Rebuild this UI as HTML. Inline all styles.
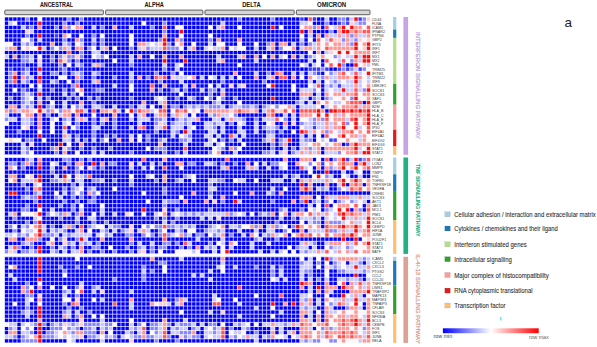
<!DOCTYPE html>
<html><head><meta charset="utf-8"><style>
html,body{margin:0;padding:0;background:#fff;}
body{width:597px;height:347px;overflow:hidden;position:relative;}
svg{position:absolute;left:0;top:0;display:block;}
text{font-family:"Liberation Sans",sans-serif;}
</style></head><body>
<svg width="597" height="347" viewBox="0 0 597 347">
<rect width="597" height="347" fill="#fff"/>
<g font-weight="bold" font-size="6.4" fill="#1a1a1a" stroke="#1a1a1a" stroke-width="0.06" text-anchor="middle">
<text x="56.5" y="6.8" textLength="33.2" lengthAdjust="spacingAndGlyphs">ANCESTRAL</text>
<text x="154.2" y="6.8" textLength="19.5" lengthAdjust="spacingAndGlyphs">ALPHA</text>
<text x="251.4" y="6.8" textLength="18.4" lengthAdjust="spacingAndGlyphs">DELTA</text>
<text x="331.6" y="6.8" textLength="29.2" lengthAdjust="spacingAndGlyphs">OMICRON</text>
</g>
<g fill="#d6d6d6" stroke="#505050" stroke-width="0.9">
<rect x="4.8" y="10.1" width="98.6" height="4.6" rx="0.8"/>
<rect x="105.6" y="10.1" width="97.3" height="4.6" rx="0.8"/>
<rect x="205" y="10.1" width="89.2" height="4.6" rx="0.8"/>
<rect x="296.4" y="10.1" width="73.6" height="4.6" rx="0.8"/>
</g>
<path fill="#0000fa" d="M4.50 17.00h20.80v4.18h-20.80zM29.46 17.00h8.32v4.18h-8.32zM41.94 17.00h24.96v4.18h-24.96zM71.06 17.00h8.32v4.18h-8.32zM83.54 17.00h153.92v4.18h-153.92zM241.62 17.00h29.12v4.18h-29.12zM274.90 17.00h24.96v4.18h-24.96zM304.02 17.00h4.16v4.18h-4.16zM316.50 17.00h8.32v4.18h-8.32zM328.98 17.00h8.32v4.18h-8.32zM4.50 21.18h4.16v4.18h-4.16zM16.98 21.18h20.80v4.18h-20.80zM41.94 21.18h20.80v4.18h-20.80zM66.90 21.18h8.32v4.18h-8.32zM79.38 21.18h62.40v4.18h-62.40zM145.94 21.18h16.64v4.18h-16.64zM166.74 21.18h54.08v4.18h-54.08zM224.98 21.18h74.88v4.18h-74.88zM312.34 21.18h12.48v4.18h-12.48zM328.98 21.18h8.32v4.18h-8.32zM4.50 25.35h16.64v4.18h-16.64zM33.62 25.35h4.16v4.18h-4.16zM41.94 25.35h12.48v4.18h-12.48zM58.58 25.35h4.16v4.18h-4.16zM83.54 25.35h8.32v4.18h-8.32zM96.02 25.35h4.16v4.18h-4.16zM104.34 25.35h8.32v4.18h-8.32zM116.82 25.35h12.48v4.18h-12.48zM133.46 25.35h16.64v4.18h-16.64zM154.26 25.35h8.32v4.18h-8.32zM166.74 25.35h8.32v4.18h-8.32zM183.38 25.35h24.96v4.18h-24.96zM212.50 25.35h4.16v4.18h-4.16zM224.98 25.35h12.48v4.18h-12.48zM241.62 25.35h29.12v4.18h-29.12zM274.90 25.35h4.16v4.18h-4.16zM283.22 25.35h16.64v4.18h-16.64zM320.66 25.35h4.16v4.18h-4.16zM4.50 29.53h20.80v4.18h-20.80zM33.62 29.53h128.96v4.18h-128.96zM166.74 29.53h12.48v4.18h-12.48zM183.38 29.53h116.48v4.18h-116.48zM304.02 29.53h4.16v4.18h-4.16zM312.34 29.53h16.64v4.18h-16.64zM333.14 29.53h4.16v4.18h-4.16zM4.50 33.70h20.80v4.18h-20.80zM29.46 33.70h8.32v4.18h-8.32zM41.94 33.70h12.48v4.18h-12.48zM58.58 33.70h4.16v4.18h-4.16zM71.06 33.70h8.32v4.18h-8.32zM83.54 33.70h8.32v4.18h-8.32zM96.02 33.70h4.16v4.18h-4.16zM104.34 33.70h24.96v4.18h-24.96zM133.46 33.70h29.12v4.18h-29.12zM166.74 33.70h12.48v4.18h-12.48zM183.38 33.70h24.96v4.18h-24.96zM212.50 33.70h87.36v4.18h-87.36zM304.02 33.70h4.16v4.18h-4.16zM312.34 33.70h4.16v4.18h-4.16zM320.66 33.70h4.16v4.18h-4.16zM4.50 37.88h16.64v4.18h-16.64zM33.62 37.88h4.16v4.18h-4.16zM41.94 37.88h20.80v4.18h-20.80zM66.90 37.88h8.32v4.18h-8.32zM83.54 37.88h8.32v4.18h-8.32zM96.02 37.88h4.16v4.18h-4.16zM104.34 37.88h24.96v4.18h-24.96zM133.46 37.88h24.96v4.18h-24.96zM166.74 37.88h8.32v4.18h-8.32zM183.38 37.88h24.96v4.18h-24.96zM212.50 37.88h4.16v4.18h-4.16zM220.82 37.88h16.64v4.18h-16.64zM241.62 37.88h58.24v4.18h-58.24zM304.02 37.88h4.16v4.18h-4.16zM312.34 37.88h4.16v4.18h-4.16zM12.82 42.06h8.32v4.18h-8.32zM33.62 42.06h16.64v4.18h-16.64zM54.42 42.06h8.32v4.18h-8.32zM71.06 42.06h4.16v4.18h-4.16zM83.54 42.06h8.32v4.18h-8.32zM96.02 42.06h4.16v4.18h-4.16zM104.34 42.06h24.96v4.18h-24.96zM133.46 42.06h4.16v4.18h-4.16zM170.90 42.06h4.16v4.18h-4.16zM183.38 42.06h8.32v4.18h-8.32zM195.86 42.06h12.48v4.18h-12.48zM212.50 42.06h4.16v4.18h-4.16zM224.98 42.06h12.48v4.18h-12.48zM241.62 42.06h12.48v4.18h-12.48zM258.26 42.06h8.32v4.18h-8.32zM274.90 42.06h4.16v4.18h-4.16zM287.38 42.06h4.16v4.18h-4.16zM295.70 42.06h4.16v4.18h-4.16zM304.02 42.06h4.16v4.18h-4.16zM16.98 46.23h4.16v4.18h-4.16zM46.10 46.23h4.16v4.18h-4.16zM71.06 46.23h4.16v4.18h-4.16zM83.54 46.23h4.16v4.18h-4.16zM96.02 46.23h4.16v4.18h-4.16zM108.50 46.23h4.16v4.18h-4.16zM116.82 46.23h12.48v4.18h-12.48zM133.46 46.23h4.16v4.18h-4.16zM183.38 46.23h4.16v4.18h-4.16zM195.86 46.23h8.32v4.18h-8.32zM224.98 46.23h4.16v4.18h-4.16zM245.78 46.23h8.32v4.18h-8.32zM258.26 46.23h8.32v4.18h-8.32zM274.90 46.23h4.16v4.18h-4.16zM295.70 46.23h4.16v4.18h-4.16zM4.50 50.41h62.40v4.18h-62.40zM71.06 50.41h8.32v4.18h-8.32zM83.54 50.41h8.32v4.18h-8.32zM100.18 50.41h208.00v4.18h-208.00zM312.34 50.41h4.16v4.18h-4.16zM320.66 50.41h4.16v4.18h-4.16zM8.66 54.58h4.16v4.18h-4.16zM16.98 54.58h4.16v4.18h-4.16zM33.62 54.58h4.16v4.18h-4.16zM41.94 54.58h8.32v4.18h-8.32zM54.42 54.58h4.16v4.18h-4.16zM83.54 54.58h8.32v4.18h-8.32zM108.50 54.58h20.80v4.18h-20.80zM133.46 54.58h4.16v4.18h-4.16zM141.78 54.58h8.32v4.18h-8.32zM154.26 54.58h8.32v4.18h-8.32zM166.74 54.58h12.48v4.18h-12.48zM183.38 54.58h33.28v4.18h-33.28zM220.82 54.58h16.64v4.18h-16.64zM245.78 54.58h8.32v4.18h-8.32zM258.26 54.58h4.16v4.18h-4.16zM266.58 54.58h4.16v4.18h-4.16zM274.90 54.58h4.16v4.18h-4.16zM287.38 54.58h4.16v4.18h-4.16zM295.70 54.58h4.16v4.18h-4.16zM304.02 54.58h4.16v4.18h-4.16zM4.50 58.76h16.64v4.18h-16.64zM33.62 58.76h4.16v4.18h-4.16zM41.94 58.76h8.32v4.18h-8.32zM54.42 58.76h4.16v4.18h-4.16zM71.06 58.76h4.16v4.18h-4.16zM79.38 58.76h33.28v4.18h-33.28zM116.82 58.76h12.48v4.18h-12.48zM133.46 58.76h29.12v4.18h-29.12zM166.74 58.76h16.64v4.18h-16.64zM187.54 58.76h29.12v4.18h-29.12zM224.98 58.76h29.12v4.18h-29.12zM258.26 58.76h49.92v4.18h-49.92zM312.34 58.76h4.16v4.18h-4.16zM320.66 58.76h4.16v4.18h-4.16zM4.50 62.94h16.64v4.18h-16.64zM25.30 62.94h12.48v4.18h-12.48zM41.94 62.94h16.64v4.18h-16.64zM62.74 62.94h4.16v4.18h-4.16zM71.06 62.94h4.16v4.18h-4.16zM83.54 62.94h8.32v4.18h-8.32zM104.34 62.94h24.96v4.18h-24.96zM133.46 62.94h29.12v4.18h-29.12zM166.74 62.94h8.32v4.18h-8.32zM183.38 62.94h54.08v4.18h-54.08zM241.62 62.94h58.24v4.18h-58.24zM308.18 62.94h4.16v4.18h-4.16zM320.66 62.94h4.16v4.18h-4.16zM345.62 62.94h8.32v4.18h-8.32zM4.50 67.11h4.16v4.18h-4.16zM12.82 67.11h8.32v4.18h-8.32zM29.46 67.11h8.32v4.18h-8.32zM41.94 67.11h16.64v4.18h-16.64zM66.90 67.11h12.48v4.18h-12.48zM83.54 67.11h79.04v4.18h-79.04zM166.74 67.11h8.32v4.18h-8.32zM179.22 67.11h128.96v4.18h-128.96zM328.98 67.11h8.32v4.18h-8.32zM4.50 71.29h4.16v4.18h-4.16zM16.98 71.29h4.16v4.18h-4.16zM29.46 71.29h8.32v4.18h-8.32zM41.94 71.29h8.32v4.18h-8.32zM58.58 71.29h4.16v4.18h-4.16zM66.90 71.29h4.16v4.18h-4.16zM83.54 71.29h8.32v4.18h-8.32zM100.18 71.29h29.12v4.18h-29.12zM133.46 71.29h20.80v4.18h-20.80zM158.42 71.29h12.48v4.18h-12.48zM175.06 71.29h4.16v4.18h-4.16zM183.38 71.29h49.92v4.18h-49.92zM237.46 71.29h16.64v4.18h-16.64zM258.26 71.29h8.32v4.18h-8.32zM270.74 71.29h4.16v4.18h-4.16zM283.22 71.29h8.32v4.18h-8.32zM295.70 71.29h4.16v4.18h-4.16zM304.02 71.29h4.16v4.18h-4.16zM320.66 71.29h4.16v4.18h-4.16zM4.50 75.46h4.16v4.18h-4.16zM16.98 75.46h4.16v4.18h-4.16zM33.62 75.46h4.16v4.18h-4.16zM41.94 75.46h16.64v4.18h-16.64zM66.90 75.46h8.32v4.18h-8.32zM83.54 75.46h8.32v4.18h-8.32zM96.02 75.46h16.64v4.18h-16.64zM116.82 75.46h12.48v4.18h-12.48zM133.46 75.46h4.16v4.18h-4.16zM141.78 75.46h4.16v4.18h-4.16zM150.10 75.46h4.16v4.18h-4.16zM166.74 75.46h4.16v4.18h-4.16zM195.86 75.46h4.16v4.18h-4.16zM204.18 75.46h4.16v4.18h-4.16zM216.66 75.46h4.16v4.18h-4.16zM224.98 75.46h4.16v4.18h-4.16zM233.30 75.46h4.16v4.18h-4.16zM241.62 75.46h12.48v4.18h-12.48zM258.26 75.46h8.32v4.18h-8.32zM274.90 75.46h4.16v4.18h-4.16zM287.38 75.46h4.16v4.18h-4.16zM295.70 75.46h4.16v4.18h-4.16zM304.02 75.46h4.16v4.18h-4.16zM4.50 79.64h4.16v4.18h-4.16zM16.98 79.64h4.16v4.18h-4.16zM29.46 79.64h8.32v4.18h-8.32zM41.94 79.64h8.32v4.18h-8.32zM58.58 79.64h8.32v4.18h-8.32zM71.06 79.64h4.16v4.18h-4.16zM79.38 79.64h12.48v4.18h-12.48zM100.18 79.64h29.12v4.18h-29.12zM133.46 79.64h24.96v4.18h-24.96zM162.58 79.64h16.64v4.18h-16.64zM183.38 79.64h37.44v4.18h-37.44zM224.98 79.64h37.44v4.18h-37.44zM266.58 79.64h41.60v4.18h-41.60zM312.34 79.64h4.16v4.18h-4.16zM320.66 79.64h4.16v4.18h-4.16zM4.50 83.82h24.96v4.18h-24.96zM33.62 83.82h4.16v4.18h-4.16zM41.94 83.82h29.12v4.18h-29.12zM79.38 83.82h33.28v4.18h-33.28zM116.82 83.82h12.48v4.18h-12.48zM133.46 83.82h16.64v4.18h-16.64zM154.26 83.82h8.32v4.18h-8.32zM166.74 83.82h16.64v4.18h-16.64zM187.54 83.82h4.16v4.18h-4.16zM195.86 83.82h12.48v4.18h-12.48zM212.50 83.82h4.16v4.18h-4.16zM220.82 83.82h8.32v4.18h-8.32zM233.30 83.82h4.16v4.18h-4.16zM245.78 83.82h20.80v4.18h-20.80zM274.90 83.82h16.64v4.18h-16.64zM295.70 83.82h12.48v4.18h-12.48zM320.66 83.82h4.16v4.18h-4.16zM4.50 87.99h8.32v4.18h-8.32zM16.98 87.99h4.16v4.18h-4.16zM29.46 87.99h8.32v4.18h-8.32zM41.94 87.99h8.32v4.18h-8.32zM54.42 87.99h8.32v4.18h-8.32zM66.90 87.99h4.16v4.18h-4.16zM83.54 87.99h8.32v4.18h-8.32zM104.34 87.99h24.96v4.18h-24.96zM133.46 87.99h16.64v4.18h-16.64zM154.26 87.99h4.16v4.18h-4.16zM162.58 87.99h8.32v4.18h-8.32zM179.22 87.99h4.16v4.18h-4.16zM187.54 87.99h12.48v4.18h-12.48zM204.18 87.99h4.16v4.18h-4.16zM216.66 87.99h4.16v4.18h-4.16zM224.98 87.99h66.56v4.18h-66.56zM295.70 87.99h4.16v4.18h-4.16zM320.66 87.99h4.16v4.18h-4.16zM4.50 92.17h16.64v4.18h-16.64zM33.62 92.17h4.16v4.18h-4.16zM41.94 92.17h20.80v4.18h-20.80zM66.90 92.17h4.16v4.18h-4.16zM75.22 92.17h4.16v4.18h-4.16zM83.54 92.17h95.68v4.18h-95.68zM183.38 92.17h24.96v4.18h-24.96zM212.50 92.17h8.32v4.18h-8.32zM224.98 92.17h74.88v4.18h-74.88zM312.34 92.17h4.16v4.18h-4.16zM320.66 92.17h4.16v4.18h-4.16zM4.50 96.34h4.16v4.18h-4.16zM12.82 96.34h8.32v4.18h-8.32zM33.62 96.34h4.16v4.18h-4.16zM41.94 96.34h4.16v4.18h-4.16zM50.26 96.34h16.64v4.18h-16.64zM71.06 96.34h4.16v4.18h-4.16zM79.38 96.34h8.32v4.18h-8.32zM91.86 96.34h4.16v4.18h-4.16zM100.18 96.34h29.12v4.18h-29.12zM133.46 96.34h20.80v4.18h-20.80zM166.74 96.34h8.32v4.18h-8.32zM179.22 96.34h8.32v4.18h-8.32zM195.86 96.34h8.32v4.18h-8.32zM212.50 96.34h4.16v4.18h-4.16zM224.98 96.34h8.32v4.18h-8.32zM237.46 96.34h33.28v4.18h-33.28zM274.90 96.34h24.96v4.18h-24.96zM308.18 96.34h4.16v4.18h-4.16zM320.66 96.34h4.16v4.18h-4.16zM4.50 100.52h16.64v4.18h-16.64zM33.62 100.52h4.16v4.18h-4.16zM41.94 100.52h8.32v4.18h-8.32zM54.42 100.52h8.32v4.18h-8.32zM66.90 100.52h12.48v4.18h-12.48zM83.54 100.52h8.32v4.18h-8.32zM96.02 100.52h45.76v4.18h-45.76zM145.94 100.52h12.48v4.18h-12.48zM166.74 100.52h45.76v4.18h-45.76zM220.82 100.52h16.64v4.18h-16.64zM241.62 100.52h54.08v4.18h-54.08zM304.02 100.52h4.16v4.18h-4.16zM312.34 100.52h4.16v4.18h-4.16zM362.26 100.52h4.16v4.18h-4.16zM4.50 104.70h4.16v4.18h-4.16zM16.98 104.70h4.16v4.18h-4.16zM33.62 104.70h4.16v4.18h-4.16zM41.94 104.70h4.16v4.18h-4.16zM54.42 104.70h8.32v4.18h-8.32zM66.90 104.70h4.16v4.18h-4.16zM83.54 104.70h8.32v4.18h-8.32zM104.34 104.70h8.32v4.18h-8.32zM116.82 104.70h12.48v4.18h-12.48zM133.46 104.70h4.16v4.18h-4.16zM145.94 104.70h4.16v4.18h-4.16zM154.26 104.70h8.32v4.18h-8.32zM166.74 104.70h4.16v4.18h-4.16zM179.22 104.70h4.16v4.18h-4.16zM224.98 104.70h4.16v4.18h-4.16zM258.26 104.70h4.16v4.18h-4.16zM295.70 104.70h4.16v4.18h-4.16zM320.66 104.70h4.16v4.18h-4.16zM87.70 108.87h4.16v4.18h-4.16zM96.02 108.87h4.16v4.18h-4.16zM120.98 108.87h4.16v4.18h-4.16zM166.74 108.87h4.16v4.18h-4.16zM200.02 108.87h4.16v4.18h-4.16zM258.26 108.87h4.16v4.18h-4.16zM295.70 108.87h4.16v4.18h-4.16zM324.82 108.87h4.16v4.18h-4.16zM8.66 113.05h12.48v4.18h-12.48zM33.62 113.05h4.16v4.18h-4.16zM41.94 113.05h4.16v4.18h-4.16zM50.26 113.05h8.32v4.18h-8.32zM71.06 113.05h4.16v4.18h-4.16zM79.38 113.05h12.48v4.18h-12.48zM96.02 113.05h16.64v4.18h-16.64zM116.82 113.05h12.48v4.18h-12.48zM133.46 113.05h4.16v4.18h-4.16zM145.94 113.05h8.32v4.18h-8.32zM166.74 113.05h4.16v4.18h-4.16zM187.54 113.05h4.16v4.18h-4.16zM195.86 113.05h12.48v4.18h-12.48zM237.46 113.05h29.12v4.18h-29.12zM274.90 113.05h8.32v4.18h-8.32zM287.38 113.05h4.16v4.18h-4.16zM295.70 113.05h4.16v4.18h-4.16zM16.98 117.22h4.16v4.18h-4.16zM33.62 117.22h4.16v4.18h-4.16zM41.94 117.22h8.32v4.18h-8.32zM58.58 117.22h4.16v4.18h-4.16zM71.06 117.22h4.16v4.18h-4.16zM87.70 117.22h4.16v4.18h-4.16zM96.02 117.22h4.16v4.18h-4.16zM108.50 117.22h4.16v4.18h-4.16zM116.82 117.22h12.48v4.18h-12.48zM133.46 117.22h4.16v4.18h-4.16zM150.10 117.22h4.16v4.18h-4.16zM166.74 117.22h8.32v4.18h-8.32zM200.02 117.22h12.48v4.18h-12.48zM220.82 117.22h4.16v4.18h-4.16zM245.78 117.22h8.32v4.18h-8.32zM258.26 117.22h4.16v4.18h-4.16zM287.38 117.22h4.16v4.18h-4.16zM295.70 117.22h4.16v4.18h-4.16zM8.66 121.40h12.48v4.18h-12.48zM33.62 121.40h4.16v4.18h-4.16zM41.94 121.40h8.32v4.18h-8.32zM54.42 121.40h8.32v4.18h-8.32zM71.06 121.40h4.16v4.18h-4.16zM79.38 121.40h12.48v4.18h-12.48zM96.02 121.40h4.16v4.18h-4.16zM104.34 121.40h8.32v4.18h-8.32zM116.82 121.40h20.80v4.18h-20.80zM141.78 121.40h12.48v4.18h-12.48zM166.74 121.40h4.16v4.18h-4.16zM191.70 121.40h12.48v4.18h-12.48zM224.98 121.40h4.16v4.18h-4.16zM233.30 121.40h4.16v4.18h-4.16zM245.78 121.40h8.32v4.18h-8.32zM258.26 121.40h8.32v4.18h-8.32zM274.90 121.40h8.32v4.18h-8.32zM287.38 121.40h4.16v4.18h-4.16zM295.70 121.40h4.16v4.18h-4.16zM4.50 125.58h16.64v4.18h-16.64zM29.46 125.58h8.32v4.18h-8.32zM41.94 125.58h8.32v4.18h-8.32zM54.42 125.58h8.32v4.18h-8.32zM66.90 125.58h4.16v4.18h-4.16zM79.38 125.58h12.48v4.18h-12.48zM100.18 125.58h12.48v4.18h-12.48zM116.82 125.58h12.48v4.18h-12.48zM133.46 125.58h4.16v4.18h-4.16zM145.94 125.58h8.32v4.18h-8.32zM166.74 125.58h4.16v4.18h-4.16zM183.38 125.58h4.16v4.18h-4.16zM195.86 125.58h8.32v4.18h-8.32zM216.66 125.58h4.16v4.18h-4.16zM224.98 125.58h12.48v4.18h-12.48zM241.62 125.58h12.48v4.18h-12.48zM258.26 125.58h4.16v4.18h-4.16zM279.06 125.58h4.16v4.18h-4.16zM287.38 125.58h12.48v4.18h-12.48zM4.50 129.75h12.48v4.18h-12.48zM21.14 129.75h16.64v4.18h-16.64zM41.94 129.75h8.32v4.18h-8.32zM54.42 129.75h8.32v4.18h-8.32zM66.90 129.75h24.96v4.18h-24.96zM96.02 129.75h58.24v4.18h-58.24zM158.42 129.75h12.48v4.18h-12.48zM179.22 129.75h4.16v4.18h-4.16zM191.70 129.75h16.64v4.18h-16.64zM216.66 129.75h4.16v4.18h-4.16zM224.98 129.75h12.48v4.18h-12.48zM245.78 129.75h8.32v4.18h-8.32zM258.26 129.75h8.32v4.18h-8.32zM274.90 129.75h4.16v4.18h-4.16zM283.22 129.75h8.32v4.18h-8.32zM295.70 129.75h4.16v4.18h-4.16zM4.50 133.93h33.28v4.18h-33.28zM41.94 133.93h20.80v4.18h-20.80zM71.06 133.93h4.16v4.18h-4.16zM79.38 133.93h12.48v4.18h-12.48zM96.02 133.93h8.32v4.18h-8.32zM108.50 133.93h4.16v4.18h-4.16zM116.82 133.93h12.48v4.18h-12.48zM133.46 133.93h4.16v4.18h-4.16zM141.78 133.93h4.16v4.18h-4.16zM150.10 133.93h20.80v4.18h-20.80zM175.06 133.93h4.16v4.18h-4.16zM191.70 133.93h12.48v4.18h-12.48zM212.50 133.93h4.16v4.18h-4.16zM220.82 133.93h8.32v4.18h-8.32zM237.46 133.93h4.16v4.18h-4.16zM245.78 133.93h20.80v4.18h-20.80zM274.90 133.93h24.96v4.18h-24.96zM304.02 133.93h4.16v4.18h-4.16zM312.34 133.93h4.16v4.18h-4.16zM320.66 133.93h4.16v4.18h-4.16zM21.14 138.10h4.16v4.18h-4.16zM33.62 138.10h8.32v4.18h-8.32zM46.10 138.10h16.64v4.18h-16.64zM71.06 138.10h4.16v4.18h-4.16zM79.38 138.10h4.16v4.18h-4.16zM87.70 138.10h4.16v4.18h-4.16zM96.02 138.10h4.16v4.18h-4.16zM108.50 138.10h8.32v4.18h-8.32zM120.98 138.10h8.32v4.18h-8.32zM133.46 138.10h4.16v4.18h-4.16zM141.78 138.10h4.16v4.18h-4.16zM150.10 138.10h8.32v4.18h-8.32zM166.74 138.10h12.48v4.18h-12.48zM191.70 138.10h16.64v4.18h-16.64zM216.66 138.10h4.16v4.18h-4.16zM224.98 138.10h4.16v4.18h-4.16zM233.30 138.10h4.16v4.18h-4.16zM241.62 138.10h20.80v4.18h-20.80zM274.90 138.10h4.16v4.18h-4.16zM291.54 138.10h8.32v4.18h-8.32zM312.34 138.10h4.16v4.18h-4.16zM4.50 142.28h16.64v4.18h-16.64zM25.30 142.28h4.16v4.18h-4.16zM33.62 142.28h24.96v4.18h-24.96zM62.74 142.28h4.16v4.18h-4.16zM71.06 142.28h8.32v4.18h-8.32zM83.54 142.28h74.88v4.18h-74.88zM162.58 142.28h20.80v4.18h-20.80zM187.54 142.28h16.64v4.18h-16.64zM212.50 142.28h4.16v4.18h-4.16zM224.98 142.28h16.64v4.18h-16.64zM245.78 142.28h24.96v4.18h-24.96zM274.90 142.28h4.16v4.18h-4.16zM287.38 142.28h12.48v4.18h-12.48zM341.46 142.28h4.16v4.18h-4.16zM4.50 146.46h16.64v4.18h-16.64zM29.46 146.46h20.80v4.18h-20.80zM58.58 146.46h4.16v4.18h-4.16zM71.06 146.46h8.32v4.18h-8.32zM83.54 146.46h8.32v4.18h-8.32zM96.02 146.46h12.48v4.18h-12.48zM112.66 146.46h33.28v4.18h-33.28zM150.10 146.46h4.16v4.18h-4.16zM166.74 146.46h16.64v4.18h-16.64zM187.54 146.46h24.96v4.18h-24.96zM224.98 146.46h4.16v4.18h-4.16zM241.62 146.46h29.12v4.18h-29.12zM274.90 146.46h8.32v4.18h-8.32zM287.38 146.46h4.16v4.18h-4.16zM295.70 146.46h4.16v4.18h-4.16zM320.66 146.46h4.16v4.18h-4.16zM4.50 150.63h16.64v4.18h-16.64zM33.62 150.63h20.80v4.18h-20.80zM58.58 150.63h4.16v4.18h-4.16zM66.90 150.63h8.32v4.18h-8.32zM79.38 150.63h12.48v4.18h-12.48zM96.02 150.63h4.16v4.18h-4.16zM104.34 150.63h24.96v4.18h-24.96zM133.46 150.63h29.12v4.18h-29.12zM166.74 150.63h8.32v4.18h-8.32zM179.22 150.63h4.16v4.18h-4.16zM187.54 150.63h20.80v4.18h-20.80zM220.82 150.63h12.48v4.18h-12.48zM237.46 150.63h24.96v4.18h-24.96zM274.90 150.63h4.16v4.18h-4.16zM287.38 150.63h4.16v4.18h-4.16zM320.66 150.63h4.16v4.18h-4.16zM4.50 157.50h20.80v4.19h-20.80zM33.62 157.50h4.16v4.19h-4.16zM41.94 157.50h20.80v4.19h-20.80zM71.06 157.50h8.32v4.19h-8.32zM83.54 157.50h4.16v4.19h-4.16zM91.86 157.50h49.92v4.19h-49.92zM145.94 157.50h16.64v4.19h-16.64zM166.74 157.50h58.24v4.19h-58.24zM229.14 157.50h54.08v4.19h-54.08zM287.38 157.50h12.48v4.19h-12.48zM312.34 157.50h4.16v4.19h-4.16zM320.66 157.50h4.16v4.19h-4.16zM328.98 157.50h4.16v4.19h-4.16zM4.50 161.69h4.16v4.19h-4.16zM16.98 161.69h4.16v4.19h-4.16zM33.62 161.69h4.16v4.19h-4.16zM41.94 161.69h8.32v4.19h-8.32zM58.58 161.69h8.32v4.19h-8.32zM71.06 161.69h4.16v4.19h-4.16zM83.54 161.69h8.32v4.19h-8.32zM96.02 161.69h4.16v4.19h-4.16zM104.34 161.69h4.16v4.19h-4.16zM116.82 161.69h12.48v4.19h-12.48zM133.46 161.69h4.16v4.19h-4.16zM141.78 161.69h8.32v4.19h-8.32zM154.26 161.69h4.16v4.19h-4.16zM162.58 161.69h12.48v4.19h-12.48zM183.38 161.69h4.16v4.19h-4.16zM195.86 161.69h8.32v4.19h-8.32zM216.66 161.69h4.16v4.19h-4.16zM224.98 161.69h8.32v4.19h-8.32zM237.46 161.69h8.32v4.19h-8.32zM249.94 161.69h4.16v4.19h-4.16zM258.26 161.69h4.16v4.19h-4.16zM266.58 161.69h4.16v4.19h-4.16zM287.38 161.69h8.32v4.19h-8.32zM353.94 161.69h4.16v4.19h-4.16zM4.50 165.88h4.16v4.19h-4.16zM16.98 165.88h4.16v4.19h-4.16zM25.30 165.88h12.48v4.19h-12.48zM41.94 165.88h8.32v4.19h-8.32zM54.42 165.88h8.32v4.19h-8.32zM66.90 165.88h8.32v4.19h-8.32zM83.54 165.88h4.16v4.19h-4.16zM96.02 165.88h4.16v4.19h-4.16zM104.34 165.88h24.96v4.19h-24.96zM133.46 165.88h8.32v4.19h-8.32zM145.94 165.88h4.16v4.19h-4.16zM154.26 165.88h8.32v4.19h-8.32zM166.74 165.88h12.48v4.19h-12.48zM183.38 165.88h37.44v4.19h-37.44zM229.14 165.88h16.64v4.19h-16.64zM258.26 165.88h8.32v4.19h-8.32zM270.74 165.88h8.32v4.19h-8.32zM287.38 165.88h12.48v4.19h-12.48zM312.34 165.88h4.16v4.19h-4.16zM320.66 165.88h4.16v4.19h-4.16zM4.50 170.07h45.76v4.19h-45.76zM54.42 170.07h20.80v4.19h-20.80zM79.38 170.07h228.80v4.19h-228.80zM312.34 170.07h12.48v4.19h-12.48zM328.98 170.07h12.48v4.19h-12.48zM345.62 170.07h8.32v4.19h-8.32zM362.26 170.07h8.32v4.19h-8.32zM4.50 174.26h4.16v4.19h-4.16zM16.98 174.26h8.32v4.19h-8.32zM33.62 174.26h4.16v4.19h-4.16zM41.94 174.26h12.48v4.19h-12.48zM58.58 174.26h4.16v4.19h-4.16zM71.06 174.26h4.16v4.19h-4.16zM91.86 174.26h37.44v4.19h-37.44zM133.46 174.26h12.48v4.19h-12.48zM154.26 174.26h8.32v4.19h-8.32zM166.74 174.26h16.64v4.19h-16.64zM195.86 174.26h87.36v4.19h-87.36zM287.38 174.26h4.16v4.19h-4.16zM299.86 174.26h12.48v4.19h-12.48zM333.14 174.26h8.32v4.19h-8.32zM349.78 174.26h8.32v4.19h-8.32zM362.26 174.26h8.32v4.19h-8.32zM4.50 178.45h4.16v4.19h-4.16zM16.98 178.45h4.16v4.19h-4.16zM41.94 178.45h8.32v4.19h-8.32zM71.06 178.45h4.16v4.19h-4.16zM83.54 178.45h8.32v4.19h-8.32zM104.34 178.45h8.32v4.19h-8.32zM116.82 178.45h12.48v4.19h-12.48zM133.46 178.45h20.80v4.19h-20.80zM158.42 178.45h4.16v4.19h-4.16zM166.74 178.45h8.32v4.19h-8.32zM183.38 178.45h8.32v4.19h-8.32zM195.86 178.45h12.48v4.19h-12.48zM224.98 178.45h8.32v4.19h-8.32zM245.78 178.45h8.32v4.19h-8.32zM258.26 178.45h12.48v4.19h-12.48zM283.22 178.45h8.32v4.19h-8.32zM295.70 178.45h4.16v4.19h-4.16zM4.50 182.64h16.64v4.19h-16.64zM25.30 182.64h8.32v4.19h-8.32zM41.94 182.64h29.12v4.19h-29.12zM75.22 182.64h4.16v4.19h-4.16zM83.54 182.64h45.76v4.19h-45.76zM133.46 182.64h74.88v4.19h-74.88zM212.50 182.64h87.36v4.19h-87.36zM304.02 182.64h4.16v4.19h-4.16zM312.34 182.64h12.48v4.19h-12.48zM328.98 182.64h8.32v4.19h-8.32zM345.62 182.64h4.16v4.19h-4.16zM362.26 182.64h4.16v4.19h-4.16zM4.50 186.83h20.80v4.19h-20.80zM29.46 186.83h4.16v4.19h-4.16zM41.94 186.83h20.80v4.19h-20.80zM66.90 186.83h4.16v4.19h-4.16zM83.54 186.83h4.16v4.19h-4.16zM96.02 186.83h16.64v4.19h-16.64zM116.82 186.83h45.76v4.19h-45.76zM166.74 186.83h41.60v4.19h-41.60zM216.66 186.83h54.08v4.19h-54.08zM274.90 186.83h8.32v4.19h-8.32zM287.38 186.83h12.48v4.19h-12.48zM312.34 186.83h4.16v4.19h-4.16zM328.98 186.83h8.32v4.19h-8.32zM4.50 191.02h4.16v4.19h-4.16zM16.98 191.02h8.32v4.19h-8.32zM29.46 191.02h4.16v4.19h-4.16zM41.94 191.02h12.48v4.19h-12.48zM58.58 191.02h4.16v4.19h-4.16zM66.90 191.02h4.16v4.19h-4.16zM83.54 191.02h4.16v4.19h-4.16zM100.18 191.02h41.60v4.19h-41.60zM145.94 191.02h16.64v4.19h-16.64zM166.74 191.02h24.96v4.19h-24.96zM195.86 191.02h12.48v4.19h-12.48zM212.50 191.02h20.80v4.19h-20.80zM237.46 191.02h12.48v4.19h-12.48zM254.10 191.02h12.48v4.19h-12.48zM274.90 191.02h4.16v4.19h-4.16zM283.22 191.02h87.36v4.19h-87.36zM4.50 195.21h16.64v4.19h-16.64zM41.94 195.21h12.48v4.19h-12.48zM62.74 195.21h8.32v4.19h-8.32zM75.22 195.21h4.16v4.19h-4.16zM83.54 195.21h8.32v4.19h-8.32zM96.02 195.21h83.20v4.19h-83.20zM183.38 195.21h24.96v4.19h-24.96zM212.50 195.21h8.32v4.19h-8.32zM224.98 195.21h74.88v4.19h-74.88zM312.34 195.21h4.16v4.19h-4.16zM320.66 195.21h4.16v4.19h-4.16zM4.50 199.40h29.12v4.19h-29.12zM37.78 199.40h24.96v4.19h-24.96zM66.90 199.40h8.32v4.19h-8.32zM79.38 199.40h8.32v4.19h-8.32zM96.02 199.40h49.92v4.19h-49.92zM150.10 199.40h12.48v4.19h-12.48zM179.22 199.40h4.16v4.19h-4.16zM187.54 199.40h16.64v4.19h-16.64zM208.34 199.40h4.16v4.19h-4.16zM216.66 199.40h4.16v4.19h-4.16zM224.98 199.40h8.32v4.19h-8.32zM241.62 199.40h29.12v4.19h-29.12zM274.90 199.40h16.64v4.19h-16.64zM295.70 199.40h4.16v4.19h-4.16zM308.18 199.40h4.16v4.19h-4.16zM320.66 199.40h4.16v4.19h-4.16zM333.14 199.40h4.16v4.19h-4.16zM366.42 199.40h4.16v4.19h-4.16zM4.50 203.59h20.80v4.19h-20.80zM29.46 203.59h8.32v4.19h-8.32zM41.94 203.59h16.64v4.19h-16.64zM62.74 203.59h8.32v4.19h-8.32zM75.22 203.59h4.16v4.19h-4.16zM83.54 203.59h16.64v4.19h-16.64zM104.34 203.59h58.24v4.19h-58.24zM166.74 203.59h141.44v4.19h-141.44zM312.34 203.59h4.16v4.19h-4.16zM320.66 203.59h4.16v4.19h-4.16zM328.98 203.59h4.16v4.19h-4.16zM362.26 203.59h4.16v4.19h-4.16zM4.50 207.78h16.64v4.19h-16.64zM29.46 207.78h8.32v4.19h-8.32zM41.94 207.78h8.32v4.19h-8.32zM54.42 207.78h16.64v4.19h-16.64zM75.22 207.78h4.16v4.19h-4.16zM83.54 207.78h16.64v4.19h-16.64zM104.34 207.78h37.44v4.19h-37.44zM145.94 207.78h16.64v4.19h-16.64zM166.74 207.78h8.32v4.19h-8.32zM179.22 207.78h29.12v4.19h-29.12zM212.50 207.78h66.56v4.19h-66.56zM287.38 207.78h12.48v4.19h-12.48zM304.02 207.78h4.16v4.19h-4.16zM320.66 207.78h4.16v4.19h-4.16zM349.78 207.78h4.16v4.19h-4.16zM362.26 207.78h4.16v4.19h-4.16zM4.50 211.97h4.16v4.19h-4.16zM16.98 211.97h4.16v4.19h-4.16zM41.94 211.97h4.16v4.19h-4.16zM71.06 211.97h4.16v4.19h-4.16zM83.54 211.97h8.32v4.19h-8.32zM96.02 211.97h4.16v4.19h-4.16zM104.34 211.97h8.32v4.19h-8.32zM116.82 211.97h8.32v4.19h-8.32zM133.46 211.97h8.32v4.19h-8.32zM145.94 211.97h8.32v4.19h-8.32zM166.74 211.97h4.16v4.19h-4.16zM245.78 211.97h4.16v4.19h-4.16zM254.10 211.97h4.16v4.19h-4.16zM274.90 211.97h4.16v4.19h-4.16zM287.38 211.97h4.16v4.19h-4.16zM4.50 216.16h8.32v4.19h-8.32zM16.98 216.16h16.64v4.19h-16.64zM41.94 216.16h16.64v4.19h-16.64zM62.74 216.16h12.48v4.19h-12.48zM79.38 216.16h8.32v4.19h-8.32zM96.02 216.16h58.24v4.19h-58.24zM158.42 216.16h4.16v4.19h-4.16zM166.74 216.16h8.32v4.19h-8.32zM179.22 216.16h20.80v4.19h-20.80zM204.18 216.16h4.16v4.19h-4.16zM212.50 216.16h4.16v4.19h-4.16zM220.82 216.16h58.24v4.19h-58.24zM283.22 216.16h8.32v4.19h-8.32zM295.70 216.16h4.16v4.19h-4.16zM320.66 216.16h4.16v4.19h-4.16zM4.50 220.35h20.80v4.19h-20.80zM29.46 220.35h4.16v4.19h-4.16zM41.94 220.35h33.28v4.19h-33.28zM79.38 220.35h12.48v4.19h-12.48zM96.02 220.35h8.32v4.19h-8.32zM108.50 220.35h54.08v4.19h-54.08zM166.74 220.35h4.16v4.19h-4.16zM175.06 220.35h99.84v4.19h-99.84zM279.06 220.35h20.80v4.19h-20.80zM304.02 220.35h4.16v4.19h-4.16zM320.66 220.35h4.16v4.19h-4.16zM4.50 224.54h4.16v4.19h-4.16zM16.98 224.54h4.16v4.19h-4.16zM46.10 224.54h4.16v4.19h-4.16zM54.42 224.54h8.32v4.19h-8.32zM75.22 224.54h4.16v4.19h-4.16zM83.54 224.54h4.16v4.19h-4.16zM104.34 224.54h4.16v4.19h-4.16zM120.98 224.54h8.32v4.19h-8.32zM133.46 224.54h8.32v4.19h-8.32zM195.86 224.54h12.48v4.19h-12.48zM224.98 224.54h4.16v4.19h-4.16zM262.42 224.54h4.16v4.19h-4.16zM287.38 224.54h4.16v4.19h-4.16zM320.66 224.54h4.16v4.19h-4.16zM4.50 228.73h8.32v4.19h-8.32zM16.98 228.73h4.16v4.19h-4.16zM46.10 228.73h4.16v4.19h-4.16zM66.90 228.73h8.32v4.19h-8.32zM83.54 228.73h4.16v4.19h-4.16zM91.86 228.73h8.32v4.19h-8.32zM108.50 228.73h4.16v4.19h-4.16zM116.82 228.73h4.16v4.19h-4.16zM133.46 228.73h4.16v4.19h-4.16zM150.10 228.73h8.32v4.19h-8.32zM166.74 228.73h8.32v4.19h-8.32zM183.38 228.73h4.16v4.19h-4.16zM195.86 228.73h8.32v4.19h-8.32zM224.98 228.73h12.48v4.19h-12.48zM241.62 228.73h12.48v4.19h-12.48zM258.26 228.73h8.32v4.19h-8.32zM274.90 228.73h8.32v4.19h-8.32zM291.54 228.73h8.32v4.19h-8.32zM304.02 228.73h4.16v4.19h-4.16zM58.58 232.92h4.16v4.19h-4.16zM91.86 232.92h4.16v4.19h-4.16zM112.66 232.92h12.48v4.19h-12.48zM133.46 232.92h8.32v4.19h-8.32zM154.26 232.92h4.16v4.19h-4.16zM191.70 232.92h4.16v4.19h-4.16zM204.18 232.92h4.16v4.19h-4.16zM224.98 232.92h4.16v4.19h-4.16zM233.30 232.92h8.32v4.19h-8.32zM245.78 232.92h4.16v4.19h-4.16zM258.26 232.92h4.16v4.19h-4.16zM287.38 232.92h4.16v4.19h-4.16zM4.50 237.11h4.16v4.19h-4.16zM16.98 237.11h8.32v4.19h-8.32zM41.94 237.11h8.32v4.19h-8.32zM54.42 237.11h4.16v4.19h-4.16zM66.90 237.11h8.32v4.19h-8.32zM87.70 237.11h12.48v4.19h-12.48zM104.34 237.11h24.96v4.19h-24.96zM133.46 237.11h29.12v4.19h-29.12zM166.74 237.11h29.12v4.19h-29.12zM200.02 237.11h20.80v4.19h-20.80zM224.98 237.11h29.12v4.19h-29.12zM262.42 237.11h12.48v4.19h-12.48zM279.06 237.11h62.40v4.19h-62.40zM345.62 237.11h8.32v4.19h-8.32zM358.10 237.11h4.16v4.19h-4.16zM4.50 241.30h16.64v4.19h-16.64zM33.62 241.30h12.48v4.19h-12.48zM54.42 241.30h8.32v4.19h-8.32zM75.22 241.30h4.16v4.19h-4.16zM91.86 241.30h4.16v4.19h-4.16zM100.18 241.30h29.12v4.19h-29.12zM133.46 241.30h4.16v4.19h-4.16zM141.78 241.30h8.32v4.19h-8.32zM154.26 241.30h8.32v4.19h-8.32zM170.90 241.30h4.16v4.19h-4.16zM179.22 241.30h4.16v4.19h-4.16zM191.70 241.30h16.64v4.19h-16.64zM212.50 241.30h4.16v4.19h-4.16zM224.98 241.30h4.16v4.19h-4.16zM237.46 241.30h12.48v4.19h-12.48zM254.10 241.30h12.48v4.19h-12.48zM270.74 241.30h29.12v4.19h-29.12zM316.50 241.30h8.32v4.19h-8.32zM4.50 245.49h4.16v4.19h-4.16zM21.14 245.49h8.32v4.19h-8.32zM33.62 245.49h4.16v4.19h-4.16zM41.94 245.49h8.32v4.19h-8.32zM54.42 245.49h4.16v4.19h-4.16zM66.90 245.49h4.16v4.19h-4.16zM75.22 245.49h4.16v4.19h-4.16zM83.54 245.49h8.32v4.19h-8.32zM100.18 245.49h8.32v4.19h-8.32zM112.66 245.49h12.48v4.19h-12.48zM129.30 245.49h8.32v4.19h-8.32zM145.94 245.49h4.16v4.19h-4.16zM154.26 245.49h4.16v4.19h-4.16zM166.74 245.49h12.48v4.19h-12.48zM183.38 245.49h4.16v4.19h-4.16zM191.70 245.49h4.16v4.19h-4.16zM200.02 245.49h4.16v4.19h-4.16zM216.66 245.49h4.16v4.19h-4.16zM224.98 245.49h4.16v4.19h-4.16zM233.30 245.49h16.64v4.19h-16.64zM254.10 245.49h33.28v4.19h-33.28zM291.54 245.49h4.16v4.19h-4.16zM308.18 245.49h4.16v4.19h-4.16zM316.50 245.49h8.32v4.19h-8.32zM16.98 249.68h4.16v4.19h-4.16zM41.94 249.68h8.32v4.19h-8.32zM58.58 249.68h4.16v4.19h-4.16zM66.90 249.68h4.16v4.19h-4.16zM83.54 249.68h4.16v4.19h-4.16zM91.86 249.68h8.32v4.19h-8.32zM104.34 249.68h8.32v4.19h-8.32zM116.82 249.68h12.48v4.19h-12.48zM133.46 249.68h4.16v4.19h-4.16zM145.94 249.68h4.16v4.19h-4.16zM154.26 249.68h4.16v4.19h-4.16zM162.58 249.68h12.48v4.19h-12.48zM200.02 249.68h12.48v4.19h-12.48zM216.66 249.68h4.16v4.19h-4.16zM229.14 249.68h29.12v4.19h-29.12zM262.42 249.68h8.32v4.19h-8.32zM274.90 249.68h4.16v4.19h-4.16zM287.38 249.68h4.16v4.19h-4.16zM295.70 249.68h4.16v4.19h-4.16zM4.50 256.80h33.28v4.10h-33.28zM41.94 256.80h33.28v4.10h-33.28zM79.38 256.80h70.72v4.10h-70.72zM154.26 256.80h24.96v4.10h-24.96zM183.38 256.80h37.44v4.10h-37.44zM224.98 256.80h74.88v4.10h-74.88zM304.02 256.80h4.16v4.10h-4.16zM312.34 256.80h4.16v4.10h-4.16zM320.66 256.80h4.16v4.10h-4.16zM4.50 260.90h33.28v4.10h-33.28zM41.94 260.90h116.48v4.10h-116.48zM166.74 260.90h54.08v4.10h-54.08zM224.98 260.90h74.88v4.10h-74.88zM312.34 260.90h4.16v4.10h-4.16zM320.66 260.90h4.16v4.10h-4.16zM328.98 260.90h4.16v4.10h-4.16zM345.62 260.90h4.16v4.10h-4.16zM362.26 260.90h4.16v4.10h-4.16zM4.50 265.00h4.16v4.10h-4.16zM16.98 265.00h20.80v4.10h-20.80zM41.94 265.00h16.64v4.10h-16.64zM62.74 265.00h12.48v4.10h-12.48zM79.38 265.00h8.32v4.10h-8.32zM91.86 265.00h49.92v4.10h-49.92zM145.94 265.00h16.64v4.10h-16.64zM166.74 265.00h49.92v4.10h-49.92zM224.98 265.00h8.32v4.10h-8.32zM237.46 265.00h16.64v4.10h-16.64zM258.26 265.00h12.48v4.10h-12.48zM274.90 265.00h4.16v4.10h-4.16zM283.22 265.00h16.64v4.10h-16.64zM312.34 265.00h4.16v4.10h-4.16zM320.66 265.00h4.16v4.10h-4.16zM4.50 269.10h33.28v4.10h-33.28zM41.94 269.10h20.80v4.10h-20.80zM66.90 269.10h74.88v4.10h-74.88zM145.94 269.10h4.16v4.10h-4.16zM154.26 269.10h8.32v4.10h-8.32zM166.74 269.10h41.60v4.10h-41.60zM212.50 269.10h8.32v4.10h-8.32zM224.98 269.10h45.76v4.10h-45.76zM274.90 269.10h4.16v4.10h-4.16zM283.22 269.10h16.64v4.10h-16.64zM312.34 269.10h12.48v4.10h-12.48zM328.98 269.10h8.32v4.10h-8.32zM4.50 273.20h4.16v4.10h-4.16zM12.82 273.20h49.92v4.10h-49.92zM66.90 273.20h74.88v4.10h-74.88zM145.94 273.20h45.76v4.10h-45.76zM195.86 273.20h4.16v4.10h-4.16zM204.18 273.20h66.56v4.10h-66.56zM274.90 273.20h4.16v4.10h-4.16zM283.22 273.20h16.64v4.10h-16.64zM304.02 273.20h4.16v4.10h-4.16zM312.34 273.20h12.48v4.10h-12.48zM328.98 273.20h24.96v4.10h-24.96zM358.10 273.20h8.32v4.10h-8.32zM4.50 277.30h8.32v4.10h-8.32zM16.98 277.30h20.80v4.10h-20.80zM41.94 277.30h70.72v4.10h-70.72zM116.82 277.30h24.96v4.10h-24.96zM145.94 277.30h62.40v4.10h-62.40zM212.50 277.30h58.24v4.10h-58.24zM279.06 277.30h4.16v4.10h-4.16zM287.38 277.30h12.48v4.10h-12.48zM304.02 277.30h4.16v4.10h-4.16zM312.34 277.30h4.16v4.10h-4.16zM320.66 277.30h4.16v4.10h-4.16zM328.98 277.30h8.32v4.10h-8.32zM362.26 277.30h4.16v4.10h-4.16zM4.50 281.40h20.80v4.10h-20.80zM29.46 281.40h8.32v4.10h-8.32zM41.94 281.40h37.44v4.10h-37.44zM83.54 281.40h216.32v4.10h-216.32zM312.34 281.40h12.48v4.10h-12.48zM328.98 281.40h8.32v4.10h-8.32zM345.62 281.40h4.16v4.10h-4.16zM4.50 285.50h16.64v4.10h-16.64zM33.62 285.50h4.16v4.10h-4.16zM41.94 285.50h8.32v4.10h-8.32zM54.42 285.50h8.32v4.10h-8.32zM66.90 285.50h8.32v4.10h-8.32zM83.54 285.50h8.32v4.10h-8.32zM100.18 285.50h137.28v4.10h-137.28zM241.62 285.50h58.24v4.10h-58.24zM304.02 285.50h4.16v4.10h-4.16zM312.34 285.50h4.16v4.10h-4.16zM320.66 285.50h4.16v4.10h-4.16zM337.30 285.50h4.16v4.10h-4.16zM4.50 289.60h16.64v4.10h-16.64zM33.62 289.60h29.12v4.10h-29.12zM71.06 289.60h4.16v4.10h-4.16zM83.54 289.60h8.32v4.10h-8.32zM96.02 289.60h4.16v4.10h-4.16zM104.34 289.60h24.96v4.10h-24.96zM133.46 289.60h174.72v4.10h-174.72zM312.34 289.60h4.16v4.10h-4.16zM320.66 289.60h4.16v4.10h-4.16zM333.14 289.60h16.64v4.10h-16.64zM4.50 293.70h20.80v4.10h-20.80zM33.62 293.70h4.16v4.10h-4.16zM41.94 293.70h20.80v4.10h-20.80zM66.90 293.70h8.32v4.10h-8.32zM79.38 293.70h133.12v4.10h-133.12zM216.66 293.70h37.44v4.10h-37.44zM258.26 293.70h20.80v4.10h-20.80zM283.22 293.70h16.64v4.10h-16.64zM312.34 293.70h12.48v4.10h-12.48zM328.98 293.70h12.48v4.10h-12.48zM362.26 293.70h4.16v4.10h-4.16zM4.50 297.80h20.80v4.10h-20.80zM33.62 297.80h4.16v4.10h-4.16zM41.94 297.80h20.80v4.10h-20.80zM71.06 297.80h4.16v4.10h-4.16zM79.38 297.80h12.48v4.10h-12.48zM96.02 297.80h4.16v4.10h-4.16zM104.34 297.80h24.96v4.10h-24.96zM133.46 297.80h29.12v4.10h-29.12zM166.74 297.80h8.32v4.10h-8.32zM187.54 297.80h24.96v4.10h-24.96zM220.82 297.80h12.48v4.10h-12.48zM237.46 297.80h62.40v4.10h-62.40zM312.34 297.80h4.16v4.10h-4.16zM320.66 297.80h4.16v4.10h-4.16zM4.50 301.90h8.32v4.10h-8.32zM16.98 301.90h8.32v4.10h-8.32zM29.46 301.90h8.32v4.10h-8.32zM41.94 301.90h20.80v4.10h-20.80zM66.90 301.90h4.16v4.10h-4.16zM79.38 301.90h33.28v4.10h-33.28zM116.82 301.90h12.48v4.10h-12.48zM133.46 301.90h16.64v4.10h-16.64zM170.90 301.90h4.16v4.10h-4.16zM183.38 301.90h29.12v4.10h-29.12zM220.82 301.90h16.64v4.10h-16.64zM241.62 301.90h29.12v4.10h-29.12zM274.90 301.90h8.32v4.10h-8.32zM287.38 301.90h4.16v4.10h-4.16zM295.70 301.90h4.16v4.10h-4.16zM312.34 301.90h4.16v4.10h-4.16zM320.66 301.90h4.16v4.10h-4.16zM362.26 301.90h4.16v4.10h-4.16zM4.50 306.00h20.80v4.10h-20.80zM29.46 306.00h8.32v4.10h-8.32zM41.94 306.00h24.96v4.10h-24.96zM71.06 306.00h8.32v4.10h-8.32zM83.54 306.00h45.76v4.10h-45.76zM133.46 306.00h120.64v4.10h-120.64zM258.26 306.00h12.48v4.10h-12.48zM274.90 306.00h24.96v4.10h-24.96zM316.50 306.00h8.32v4.10h-8.32zM333.14 306.00h12.48v4.10h-12.48zM362.26 306.00h4.16v4.10h-4.16zM4.50 310.10h16.64v4.10h-16.64zM33.62 310.10h4.16v4.10h-4.16zM41.94 310.10h20.80v4.10h-20.80zM71.06 310.10h4.16v4.10h-4.16zM79.38 310.10h8.32v4.10h-8.32zM91.86 310.10h87.36v4.10h-87.36zM183.38 310.10h24.96v4.10h-24.96zM212.50 310.10h8.32v4.10h-8.32zM224.98 310.10h54.08v4.10h-54.08zM283.22 310.10h16.64v4.10h-16.64zM312.34 310.10h4.16v4.10h-4.16zM320.66 310.10h4.16v4.10h-4.16zM4.50 314.20h20.80v4.10h-20.80zM29.46 314.20h8.32v4.10h-8.32zM41.94 314.20h20.80v4.10h-20.80zM71.06 314.20h4.16v4.10h-4.16zM83.54 314.20h8.32v4.10h-8.32zM96.02 314.20h4.16v4.10h-4.16zM104.34 314.20h133.12v4.10h-133.12zM241.62 314.20h29.12v4.10h-29.12zM274.90 314.20h24.96v4.10h-24.96zM304.02 314.20h4.16v4.10h-4.16zM312.34 314.20h4.16v4.10h-4.16zM320.66 314.20h4.16v4.10h-4.16zM4.50 318.30h33.28v4.10h-33.28zM41.94 318.30h37.44v4.10h-37.44zM83.54 318.30h16.64v4.10h-16.64zM104.34 318.30h24.96v4.10h-24.96zM133.46 318.30h29.12v4.10h-29.12zM166.74 318.30h16.64v4.10h-16.64zM187.54 318.30h112.32v4.10h-112.32zM312.34 318.30h4.16v4.10h-4.16zM320.66 318.30h4.16v4.10h-4.16zM16.98 322.40h4.16v4.10h-4.16zM46.10 322.40h4.16v4.10h-4.16zM116.82 322.40h12.48v4.10h-12.48zM133.46 322.40h4.16v4.10h-4.16zM145.94 322.40h4.16v4.10h-4.16zM170.90 322.40h4.16v4.10h-4.16zM195.86 322.40h4.16v4.10h-4.16zM204.18 322.40h4.16v4.10h-4.16zM216.66 322.40h4.16v4.10h-4.16zM224.98 322.40h8.32v4.10h-8.32zM249.94 322.40h4.16v4.10h-4.16zM258.26 322.40h4.16v4.10h-4.16zM4.50 326.50h4.16v4.10h-4.16zM16.98 326.50h4.16v4.10h-4.16zM33.62 326.50h4.16v4.10h-4.16zM41.94 326.50h8.32v4.10h-8.32zM79.38 326.50h4.16v4.10h-4.16zM96.02 326.50h4.16v4.10h-4.16zM112.66 326.50h16.64v4.10h-16.64zM145.94 326.50h4.16v4.10h-4.16zM166.74 326.50h4.16v4.10h-4.16zM187.54 326.50h4.16v4.10h-4.16zM200.02 326.50h4.16v4.10h-4.16zM224.98 326.50h4.16v4.10h-4.16zM233.30 326.50h8.32v4.10h-8.32zM249.94 326.50h20.80v4.10h-20.80zM274.90 326.50h4.16v4.10h-4.16zM283.22 326.50h16.64v4.10h-16.64zM312.34 326.50h4.16v4.10h-4.16zM4.50 330.60h4.16v4.10h-4.16zM16.98 330.60h4.16v4.10h-4.16zM33.62 330.60h4.16v4.10h-4.16zM41.94 330.60h4.16v4.10h-4.16zM96.02 330.60h4.16v4.10h-4.16zM104.34 330.60h4.16v4.10h-4.16zM112.66 330.60h12.48v4.10h-12.48zM133.46 330.60h4.16v4.10h-4.16zM145.94 330.60h4.16v4.10h-4.16zM166.74 330.60h4.16v4.10h-4.16zM195.86 330.60h8.32v4.10h-8.32zM224.98 330.60h4.16v4.10h-4.16zM245.78 330.60h8.32v4.10h-8.32zM258.26 330.60h12.48v4.10h-12.48zM274.90 330.60h4.16v4.10h-4.16zM283.22 330.60h4.16v4.10h-4.16zM295.70 330.60h4.16v4.10h-4.16zM16.98 334.70h4.16v4.10h-4.16zM83.54 334.70h4.16v4.10h-4.16zM116.82 334.70h4.16v4.10h-4.16zM170.90 334.70h8.32v4.10h-8.32zM200.02 334.70h4.16v4.10h-4.16zM224.98 334.70h4.16v4.10h-4.16zM258.26 334.70h4.16v4.10h-4.16zM287.38 334.70h4.16v4.10h-4.16zM4.50 338.80h16.64v4.10h-16.64zM41.94 338.80h24.96v4.10h-24.96zM75.22 338.80h24.96v4.10h-24.96zM104.34 338.80h24.96v4.10h-24.96zM133.46 338.80h20.80v4.10h-20.80zM158.42 338.80h16.64v4.10h-16.64zM179.22 338.80h74.88v4.10h-74.88zM258.26 338.80h41.60v4.10h-41.60z"/>
<path fill="#3c3cff" d="M299.86 17.00h4.16v4.18h-4.16zM312.34 17.00h4.16v4.18h-4.16zM345.62 17.00h4.16v4.18h-4.16zM358.10 17.00h4.16v4.18h-4.16zM337.30 21.18h4.16v4.18h-4.16zM345.62 21.18h4.16v4.18h-4.16zM25.30 25.35h4.16v4.18h-4.16zM54.42 33.70h4.16v4.18h-4.16zM21.14 62.94h4.16v4.18h-4.16zM8.66 67.11h4.16v4.18h-4.16zM21.14 67.11h4.16v4.18h-4.16zM58.58 67.11h4.16v4.18h-4.16zM79.38 67.11h4.16v4.18h-4.16zM308.18 67.11h12.48v4.18h-12.48zM324.82 67.11h4.16v4.18h-4.16zM337.30 67.11h4.16v4.18h-4.16zM345.62 67.11h4.16v4.18h-4.16zM358.10 67.11h4.16v4.18h-4.16zM316.50 71.29h4.16v4.18h-4.16zM337.30 83.82h4.16v4.18h-4.16zM25.30 87.99h4.16v4.18h-4.16zM71.06 87.99h4.16v4.18h-4.16zM91.86 87.99h4.16v4.18h-4.16zM312.34 125.58h4.16v4.18h-4.16zM328.98 138.10h8.32v4.18h-8.32zM345.62 142.28h4.16v4.18h-4.16zM345.62 157.50h4.16v4.19h-4.16zM358.10 157.50h4.16v4.19h-4.16zM320.66 161.69h4.16v4.19h-4.16zM25.30 191.02h4.16v4.19h-4.16z"/>
<path fill="#8787ff" d="M25.30 17.00h4.16v4.18h-4.16zM66.90 17.00h4.16v4.18h-4.16zM79.38 17.00h4.16v4.18h-4.16zM237.46 17.00h4.16v4.18h-4.16zM270.74 17.00h4.16v4.18h-4.16zM337.30 17.00h8.32v4.18h-8.32zM362.26 17.00h4.16v4.18h-4.16zM62.74 21.18h4.16v4.18h-4.16zM75.22 21.18h4.16v4.18h-4.16zM162.58 21.18h4.16v4.18h-4.16zM324.82 21.18h4.16v4.18h-4.16zM341.46 21.18h4.16v4.18h-4.16zM358.10 21.18h8.32v4.18h-8.32zM29.46 25.35h4.16v4.18h-4.16zM54.42 25.35h4.16v4.18h-4.16zM66.90 25.35h4.16v4.18h-4.16zM100.18 25.35h4.16v4.18h-4.16zM150.10 25.35h4.16v4.18h-4.16zM312.34 25.35h4.16v4.18h-4.16zM162.58 29.53h4.16v4.18h-4.16zM328.98 29.53h4.16v4.18h-4.16zM25.30 33.70h4.16v4.18h-4.16zM91.86 33.70h4.16v4.18h-4.16zM349.78 33.70h4.16v4.18h-4.16zM29.46 37.88h4.16v4.18h-4.16zM62.74 37.88h4.16v4.18h-4.16zM79.38 37.88h4.16v4.18h-4.16zM100.18 37.88h4.16v4.18h-4.16zM158.42 37.88h4.16v4.18h-4.16zM179.22 37.88h4.16v4.18h-4.16zM208.34 37.88h4.16v4.18h-4.16zM341.46 37.88h4.16v4.18h-4.16zM353.94 37.88h4.16v4.18h-4.16zM25.30 42.06h4.16v4.18h-4.16zM66.90 42.06h4.16v4.18h-4.16zM91.86 42.06h4.16v4.18h-4.16zM100.18 42.06h4.16v4.18h-4.16zM166.74 42.06h4.16v4.18h-4.16zM266.58 42.06h4.16v4.18h-4.16zM299.86 42.06h4.16v4.18h-4.16zM308.18 42.06h4.16v4.18h-4.16zM349.78 42.06h4.16v4.18h-4.16zM50.26 46.23h4.16v4.18h-4.16zM58.58 46.23h4.16v4.18h-4.16zM87.70 46.23h4.16v4.18h-4.16zM129.30 46.23h4.16v4.18h-4.16zM145.94 46.23h4.16v4.18h-4.16zM166.74 46.23h12.48v4.18h-12.48zM279.06 46.23h4.16v4.18h-4.16zM79.38 50.41h4.16v4.18h-4.16zM21.14 54.58h8.32v4.18h-8.32zM50.26 54.58h4.16v4.18h-4.16zM58.58 54.58h4.16v4.18h-4.16zM66.90 54.58h8.32v4.18h-8.32zM79.38 54.58h4.16v4.18h-4.16zM100.18 54.58h4.16v4.18h-4.16zM308.18 54.58h4.16v4.18h-4.16zM333.14 54.58h4.16v4.18h-4.16zM21.14 58.76h8.32v4.18h-8.32zM50.26 58.76h4.16v4.18h-4.16zM66.90 58.76h4.16v4.18h-4.16zM75.22 58.76h4.16v4.18h-4.16zM349.78 58.76h4.16v4.18h-4.16zM58.58 62.94h4.16v4.18h-4.16zM79.38 62.94h4.16v4.18h-4.16zM100.18 62.94h4.16v4.18h-4.16zM129.30 62.94h4.16v4.18h-4.16zM341.46 62.94h4.16v4.18h-4.16zM25.30 67.11h4.16v4.18h-4.16zM62.74 67.11h4.16v4.18h-4.16zM162.58 67.11h4.16v4.18h-4.16zM320.66 67.11h4.16v4.18h-4.16zM341.46 67.11h4.16v4.18h-4.16zM349.78 67.11h4.16v4.18h-4.16zM362.26 67.11h4.16v4.18h-4.16zM8.66 71.29h4.16v4.18h-4.16zM21.14 71.29h4.16v4.18h-4.16zM50.26 71.29h8.32v4.18h-8.32zM62.74 71.29h4.16v4.18h-4.16zM71.06 71.29h4.16v4.18h-4.16zM79.38 71.29h4.16v4.18h-4.16zM96.02 71.29h4.16v4.18h-4.16zM154.26 71.29h4.16v4.18h-4.16zM170.90 71.29h4.16v4.18h-4.16zM266.58 71.29h4.16v4.18h-4.16zM312.34 71.29h4.16v4.18h-4.16zM328.98 71.29h4.16v4.18h-4.16zM8.66 75.46h4.16v4.18h-4.16zM25.30 75.46h4.16v4.18h-4.16zM79.38 75.46h4.16v4.18h-4.16zM91.86 75.46h4.16v4.18h-4.16zM112.66 75.46h4.16v4.18h-4.16zM145.94 75.46h4.16v4.18h-4.16zM320.66 75.46h4.16v4.18h-4.16zM8.66 79.64h4.16v4.18h-4.16zM25.30 79.64h4.16v4.18h-4.16zM54.42 79.64h4.16v4.18h-4.16zM75.22 79.64h4.16v4.18h-4.16zM129.30 79.64h4.16v4.18h-4.16zM158.42 79.64h4.16v4.18h-4.16zM220.82 79.64h4.16v4.18h-4.16zM262.42 79.64h4.16v4.18h-4.16zM333.14 79.64h4.16v4.18h-4.16zM71.06 83.82h4.16v4.18h-4.16zM328.98 83.82h4.16v4.18h-4.16zM21.14 87.99h4.16v4.18h-4.16zM50.26 87.99h4.16v4.18h-4.16zM62.74 87.99h4.16v4.18h-4.16zM96.02 87.99h8.32v4.18h-8.32zM158.42 87.99h4.16v4.18h-4.16zM170.90 87.99h4.16v4.18h-4.16zM183.38 87.99h4.16v4.18h-4.16zM208.34 87.99h8.32v4.18h-8.32zM312.34 87.99h4.16v4.18h-4.16zM362.26 87.99h4.16v4.18h-4.16zM21.14 92.17h4.16v4.18h-4.16zM29.46 92.17h4.16v4.18h-4.16zM71.06 92.17h4.16v4.18h-4.16zM208.34 92.17h4.16v4.18h-4.16zM8.66 96.34h4.16v4.18h-4.16zM21.14 96.34h4.16v4.18h-4.16zM46.10 96.34h4.16v4.18h-4.16zM66.90 96.34h4.16v4.18h-4.16zM75.22 96.34h4.16v4.18h-4.16zM87.70 96.34h4.16v4.18h-4.16zM96.02 96.34h4.16v4.18h-4.16zM129.30 96.34h4.16v4.18h-4.16zM175.06 96.34h4.16v4.18h-4.16zM191.70 96.34h4.16v4.18h-4.16zM208.34 96.34h4.16v4.18h-4.16zM220.82 96.34h4.16v4.18h-4.16zM233.30 96.34h4.16v4.18h-4.16zM312.34 96.34h4.16v4.18h-4.16zM324.82 96.34h4.16v4.18h-4.16zM349.78 96.34h4.16v4.18h-4.16zM21.14 100.52h4.16v4.18h-4.16zM29.46 100.52h4.16v4.18h-4.16zM91.86 100.52h4.16v4.18h-4.16zM212.50 100.52h4.16v4.18h-4.16zM295.70 100.52h4.16v4.18h-4.16zM25.30 104.70h4.16v4.18h-4.16zM46.10 104.70h4.16v4.18h-4.16zM75.22 104.70h4.16v4.18h-4.16zM100.18 104.70h4.16v4.18h-4.16zM129.30 104.70h4.16v4.18h-4.16zM170.90 104.70h8.32v4.18h-8.32zM183.38 104.70h4.16v4.18h-4.16zM191.70 104.70h4.16v4.18h-4.16zM200.02 104.70h4.16v4.18h-4.16zM208.34 104.70h12.48v4.18h-12.48zM229.14 104.70h4.16v4.18h-4.16zM241.62 104.70h8.32v4.18h-8.32zM254.10 104.70h4.16v4.18h-4.16zM262.42 104.70h4.16v4.18h-4.16zM274.90 104.70h4.16v4.18h-4.16zM8.66 108.87h4.16v4.18h-4.16zM46.10 108.87h4.16v4.18h-4.16zM58.58 108.87h4.16v4.18h-4.16zM133.46 108.87h4.16v4.18h-4.16zM46.10 113.05h4.16v4.18h-4.16zM212.50 113.05h4.16v4.18h-4.16zM233.30 113.05h4.16v4.18h-4.16zM4.50 117.22h4.16v4.18h-4.16zM29.46 117.22h4.16v4.18h-4.16zM62.74 117.22h4.16v4.18h-4.16zM91.86 117.22h4.16v4.18h-4.16zM112.66 117.22h4.16v4.18h-4.16zM154.26 117.22h8.32v4.18h-8.32zM175.06 117.22h4.16v4.18h-4.16zM183.38 117.22h4.16v4.18h-4.16zM241.62 117.22h4.16v4.18h-4.16zM254.10 117.22h4.16v4.18h-4.16zM283.22 117.22h4.16v4.18h-4.16zM312.34 117.22h4.16v4.18h-4.16zM320.66 117.22h4.16v4.18h-4.16zM29.46 121.40h4.16v4.18h-4.16zM75.22 121.40h4.16v4.18h-4.16zM91.86 121.40h4.16v4.18h-4.16zM100.18 121.40h4.16v4.18h-4.16zM112.66 121.40h4.16v4.18h-4.16zM154.26 121.40h4.16v4.18h-4.16zM170.90 121.40h4.16v4.18h-4.16zM183.38 121.40h4.16v4.18h-4.16zM212.50 121.40h4.16v4.18h-4.16zM229.14 121.40h4.16v4.18h-4.16zM299.86 121.40h4.16v4.18h-4.16zM312.34 121.40h4.16v4.18h-4.16zM345.62 121.40h4.16v4.18h-4.16zM75.22 125.58h4.16v4.18h-4.16zM112.66 125.58h4.16v4.18h-4.16zM212.50 125.58h4.16v4.18h-4.16zM262.42 125.58h4.16v4.18h-4.16zM274.90 125.58h4.16v4.18h-4.16zM16.98 129.75h4.16v4.18h-4.16zM91.86 129.75h4.16v4.18h-4.16zM154.26 129.75h4.16v4.18h-4.16zM175.06 129.75h4.16v4.18h-4.16zM266.58 129.75h8.32v4.18h-8.32zM279.06 129.75h4.16v4.18h-4.16zM324.82 129.75h4.16v4.18h-4.16zM75.22 133.93h4.16v4.18h-4.16zM91.86 133.93h4.16v4.18h-4.16zM104.34 133.93h4.16v4.18h-4.16zM112.66 133.93h4.16v4.18h-4.16zM145.94 133.93h4.16v4.18h-4.16zM187.54 133.93h4.16v4.18h-4.16zM25.30 138.10h8.32v4.18h-8.32zM83.54 138.10h4.16v4.18h-4.16zM100.18 138.10h4.16v4.18h-4.16zM145.94 138.10h4.16v4.18h-4.16zM158.42 138.10h4.16v4.18h-4.16zM179.22 138.10h8.32v4.18h-8.32zM220.82 138.10h4.16v4.18h-4.16zM229.14 138.10h4.16v4.18h-4.16zM262.42 138.10h4.16v4.18h-4.16zM279.06 138.10h4.16v4.18h-4.16zM304.02 138.10h8.32v4.18h-8.32zM270.74 142.28h4.16v4.18h-4.16zM279.06 142.28h4.16v4.18h-4.16zM25.30 146.46h4.16v4.18h-4.16zM50.26 146.46h4.16v4.18h-4.16zM66.90 146.46h4.16v4.18h-4.16zM79.38 146.46h4.16v4.18h-4.16zM91.86 146.46h4.16v4.18h-4.16zM108.50 146.46h4.16v4.18h-4.16zM154.26 146.46h12.48v4.18h-12.48zM220.82 146.46h4.16v4.18h-4.16zM233.30 146.46h4.16v4.18h-4.16zM270.74 146.46h4.16v4.18h-4.16zM291.54 146.46h4.16v4.18h-4.16zM308.18 146.46h4.16v4.18h-4.16zM25.30 150.63h4.16v4.18h-4.16zM54.42 150.63h4.16v4.18h-4.16zM129.30 150.63h4.16v4.18h-4.16zM162.58 150.63h4.16v4.18h-4.16zM175.06 150.63h4.16v4.18h-4.16zM208.34 150.63h4.16v4.18h-4.16zM262.42 150.63h8.32v4.18h-8.32zM291.54 150.63h4.16v4.18h-4.16zM337.30 150.63h4.16v4.18h-4.16zM25.30 157.50h4.16v4.19h-4.16zM62.74 157.50h8.32v4.19h-8.32zM79.38 157.50h4.16v4.19h-4.16zM87.70 157.50h4.16v4.19h-4.16zM333.14 157.50h4.16v4.19h-4.16zM362.26 157.50h4.16v4.19h-4.16zM8.66 161.69h8.32v4.19h-8.32zM21.14 161.69h4.16v4.19h-4.16zM29.46 161.69h4.16v4.19h-4.16zM66.90 161.69h4.16v4.19h-4.16zM108.50 161.69h8.32v4.19h-8.32zM158.42 161.69h4.16v4.19h-4.16zM187.54 161.69h8.32v4.19h-8.32zM212.50 161.69h4.16v4.19h-4.16zM220.82 161.69h4.16v4.19h-4.16zM233.30 161.69h4.16v4.19h-4.16zM270.74 161.69h8.32v4.19h-8.32zM308.18 161.69h4.16v4.19h-4.16zM21.14 165.88h4.16v4.19h-4.16zM75.22 165.88h4.16v4.19h-4.16zM91.86 165.88h4.16v4.19h-4.16zM100.18 165.88h4.16v4.19h-4.16zM328.98 165.88h4.16v4.19h-4.16zM50.26 170.07h4.16v4.19h-4.16zM75.22 170.07h4.16v4.19h-4.16zM83.54 174.26h4.16v4.19h-4.16zM183.38 174.26h4.16v4.19h-4.16zM291.54 174.26h4.16v4.19h-4.16zM324.82 174.26h4.16v4.19h-4.16zM50.26 178.45h8.32v4.19h-8.32zM91.86 178.45h8.32v4.19h-8.32zM112.66 178.45h4.16v4.19h-4.16zM154.26 178.45h4.16v4.19h-4.16zM175.06 178.45h4.16v4.19h-4.16zM216.66 178.45h8.32v4.19h-8.32zM21.14 182.64h4.16v4.19h-4.16zM71.06 182.64h4.16v4.19h-4.16zM129.30 182.64h4.16v4.19h-4.16zM208.34 182.64h4.16v4.19h-4.16zM25.30 186.83h4.16v4.19h-4.16zM62.74 186.83h4.16v4.19h-4.16zM71.06 186.83h4.16v4.19h-4.16zM87.70 186.83h4.16v4.19h-4.16zM162.58 186.83h4.16v4.19h-4.16zM320.66 186.83h4.16v4.19h-4.16zM337.30 186.83h4.16v4.19h-4.16zM33.62 191.02h4.16v4.19h-4.16zM71.06 191.02h4.16v4.19h-4.16zM79.38 191.02h4.16v4.19h-4.16zM91.86 191.02h4.16v4.19h-4.16zM162.58 191.02h4.16v4.19h-4.16zM208.34 191.02h4.16v4.19h-4.16zM270.74 191.02h4.16v4.19h-4.16zM21.14 195.21h4.16v4.19h-4.16zM29.46 195.21h8.32v4.19h-8.32zM54.42 195.21h4.16v4.19h-4.16zM71.06 195.21h4.16v4.19h-4.16zM79.38 195.21h4.16v4.19h-4.16zM91.86 195.21h4.16v4.19h-4.16zM33.62 199.40h4.16v4.19h-4.16zM62.74 199.40h4.16v4.19h-4.16zM75.22 199.40h4.16v4.19h-4.16zM87.70 199.40h8.32v4.19h-8.32zM166.74 199.40h12.48v4.19h-12.48zM220.82 199.40h4.16v4.19h-4.16zM270.74 199.40h4.16v4.19h-4.16zM299.86 199.40h4.16v4.19h-4.16zM312.34 199.40h4.16v4.19h-4.16zM324.82 199.40h4.16v4.19h-4.16zM337.30 199.40h4.16v4.19h-4.16zM349.78 199.40h4.16v4.19h-4.16zM25.30 203.59h4.16v4.19h-4.16zM58.58 203.59h4.16v4.19h-4.16zM71.06 203.59h4.16v4.19h-4.16zM162.58 203.59h4.16v4.19h-4.16zM21.14 207.78h8.32v4.19h-8.32zM71.06 207.78h4.16v4.19h-4.16zM175.06 207.78h4.16v4.19h-4.16zM208.34 207.78h4.16v4.19h-4.16zM279.06 207.78h4.16v4.19h-4.16zM299.86 207.78h4.16v4.19h-4.16zM324.82 207.78h4.16v4.19h-4.16zM358.10 207.78h4.16v4.19h-4.16zM46.10 211.97h4.16v4.19h-4.16zM58.58 211.97h4.16v4.19h-4.16zM75.22 211.97h4.16v4.19h-4.16zM183.38 211.97h4.16v4.19h-4.16zM191.70 211.97h4.16v4.19h-4.16zM200.02 211.97h4.16v4.19h-4.16zM229.14 211.97h4.16v4.19h-4.16zM258.26 211.97h4.16v4.19h-4.16zM266.58 211.97h4.16v4.19h-4.16zM12.82 216.16h4.16v4.19h-4.16zM58.58 216.16h4.16v4.19h-4.16zM154.26 216.16h4.16v4.19h-4.16zM162.58 216.16h4.16v4.19h-4.16zM175.06 216.16h4.16v4.19h-4.16zM291.54 216.16h4.16v4.19h-4.16zM312.34 216.16h4.16v4.19h-4.16zM25.30 220.35h4.16v4.19h-4.16zM33.62 220.35h4.16v4.19h-4.16zM75.22 220.35h4.16v4.19h-4.16zM91.86 220.35h4.16v4.19h-4.16zM104.34 220.35h4.16v4.19h-4.16zM170.90 220.35h4.16v4.19h-4.16zM274.90 220.35h4.16v4.19h-4.16zM312.34 220.35h8.32v4.19h-8.32zM328.98 220.35h12.48v4.19h-12.48zM8.66 224.54h4.16v4.19h-4.16zM25.30 224.54h4.16v4.19h-4.16zM50.26 224.54h4.16v4.19h-4.16zM71.06 224.54h4.16v4.19h-4.16zM87.70 224.54h4.16v4.19h-4.16zM112.66 224.54h8.32v4.19h-8.32zM145.94 224.54h4.16v4.19h-4.16zM154.26 224.54h8.32v4.19h-8.32zM166.74 224.54h8.32v4.19h-8.32zM179.22 224.54h4.16v4.19h-4.16zM187.54 224.54h4.16v4.19h-4.16zM208.34 224.54h4.16v4.19h-4.16zM237.46 224.54h4.16v4.19h-4.16zM254.10 224.54h4.16v4.19h-4.16zM274.90 224.54h4.16v4.19h-4.16zM291.54 224.54h4.16v4.19h-4.16zM12.82 228.73h4.16v4.19h-4.16zM54.42 228.73h4.16v4.19h-4.16zM62.74 228.73h4.16v4.19h-4.16zM104.34 228.73h4.16v4.19h-4.16zM120.98 228.73h4.16v4.19h-4.16zM158.42 228.73h4.16v4.19h-4.16zM179.22 228.73h4.16v4.19h-4.16zM204.18 228.73h4.16v4.19h-4.16zM216.66 228.73h4.16v4.19h-4.16zM283.22 228.73h4.16v4.19h-4.16zM328.98 228.73h8.32v4.19h-8.32zM16.98 232.92h4.16v4.19h-4.16zM25.30 232.92h4.16v4.19h-4.16zM41.94 232.92h12.48v4.19h-12.48zM66.90 232.92h4.16v4.19h-4.16zM104.34 232.92h4.16v4.19h-4.16zM125.14 232.92h8.32v4.19h-8.32zM141.78 232.92h4.16v4.19h-4.16zM150.10 232.92h4.16v4.19h-4.16zM158.42 232.92h4.16v4.19h-4.16zM166.74 232.92h4.16v4.19h-4.16zM183.38 232.92h4.16v4.19h-4.16zM195.86 232.92h8.32v4.19h-8.32zM212.50 232.92h4.16v4.19h-4.16zM229.14 232.92h4.16v4.19h-4.16zM266.58 232.92h4.16v4.19h-4.16zM37.78 237.11h4.16v4.19h-4.16zM58.58 237.11h4.16v4.19h-4.16zM75.22 237.11h4.16v4.19h-4.16zM254.10 237.11h4.16v4.19h-4.16zM274.90 237.11h4.16v4.19h-4.16zM21.14 241.30h4.16v4.19h-4.16zM29.46 241.30h4.16v4.19h-4.16zM66.90 241.30h4.16v4.19h-4.16zM83.54 241.30h4.16v4.19h-4.16zM96.02 241.30h4.16v4.19h-4.16zM129.30 241.30h4.16v4.19h-4.16zM162.58 241.30h8.32v4.19h-8.32zM175.06 241.30h4.16v4.19h-4.16zM208.34 241.30h4.16v4.19h-4.16zM312.34 241.30h4.16v4.19h-4.16zM16.98 245.49h4.16v4.19h-4.16zM29.46 245.49h4.16v4.19h-4.16zM50.26 245.49h4.16v4.19h-4.16zM62.74 245.49h4.16v4.19h-4.16zM71.06 245.49h4.16v4.19h-4.16zM91.86 245.49h8.32v4.19h-8.32zM125.14 245.49h4.16v4.19h-4.16zM137.62 245.49h4.16v4.19h-4.16zM150.10 245.49h4.16v4.19h-4.16zM158.42 245.49h8.32v4.19h-8.32zM179.22 245.49h4.16v4.19h-4.16zM187.54 245.49h4.16v4.19h-4.16zM208.34 245.49h4.16v4.19h-4.16zM295.70 245.49h4.16v4.19h-4.16zM328.98 245.49h4.16v4.19h-4.16zM345.62 245.49h4.16v4.19h-4.16zM4.50 249.68h4.16v4.19h-4.16zM21.14 249.68h8.32v4.19h-8.32zM33.62 249.68h4.16v4.19h-4.16zM54.42 249.68h4.16v4.19h-4.16zM87.70 249.68h4.16v4.19h-4.16zM100.18 249.68h4.16v4.19h-4.16zM112.66 249.68h4.16v4.19h-4.16zM129.30 249.68h4.16v4.19h-4.16zM150.10 249.68h4.16v4.19h-4.16zM304.02 249.68h4.16v4.19h-4.16zM328.98 256.80h4.16v4.10h-4.16zM362.26 256.80h4.16v4.10h-4.16zM158.42 260.90h8.32v4.10h-8.32zM299.86 260.90h4.16v4.10h-4.16zM316.50 260.90h4.16v4.10h-4.16zM333.14 260.90h4.16v4.10h-4.16zM358.10 260.90h4.16v4.10h-4.16zM58.58 265.00h4.16v4.10h-4.16zM75.22 265.00h4.16v4.10h-4.16zM141.78 265.00h4.16v4.10h-4.16zM254.10 265.00h4.16v4.10h-4.16zM279.06 265.00h4.16v4.10h-4.16zM333.14 265.00h4.16v4.10h-4.16zM62.74 269.10h4.16v4.10h-4.16zM150.10 269.10h4.16v4.10h-4.16zM270.74 269.10h4.16v4.10h-4.16zM304.02 269.10h8.32v4.10h-8.32zM337.30 269.10h8.32v4.10h-8.32zM362.26 269.10h4.16v4.10h-4.16zM141.78 273.20h4.16v4.10h-4.16zM270.74 273.20h4.16v4.10h-4.16zM308.18 273.20h4.16v4.10h-4.16zM112.66 277.30h4.16v4.10h-4.16zM141.78 277.30h4.16v4.10h-4.16zM316.50 277.30h4.16v4.10h-4.16zM345.62 277.30h4.16v4.10h-4.16zM358.10 277.30h4.16v4.10h-4.16zM25.30 281.40h4.16v4.10h-4.16zM25.30 285.50h4.16v4.10h-4.16zM75.22 285.50h4.16v4.10h-4.16zM91.86 285.50h4.16v4.10h-4.16zM25.30 289.60h4.16v4.10h-4.16zM62.74 289.60h4.16v4.10h-4.16zM25.30 293.70h8.32v4.10h-8.32zM75.22 293.70h4.16v4.10h-4.16zM175.06 297.80h4.16v4.10h-4.16zM304.02 297.80h4.16v4.10h-4.16zM62.74 301.90h4.16v4.10h-4.16zM328.98 301.90h4.16v4.10h-4.16zM25.30 306.00h4.16v4.10h-4.16zM66.90 306.00h4.16v4.10h-4.16zM79.38 306.00h4.16v4.10h-4.16zM304.02 306.00h4.16v4.10h-4.16zM312.34 306.00h4.16v4.10h-4.16zM345.62 306.00h4.16v4.10h-4.16zM21.14 310.10h4.16v4.10h-4.16zM29.46 310.10h4.16v4.10h-4.16zM62.74 310.10h4.16v4.10h-4.16zM87.70 310.10h4.16v4.10h-4.16zM75.22 314.20h4.16v4.10h-4.16zM33.62 322.40h4.16v4.10h-4.16zM41.94 322.40h4.16v4.10h-4.16zM50.26 322.40h4.16v4.10h-4.16zM58.58 322.40h4.16v4.10h-4.16zM71.06 322.40h4.16v4.10h-4.16zM83.54 322.40h16.64v4.10h-16.64zM104.34 322.40h8.32v4.10h-8.32zM137.62 322.40h4.16v4.10h-4.16zM150.10 322.40h8.32v4.10h-8.32zM166.74 322.40h4.16v4.10h-4.16zM179.22 322.40h12.48v4.10h-12.48zM208.34 322.40h8.32v4.10h-8.32zM237.46 322.40h4.16v4.10h-4.16zM283.22 322.40h4.16v4.10h-4.16zM8.66 326.50h4.16v4.10h-4.16zM25.30 326.50h4.16v4.10h-4.16zM50.26 326.50h12.48v4.10h-12.48zM66.90 326.50h4.16v4.10h-4.16zM75.22 326.50h4.16v4.10h-4.16zM83.54 326.50h8.32v4.10h-8.32zM104.34 326.50h4.16v4.10h-4.16zM133.46 326.50h4.16v4.10h-4.16zM150.10 326.50h8.32v4.10h-8.32zM175.06 326.50h4.16v4.10h-4.16zM191.70 326.50h4.16v4.10h-4.16zM212.50 326.50h4.16v4.10h-4.16zM229.14 326.50h4.16v4.10h-4.16zM245.78 326.50h4.16v4.10h-4.16zM320.66 326.50h4.16v4.10h-4.16zM328.98 326.50h4.16v4.10h-4.16zM362.26 326.50h4.16v4.10h-4.16zM29.46 330.60h4.16v4.10h-4.16zM46.10 330.60h8.32v4.10h-8.32zM71.06 330.60h4.16v4.10h-4.16zM83.54 330.60h12.48v4.10h-12.48zM129.30 330.60h4.16v4.10h-4.16zM154.26 330.60h4.16v4.10h-4.16zM179.22 330.60h12.48v4.10h-12.48zM212.50 330.60h4.16v4.10h-4.16zM254.10 330.60h4.16v4.10h-4.16zM12.82 334.70h4.16v4.10h-4.16zM21.14 334.70h4.16v4.10h-4.16zM41.94 334.70h12.48v4.10h-12.48zM87.70 334.70h8.32v4.10h-8.32zM104.34 334.70h4.16v4.10h-4.16zM112.66 334.70h4.16v4.10h-4.16zM133.46 334.70h8.32v4.10h-8.32zM145.94 334.70h8.32v4.10h-8.32zM166.74 334.70h4.16v4.10h-4.16zM183.38 334.70h4.16v4.10h-4.16zM191.70 334.70h8.32v4.10h-8.32zM233.30 334.70h4.16v4.10h-4.16zM266.58 334.70h4.16v4.10h-4.16zM21.14 338.80h16.64v4.10h-16.64zM154.26 338.80h4.16v4.10h-4.16zM175.06 338.80h4.16v4.10h-4.16zM304.02 338.80h4.16v4.10h-4.16zM312.34 338.80h8.32v4.10h-8.32zM328.98 338.80h8.32v4.10h-8.32z"/>
<path fill="#c8c8ff" d="M324.82 17.00h4.16v4.18h-4.16zM349.78 17.00h4.16v4.18h-4.16zM8.66 21.18h4.16v4.18h-4.16zM220.82 21.18h4.16v4.18h-4.16zM299.86 21.18h8.32v4.18h-8.32zM353.94 21.18h4.16v4.18h-4.16zM21.14 25.35h4.16v4.18h-4.16zM91.86 25.35h4.16v4.18h-4.16zM129.30 25.35h4.16v4.18h-4.16zM216.66 25.35h4.16v4.18h-4.16zM333.14 25.35h4.16v4.18h-4.16zM29.46 29.53h4.16v4.18h-4.16zM308.18 33.70h4.16v4.18h-4.16zM328.98 33.70h8.32v4.18h-8.32zM341.46 33.70h4.16v4.18h-4.16zM358.10 33.70h8.32v4.18h-8.32zM37.78 37.88h4.16v4.18h-4.16zM91.86 37.88h4.16v4.18h-4.16zM299.86 37.88h4.16v4.18h-4.16zM324.82 37.88h4.16v4.18h-4.16zM349.78 37.88h4.16v4.18h-4.16zM21.14 42.06h4.16v4.18h-4.16zM29.46 42.06h4.16v4.18h-4.16zM62.74 42.06h4.16v4.18h-4.16zM79.38 42.06h4.16v4.18h-4.16zM145.94 42.06h4.16v4.18h-4.16zM154.26 42.06h4.16v4.18h-4.16zM208.34 42.06h4.16v4.18h-4.16zM291.54 42.06h4.16v4.18h-4.16zM312.34 42.06h4.16v4.18h-4.16zM341.46 42.06h4.16v4.18h-4.16zM4.50 46.23h4.16v4.18h-4.16zM41.94 46.23h4.16v4.18h-4.16zM66.90 46.23h4.16v4.18h-4.16zM100.18 46.23h4.16v4.18h-4.16zM137.62 46.23h4.16v4.18h-4.16zM150.10 46.23h12.48v4.18h-12.48zM187.54 46.23h4.16v4.18h-4.16zM204.18 46.23h4.16v4.18h-4.16zM212.50 46.23h8.32v4.18h-8.32zM233.30 46.23h4.16v4.18h-4.16zM254.10 46.23h4.16v4.18h-4.16zM266.58 46.23h4.16v4.18h-4.16zM299.86 46.23h4.16v4.18h-4.16zM312.34 46.23h4.16v4.18h-4.16zM91.86 50.41h8.32v4.18h-8.32zM324.82 50.41h4.16v4.18h-4.16zM4.50 54.58h4.16v4.18h-4.16zM29.46 54.58h4.16v4.18h-4.16zM96.02 54.58h4.16v4.18h-4.16zM129.30 54.58h4.16v4.18h-4.16zM216.66 54.58h4.16v4.18h-4.16zM237.46 54.58h4.16v4.18h-4.16zM279.06 54.58h4.16v4.18h-4.16zM299.86 54.58h4.16v4.18h-4.16zM312.34 54.58h4.16v4.18h-4.16zM337.30 54.58h4.16v4.18h-4.16zM345.62 54.58h8.32v4.18h-8.32zM358.10 54.58h4.16v4.18h-4.16zM29.46 58.76h4.16v4.18h-4.16zM129.30 58.76h4.16v4.18h-4.16zM216.66 58.76h4.16v4.18h-4.16zM254.10 58.76h4.16v4.18h-4.16zM308.18 58.76h4.16v4.18h-4.16zM337.30 58.76h4.16v4.18h-4.16zM358.10 58.76h4.16v4.18h-4.16zM37.78 62.94h4.16v4.18h-4.16zM75.22 62.94h4.16v4.18h-4.16zM91.86 62.94h4.16v4.18h-4.16zM162.58 62.94h4.16v4.18h-4.16zM175.06 62.94h4.16v4.18h-4.16zM304.02 62.94h4.16v4.18h-4.16zM312.34 62.94h4.16v4.18h-4.16zM366.42 62.94h4.16v4.18h-4.16zM175.06 67.11h4.16v4.18h-4.16zM353.94 67.11h4.16v4.18h-4.16zM25.30 71.29h4.16v4.18h-4.16zM37.78 71.29h4.16v4.18h-4.16zM75.22 71.29h4.16v4.18h-4.16zM91.86 71.29h4.16v4.18h-4.16zM129.30 71.29h4.16v4.18h-4.16zM254.10 71.29h4.16v4.18h-4.16zM291.54 71.29h4.16v4.18h-4.16zM299.86 71.29h4.16v4.18h-4.16zM308.18 71.29h4.16v4.18h-4.16zM333.14 71.29h4.16v4.18h-4.16zM349.78 71.29h4.16v4.18h-4.16zM358.10 71.29h4.16v4.18h-4.16zM29.46 75.46h4.16v4.18h-4.16zM129.30 75.46h4.16v4.18h-4.16zM175.06 75.46h12.48v4.18h-12.48zM200.02 75.46h4.16v4.18h-4.16zM212.50 75.46h4.16v4.18h-4.16zM220.82 75.46h4.16v4.18h-4.16zM229.14 75.46h4.16v4.18h-4.16zM266.58 75.46h4.16v4.18h-4.16zM316.50 75.46h4.16v4.18h-4.16zM328.98 75.46h8.32v4.18h-8.32zM366.42 75.46h4.16v4.18h-4.16zM21.14 79.64h4.16v4.18h-4.16zM50.26 79.64h4.16v4.18h-4.16zM91.86 79.64h4.16v4.18h-4.16zM179.22 79.64h4.16v4.18h-4.16zM308.18 79.64h4.16v4.18h-4.16zM316.50 79.64h4.16v4.18h-4.16zM328.98 79.64h4.16v4.18h-4.16zM337.30 79.64h4.16v4.18h-4.16zM345.62 79.64h8.32v4.18h-8.32zM358.10 79.64h4.16v4.18h-4.16zM366.42 79.64h4.16v4.18h-4.16zM112.66 83.82h4.16v4.18h-4.16zM183.38 83.82h4.16v4.18h-4.16zM216.66 83.82h4.16v4.18h-4.16zM237.46 83.82h4.16v4.18h-4.16zM312.34 83.82h4.16v4.18h-4.16zM324.82 83.82h4.16v4.18h-4.16zM333.14 83.82h4.16v4.18h-4.16zM341.46 83.82h12.48v4.18h-12.48zM358.10 83.82h4.16v4.18h-4.16zM37.78 87.99h4.16v4.18h-4.16zM175.06 87.99h4.16v4.18h-4.16zM200.02 87.99h4.16v4.18h-4.16zM220.82 87.99h4.16v4.18h-4.16zM299.86 87.99h12.48v4.18h-12.48zM324.82 87.99h4.16v4.18h-4.16zM333.14 87.99h8.32v4.18h-8.32zM345.62 87.99h8.32v4.18h-8.32zM358.10 87.99h4.16v4.18h-4.16zM25.30 92.17h4.16v4.18h-4.16zM62.74 92.17h4.16v4.18h-4.16zM316.50 92.17h4.16v4.18h-4.16zM341.46 92.17h4.16v4.18h-4.16zM25.30 96.34h4.16v4.18h-4.16zM37.78 96.34h4.16v4.18h-4.16zM154.26 96.34h4.16v4.18h-4.16zM162.58 96.34h4.16v4.18h-4.16zM187.54 96.34h4.16v4.18h-4.16zM299.86 96.34h8.32v4.18h-8.32zM316.50 96.34h4.16v4.18h-4.16zM328.98 96.34h4.16v4.18h-4.16zM25.30 100.52h4.16v4.18h-4.16zM62.74 100.52h4.16v4.18h-4.16zM158.42 100.52h4.16v4.18h-4.16zM216.66 100.52h4.16v4.18h-4.16zM299.86 100.52h4.16v4.18h-4.16zM308.18 100.52h4.16v4.18h-4.16zM333.14 100.52h8.32v4.18h-8.32zM21.14 104.70h4.16v4.18h-4.16zM29.46 104.70h4.16v4.18h-4.16zM50.26 104.70h4.16v4.18h-4.16zM62.74 104.70h4.16v4.18h-4.16zM79.38 104.70h4.16v4.18h-4.16zM91.86 104.70h8.32v4.18h-8.32zM112.66 104.70h4.16v4.18h-4.16zM137.62 104.70h8.32v4.18h-8.32zM187.54 104.70h4.16v4.18h-4.16zM195.86 104.70h4.16v4.18h-4.16zM204.18 104.70h4.16v4.18h-4.16zM220.82 104.70h4.16v4.18h-4.16zM233.30 104.70h8.32v4.18h-8.32zM249.94 104.70h4.16v4.18h-4.16zM266.58 104.70h4.16v4.18h-4.16zM291.54 104.70h4.16v4.18h-4.16zM299.86 104.70h16.64v4.18h-16.64zM324.82 104.70h4.16v4.18h-4.16zM358.10 104.70h4.16v4.18h-4.16zM16.98 108.87h4.16v4.18h-4.16zM83.54 108.87h4.16v4.18h-4.16zM116.82 108.87h4.16v4.18h-4.16zM150.10 108.87h4.16v4.18h-4.16zM262.42 108.87h4.16v4.18h-4.16zM4.50 113.05h4.16v4.18h-4.16zM58.58 113.05h4.16v4.18h-4.16zM137.62 113.05h4.16v4.18h-4.16zM154.26 113.05h4.16v4.18h-4.16zM170.90 113.05h4.16v4.18h-4.16zM183.38 113.05h4.16v4.18h-4.16zM208.34 113.05h4.16v4.18h-4.16zM220.82 113.05h8.32v4.18h-8.32zM283.22 113.05h4.16v4.18h-4.16zM291.54 113.05h4.16v4.18h-4.16zM337.30 113.05h4.16v4.18h-4.16zM8.66 117.22h8.32v4.18h-8.32zM21.14 117.22h8.32v4.18h-8.32zM50.26 117.22h4.16v4.18h-4.16zM66.90 117.22h4.16v4.18h-4.16zM75.22 117.22h4.16v4.18h-4.16zM83.54 117.22h4.16v4.18h-4.16zM100.18 117.22h4.16v4.18h-4.16zM129.30 117.22h4.16v4.18h-4.16zM137.62 117.22h12.48v4.18h-12.48zM162.58 117.22h4.16v4.18h-4.16zM179.22 117.22h4.16v4.18h-4.16zM187.54 117.22h8.32v4.18h-8.32zM212.50 117.22h8.32v4.18h-8.32zM224.98 117.22h4.16v4.18h-4.16zM233.30 117.22h8.32v4.18h-8.32zM262.42 117.22h12.48v4.18h-12.48zM291.54 117.22h4.16v4.18h-4.16zM308.18 117.22h4.16v4.18h-4.16zM345.62 117.22h4.16v4.18h-4.16zM21.14 121.40h8.32v4.18h-8.32zM62.74 121.40h4.16v4.18h-4.16zM137.62 121.40h4.16v4.18h-4.16zM162.58 121.40h4.16v4.18h-4.16zM175.06 121.40h8.32v4.18h-8.32zM187.54 121.40h4.16v4.18h-4.16zM204.18 121.40h8.32v4.18h-8.32zM216.66 121.40h8.32v4.18h-8.32zM241.62 121.40h4.16v4.18h-4.16zM254.10 121.40h4.16v4.18h-4.16zM304.02 121.40h8.32v4.18h-8.32zM316.50 121.40h8.32v4.18h-8.32zM328.98 121.40h4.16v4.18h-4.16zM91.86 125.58h8.32v4.18h-8.32zM129.30 125.58h4.16v4.18h-4.16zM154.26 125.58h8.32v4.18h-8.32zM170.90 125.58h12.48v4.18h-12.48zM187.54 125.58h4.16v4.18h-4.16zM204.18 125.58h8.32v4.18h-8.32zM220.82 125.58h4.16v4.18h-4.16zM237.46 125.58h4.16v4.18h-4.16zM254.10 125.58h4.16v4.18h-4.16zM266.58 125.58h8.32v4.18h-8.32zM283.22 125.58h4.16v4.18h-4.16zM304.02 125.58h8.32v4.18h-8.32zM316.50 125.58h8.32v4.18h-8.32zM328.98 125.58h4.16v4.18h-4.16zM358.10 125.58h4.16v4.18h-4.16zM62.74 129.75h4.16v4.18h-4.16zM170.90 129.75h4.16v4.18h-4.16zM187.54 129.75h4.16v4.18h-4.16zM208.34 129.75h8.32v4.18h-8.32zM220.82 129.75h4.16v4.18h-4.16zM237.46 129.75h8.32v4.18h-8.32zM254.10 129.75h4.16v4.18h-4.16zM308.18 129.75h4.16v4.18h-4.16zM337.30 129.75h4.16v4.18h-4.16zM66.90 133.93h4.16v4.18h-4.16zM129.30 133.93h4.16v4.18h-4.16zM170.90 133.93h4.16v4.18h-4.16zM183.38 133.93h4.16v4.18h-4.16zM204.18 133.93h8.32v4.18h-8.32zM216.66 133.93h4.16v4.18h-4.16zM233.30 133.93h4.16v4.18h-4.16zM241.62 133.93h4.16v4.18h-4.16zM266.58 133.93h8.32v4.18h-8.32zM299.86 133.93h4.16v4.18h-4.16zM308.18 133.93h4.16v4.18h-4.16zM358.10 133.93h4.16v4.18h-4.16zM62.74 138.10h8.32v4.18h-8.32zM75.22 138.10h4.16v4.18h-4.16zM91.86 138.10h4.16v4.18h-4.16zM162.58 138.10h4.16v4.18h-4.16zM187.54 138.10h4.16v4.18h-4.16zM208.34 138.10h4.16v4.18h-4.16zM237.46 138.10h4.16v4.18h-4.16zM266.58 138.10h4.16v4.18h-4.16zM283.22 138.10h4.16v4.18h-4.16zM299.86 138.10h4.16v4.18h-4.16zM320.66 138.10h4.16v4.18h-4.16zM358.10 138.10h4.16v4.18h-4.16zM21.14 142.28h4.16v4.18h-4.16zM183.38 142.28h4.16v4.18h-4.16zM204.18 142.28h8.32v4.18h-8.32zM216.66 142.28h4.16v4.18h-4.16zM299.86 142.28h8.32v4.18h-8.32zM324.82 142.28h4.16v4.18h-4.16zM21.14 146.46h4.16v4.18h-4.16zM216.66 146.46h4.16v4.18h-4.16zM283.22 146.46h4.16v4.18h-4.16zM299.86 146.46h4.16v4.18h-4.16zM312.34 146.46h4.16v4.18h-4.16zM358.10 146.46h4.16v4.18h-4.16zM21.14 150.63h4.16v4.18h-4.16zM91.86 150.63h4.16v4.18h-4.16zM100.18 150.63h4.16v4.18h-4.16zM183.38 150.63h4.16v4.18h-4.16zM233.30 150.63h4.16v4.18h-4.16zM270.74 150.63h4.16v4.18h-4.16zM279.06 150.63h4.16v4.18h-4.16zM295.70 150.63h4.16v4.18h-4.16zM304.02 150.63h4.16v4.18h-4.16zM312.34 150.63h4.16v4.18h-4.16zM324.82 150.63h12.48v4.18h-12.48zM358.10 150.63h4.16v4.18h-4.16zM29.46 157.50h4.16v4.19h-4.16zM349.78 157.50h4.16v4.19h-4.16zM54.42 161.69h4.16v4.19h-4.16zM137.62 161.69h4.16v4.19h-4.16zM150.10 161.69h4.16v4.19h-4.16zM204.18 161.69h8.32v4.19h-8.32zM262.42 161.69h4.16v4.19h-4.16zM366.42 161.69h4.16v4.19h-4.16zM50.26 165.88h4.16v4.19h-4.16zM129.30 165.88h4.16v4.19h-4.16zM141.78 165.88h4.16v4.19h-4.16zM220.82 165.88h4.16v4.19h-4.16zM245.78 165.88h4.16v4.19h-4.16zM254.10 165.88h4.16v4.19h-4.16zM266.58 165.88h4.16v4.19h-4.16zM279.06 165.88h4.16v4.19h-4.16zM304.02 165.88h4.16v4.19h-4.16zM333.14 165.88h4.16v4.19h-4.16zM341.46 170.07h4.16v4.19h-4.16zM353.94 170.07h4.16v4.19h-4.16zM54.42 174.26h4.16v4.19h-4.16zM79.38 174.26h4.16v4.19h-4.16zM145.94 174.26h4.16v4.19h-4.16zM187.54 174.26h4.16v4.19h-4.16zM283.22 174.26h4.16v4.19h-4.16zM295.70 174.26h4.16v4.19h-4.16zM328.98 174.26h4.16v4.19h-4.16zM345.62 174.26h4.16v4.19h-4.16zM358.10 174.26h4.16v4.19h-4.16zM21.14 178.45h12.48v4.19h-12.48zM58.58 178.45h4.16v4.19h-4.16zM66.90 178.45h4.16v4.19h-4.16zM75.22 178.45h8.32v4.19h-8.32zM100.18 178.45h4.16v4.19h-4.16zM129.30 178.45h4.16v4.19h-4.16zM179.22 178.45h4.16v4.19h-4.16zM208.34 178.45h8.32v4.19h-8.32zM237.46 178.45h8.32v4.19h-8.32zM270.74 178.45h12.48v4.19h-12.48zM291.54 178.45h4.16v4.19h-4.16zM304.02 178.45h4.16v4.19h-4.16zM312.34 178.45h12.48v4.19h-12.48zM328.98 178.45h4.16v4.19h-4.16zM33.62 182.64h4.16v4.19h-4.16zM79.38 182.64h4.16v4.19h-4.16zM337.30 182.64h4.16v4.19h-4.16zM75.22 186.83h4.16v4.19h-4.16zM91.86 186.83h4.16v4.19h-4.16zM208.34 186.83h8.32v4.19h-8.32zM270.74 186.83h4.16v4.19h-4.16zM316.50 186.83h4.16v4.19h-4.16zM324.82 186.83h4.16v4.19h-4.16zM345.62 186.83h4.16v4.19h-4.16zM37.78 191.02h4.16v4.19h-4.16zM62.74 191.02h4.16v4.19h-4.16zM266.58 191.02h4.16v4.19h-4.16zM25.30 195.21h4.16v4.19h-4.16zM58.58 195.21h4.16v4.19h-4.16zM208.34 195.21h4.16v4.19h-4.16zM328.98 195.21h8.32v4.19h-8.32zM349.78 195.21h8.32v4.19h-8.32zM362.26 195.21h8.32v4.19h-8.32zM162.58 199.40h4.16v4.19h-4.16zM237.46 199.40h4.16v4.19h-4.16zM316.50 199.40h4.16v4.19h-4.16zM341.46 199.40h4.16v4.19h-4.16zM353.94 199.40h4.16v4.19h-4.16zM362.26 199.40h4.16v4.19h-4.16zM308.18 203.59h4.16v4.19h-4.16zM50.26 207.78h4.16v4.19h-4.16zM79.38 207.78h4.16v4.19h-4.16zM100.18 207.78h4.16v4.19h-4.16zM283.22 207.78h4.16v4.19h-4.16zM312.34 207.78h4.16v4.19h-4.16zM328.98 207.78h4.16v4.19h-4.16zM8.66 211.97h4.16v4.19h-4.16zM54.42 211.97h4.16v4.19h-4.16zM66.90 211.97h4.16v4.19h-4.16zM100.18 211.97h4.16v4.19h-4.16zM112.66 211.97h4.16v4.19h-4.16zM154.26 211.97h4.16v4.19h-4.16zM170.90 211.97h4.16v4.19h-4.16zM179.22 211.97h4.16v4.19h-4.16zM187.54 211.97h4.16v4.19h-4.16zM195.86 211.97h4.16v4.19h-4.16zM204.18 211.97h20.80v4.19h-20.80zM233.30 211.97h4.16v4.19h-4.16zM241.62 211.97h4.16v4.19h-4.16zM262.42 211.97h4.16v4.19h-4.16zM291.54 211.97h4.16v4.19h-4.16zM312.34 211.97h4.16v4.19h-4.16zM320.66 211.97h4.16v4.19h-4.16zM333.14 211.97h4.16v4.19h-4.16zM362.26 211.97h4.16v4.19h-4.16zM33.62 216.16h4.16v4.19h-4.16zM75.22 216.16h4.16v4.19h-4.16zM87.70 216.16h8.32v4.19h-8.32zM200.02 216.16h4.16v4.19h-4.16zM208.34 216.16h4.16v4.19h-4.16zM279.06 216.16h4.16v4.19h-4.16zM299.86 216.16h12.48v4.19h-12.48zM316.50 216.16h4.16v4.19h-4.16zM324.82 216.16h4.16v4.19h-4.16zM333.14 216.16h4.16v4.19h-4.16zM345.62 216.16h8.32v4.19h-8.32zM358.10 216.16h8.32v4.19h-8.32zM162.58 220.35h4.16v4.19h-4.16zM308.18 220.35h4.16v4.19h-4.16zM341.46 220.35h4.16v4.19h-4.16zM353.94 220.35h8.32v4.19h-8.32zM21.14 224.54h4.16v4.19h-4.16zM41.94 224.54h4.16v4.19h-4.16zM62.74 224.54h4.16v4.19h-4.16zM91.86 224.54h4.16v4.19h-4.16zM108.50 224.54h4.16v4.19h-4.16zM175.06 224.54h4.16v4.19h-4.16zM183.38 224.54h4.16v4.19h-4.16zM191.70 224.54h4.16v4.19h-4.16zM212.50 224.54h4.16v4.19h-4.16zM229.14 224.54h8.32v4.19h-8.32zM266.58 224.54h4.16v4.19h-4.16zM279.06 224.54h4.16v4.19h-4.16zM25.30 228.73h8.32v4.19h-8.32zM41.94 228.73h4.16v4.19h-4.16zM50.26 228.73h4.16v4.19h-4.16zM58.58 228.73h4.16v4.19h-4.16zM75.22 228.73h4.16v4.19h-4.16zM100.18 228.73h4.16v4.19h-4.16zM112.66 228.73h4.16v4.19h-4.16zM125.14 228.73h4.16v4.19h-4.16zM137.62 228.73h4.16v4.19h-4.16zM145.94 228.73h4.16v4.19h-4.16zM175.06 228.73h4.16v4.19h-4.16zM208.34 228.73h8.32v4.19h-8.32zM220.82 228.73h4.16v4.19h-4.16zM237.46 228.73h4.16v4.19h-4.16zM254.10 228.73h4.16v4.19h-4.16zM266.58 228.73h8.32v4.19h-8.32zM308.18 228.73h16.64v4.19h-16.64zM337.30 228.73h4.16v4.19h-4.16zM345.62 228.73h8.32v4.19h-8.32zM358.10 228.73h4.16v4.19h-4.16zM4.50 232.92h8.32v4.19h-8.32zM21.14 232.92h4.16v4.19h-4.16zM54.42 232.92h4.16v4.19h-4.16zM62.74 232.92h4.16v4.19h-4.16zM71.06 232.92h20.80v4.19h-20.80zM96.02 232.92h4.16v4.19h-4.16zM108.50 232.92h4.16v4.19h-4.16zM170.90 232.92h4.16v4.19h-4.16zM187.54 232.92h4.16v4.19h-4.16zM216.66 232.92h4.16v4.19h-4.16zM241.62 232.92h4.16v4.19h-4.16zM262.42 232.92h4.16v4.19h-4.16zM274.90 232.92h4.16v4.19h-4.16zM83.54 237.11h4.16v4.19h-4.16zM195.86 237.11h4.16v4.19h-4.16zM220.82 237.11h4.16v4.19h-4.16zM258.26 237.11h4.16v4.19h-4.16zM25.30 241.30h4.16v4.19h-4.16zM46.10 241.30h4.16v4.19h-4.16zM71.06 241.30h4.16v4.19h-4.16zM79.38 241.30h4.16v4.19h-4.16zM87.70 241.30h4.16v4.19h-4.16zM137.62 241.30h4.16v4.19h-4.16zM150.10 241.30h4.16v4.19h-4.16zM187.54 241.30h4.16v4.19h-4.16zM220.82 241.30h4.16v4.19h-4.16zM249.94 241.30h4.16v4.19h-4.16zM266.58 241.30h4.16v4.19h-4.16zM299.86 241.30h4.16v4.19h-4.16zM308.18 241.30h4.16v4.19h-4.16zM324.82 241.30h4.16v4.19h-4.16zM349.78 241.30h4.16v4.19h-4.16zM8.66 245.49h4.16v4.19h-4.16zM58.58 245.49h4.16v4.19h-4.16zM141.78 245.49h4.16v4.19h-4.16zM204.18 245.49h4.16v4.19h-4.16zM212.50 245.49h4.16v4.19h-4.16zM229.14 245.49h4.16v4.19h-4.16zM249.94 245.49h4.16v4.19h-4.16zM299.86 245.49h8.32v4.19h-8.32zM312.34 245.49h4.16v4.19h-4.16zM333.14 245.49h8.32v4.19h-8.32zM349.78 245.49h4.16v4.19h-4.16zM12.82 249.68h4.16v4.19h-4.16zM29.46 249.68h4.16v4.19h-4.16zM50.26 249.68h4.16v4.19h-4.16zM62.74 249.68h4.16v4.19h-4.16zM71.06 249.68h8.32v4.19h-8.32zM137.62 249.68h4.16v4.19h-4.16zM191.70 249.68h4.16v4.19h-4.16zM212.50 249.68h4.16v4.19h-4.16zM258.26 249.68h4.16v4.19h-4.16zM270.74 249.68h4.16v4.19h-4.16zM279.06 249.68h4.16v4.19h-4.16zM299.86 249.68h4.16v4.19h-4.16zM308.18 249.68h8.32v4.19h-8.32zM320.66 249.68h4.16v4.19h-4.16zM333.14 249.68h4.16v4.19h-4.16zM349.78 249.68h4.16v4.19h-4.16zM179.22 256.80h4.16v4.10h-4.16zM308.18 256.80h4.16v4.10h-4.16zM333.14 256.80h4.16v4.10h-4.16zM358.10 256.80h4.16v4.10h-4.16zM366.42 256.80h4.16v4.10h-4.16zM220.82 260.90h4.16v4.10h-4.16zM304.02 260.90h8.32v4.10h-8.32zM337.30 260.90h4.16v4.10h-4.16zM349.78 260.90h8.32v4.10h-8.32zM366.42 260.90h4.16v4.10h-4.16zM216.66 265.00h4.16v4.10h-4.16zM233.30 265.00h4.16v4.10h-4.16zM270.74 265.00h4.16v4.10h-4.16zM299.86 265.00h12.48v4.10h-12.48zM328.98 265.00h4.16v4.10h-4.16zM337.30 265.00h4.16v4.10h-4.16zM345.62 265.00h8.32v4.10h-8.32zM358.10 265.00h8.32v4.10h-8.32zM141.78 269.10h4.16v4.10h-4.16zM208.34 269.10h4.16v4.10h-4.16zM279.06 269.10h4.16v4.10h-4.16zM299.86 269.10h4.16v4.10h-4.16zM345.62 269.10h16.64v4.10h-16.64zM366.42 269.10h4.16v4.10h-4.16zM8.66 273.20h4.16v4.10h-4.16zM191.70 273.20h4.16v4.10h-4.16zM200.02 273.20h4.16v4.10h-4.16zM279.06 273.20h4.16v4.10h-4.16zM299.86 273.20h4.16v4.10h-4.16zM12.82 277.30h4.16v4.10h-4.16zM208.34 277.30h4.16v4.10h-4.16zM274.90 277.30h4.16v4.10h-4.16zM283.22 277.30h4.16v4.10h-4.16zM299.86 277.30h4.16v4.10h-4.16zM308.18 277.30h4.16v4.10h-4.16zM324.82 277.30h4.16v4.10h-4.16zM337.30 277.30h8.32v4.10h-8.32zM349.78 277.30h8.32v4.10h-8.32zM366.42 277.30h4.16v4.10h-4.16zM79.38 281.40h4.16v4.10h-4.16zM353.94 281.40h4.16v4.10h-4.16zM362.26 281.40h4.16v4.10h-4.16zM96.02 285.50h4.16v4.10h-4.16zM308.18 285.50h4.16v4.10h-4.16zM362.26 285.50h4.16v4.10h-4.16zM66.90 289.60h4.16v4.10h-4.16zM91.86 289.60h4.16v4.10h-4.16zM129.30 289.60h4.16v4.10h-4.16zM308.18 289.60h4.16v4.10h-4.16zM328.98 289.60h4.16v4.10h-4.16zM62.74 293.70h4.16v4.10h-4.16zM212.50 293.70h4.16v4.10h-4.16zM299.86 293.70h8.32v4.10h-8.32zM349.78 293.70h4.16v4.10h-4.16zM358.10 293.70h4.16v4.10h-4.16zM25.30 297.80h4.16v4.10h-4.16zM100.18 297.80h4.16v4.10h-4.16zM183.38 297.80h4.16v4.10h-4.16zM212.50 297.80h4.16v4.10h-4.16zM299.86 297.80h4.16v4.10h-4.16zM316.50 297.80h4.16v4.10h-4.16zM333.14 297.80h8.32v4.10h-8.32zM345.62 297.80h8.32v4.10h-8.32zM358.10 297.80h8.32v4.10h-8.32zM25.30 301.90h4.16v4.10h-4.16zM129.30 301.90h4.16v4.10h-4.16zM166.74 301.90h4.16v4.10h-4.16zM175.06 301.90h4.16v4.10h-4.16zM237.46 301.90h4.16v4.10h-4.16zM304.02 301.90h4.16v4.10h-4.16zM316.50 301.90h4.16v4.10h-4.16zM333.14 301.90h4.16v4.10h-4.16zM345.62 301.90h4.16v4.10h-4.16zM129.30 306.00h4.16v4.10h-4.16zM254.10 306.00h4.16v4.10h-4.16zM299.86 306.00h4.16v4.10h-4.16zM308.18 306.00h4.16v4.10h-4.16zM328.98 306.00h4.16v4.10h-4.16zM358.10 306.00h4.16v4.10h-4.16zM25.30 310.10h4.16v4.10h-4.16zM66.90 310.10h4.16v4.10h-4.16zM75.22 310.10h4.16v4.10h-4.16zM208.34 310.10h4.16v4.10h-4.16zM279.06 310.10h4.16v4.10h-4.16zM308.18 310.10h4.16v4.10h-4.16zM328.98 310.10h8.32v4.10h-8.32zM25.30 314.20h4.16v4.10h-4.16zM66.90 314.20h4.16v4.10h-4.16zM237.46 314.20h4.16v4.10h-4.16zM308.18 314.20h4.16v4.10h-4.16zM345.62 314.20h4.16v4.10h-4.16zM362.26 314.20h4.16v4.10h-4.16zM100.18 318.30h4.16v4.10h-4.16zM183.38 318.30h4.16v4.10h-4.16zM308.18 318.30h4.16v4.10h-4.16zM362.26 318.30h4.16v4.10h-4.16zM8.66 322.40h8.32v4.10h-8.32zM21.14 322.40h4.16v4.10h-4.16zM29.46 322.40h4.16v4.10h-4.16zM54.42 322.40h4.16v4.10h-4.16zM66.90 322.40h4.16v4.10h-4.16zM75.22 322.40h4.16v4.10h-4.16zM100.18 322.40h4.16v4.10h-4.16zM129.30 322.40h4.16v4.10h-4.16zM158.42 322.40h4.16v4.10h-4.16zM175.06 322.40h4.16v4.10h-4.16zM191.70 322.40h4.16v4.10h-4.16zM200.02 322.40h4.16v4.10h-4.16zM233.30 322.40h4.16v4.10h-4.16zM241.62 322.40h4.16v4.10h-4.16zM262.42 322.40h8.32v4.10h-8.32zM274.90 322.40h8.32v4.10h-8.32zM287.38 322.40h4.16v4.10h-4.16zM295.70 322.40h4.16v4.10h-4.16zM362.26 322.40h4.16v4.10h-4.16zM12.82 326.50h4.16v4.10h-4.16zM71.06 326.50h4.16v4.10h-4.16zM91.86 326.50h4.16v4.10h-4.16zM100.18 326.50h4.16v4.10h-4.16zM108.50 326.50h4.16v4.10h-4.16zM129.30 326.50h4.16v4.10h-4.16zM137.62 326.50h4.16v4.10h-4.16zM158.42 326.50h4.16v4.10h-4.16zM170.90 326.50h4.16v4.10h-4.16zM179.22 326.50h8.32v4.10h-8.32zM195.86 326.50h4.16v4.10h-4.16zM204.18 326.50h4.16v4.10h-4.16zM216.66 326.50h4.16v4.10h-4.16zM241.62 326.50h4.16v4.10h-4.16zM270.74 326.50h4.16v4.10h-4.16zM279.06 326.50h4.16v4.10h-4.16zM308.18 326.50h4.16v4.10h-4.16zM333.14 326.50h4.16v4.10h-4.16zM21.14 330.60h8.32v4.10h-8.32zM54.42 330.60h4.16v4.10h-4.16zM66.90 330.60h4.16v4.10h-4.16zM125.14 330.60h4.16v4.10h-4.16zM137.62 330.60h4.16v4.10h-4.16zM158.42 330.60h4.16v4.10h-4.16zM170.90 330.60h8.32v4.10h-8.32zM204.18 330.60h8.32v4.10h-8.32zM216.66 330.60h4.16v4.10h-4.16zM233.30 330.60h8.32v4.10h-8.32zM279.06 330.60h4.16v4.10h-4.16zM287.38 330.60h4.16v4.10h-4.16zM320.66 330.60h4.16v4.10h-4.16zM362.26 330.60h4.16v4.10h-4.16zM4.50 334.70h8.32v4.10h-8.32zM25.30 334.70h4.16v4.10h-4.16zM54.42 334.70h4.16v4.10h-4.16zM62.74 334.70h4.16v4.10h-4.16zM71.06 334.70h8.32v4.10h-8.32zM96.02 334.70h4.16v4.10h-4.16zM108.50 334.70h4.16v4.10h-4.16zM120.98 334.70h4.16v4.10h-4.16zM129.30 334.70h4.16v4.10h-4.16zM154.26 334.70h8.32v4.10h-8.32zM187.54 334.70h4.16v4.10h-4.16zM204.18 334.70h4.16v4.10h-4.16zM212.50 334.70h8.32v4.10h-8.32zM229.14 334.70h4.16v4.10h-4.16zM241.62 334.70h4.16v4.10h-4.16zM249.94 334.70h8.32v4.10h-8.32zM262.42 334.70h4.16v4.10h-4.16zM283.22 334.70h4.16v4.10h-4.16zM295.70 334.70h4.16v4.10h-4.16zM320.66 334.70h4.16v4.10h-4.16zM362.26 334.70h4.16v4.10h-4.16zM71.06 338.80h4.16v4.10h-4.16zM100.18 338.80h4.16v4.10h-4.16zM254.10 338.80h4.16v4.10h-4.16zM299.86 338.80h4.16v4.10h-4.16zM308.18 338.80h4.16v4.10h-4.16zM358.10 338.80h4.16v4.10h-4.16z"/>
<path fill="#faf6fa" d="M37.78 17.00h4.16v4.18h-4.16zM12.82 21.18h4.16v4.18h-4.16zM141.78 21.18h4.16v4.18h-4.16zM308.18 21.18h4.16v4.18h-4.16zM366.42 21.18h4.16v4.18h-4.16zM71.06 25.35h4.16v4.18h-4.16zM175.06 25.35h8.32v4.18h-8.32zM208.34 25.35h4.16v4.18h-4.16zM237.46 25.35h4.16v4.18h-4.16zM279.06 25.35h4.16v4.18h-4.16zM299.86 25.35h4.16v4.18h-4.16zM328.98 25.35h4.16v4.18h-4.16zM345.62 25.35h4.16v4.18h-4.16zM362.26 25.35h4.16v4.18h-4.16zM66.90 33.70h4.16v4.18h-4.16zM79.38 33.70h4.16v4.18h-4.16zM100.18 33.70h4.16v4.18h-4.16zM129.30 33.70h4.16v4.18h-4.16zM179.22 33.70h4.16v4.18h-4.16zM208.34 33.70h4.16v4.18h-4.16zM299.86 33.70h4.16v4.18h-4.16zM21.14 37.88h8.32v4.18h-8.32zM129.30 37.88h4.16v4.18h-4.16zM308.18 37.88h4.16v4.18h-4.16zM320.66 37.88h4.16v4.18h-4.16zM362.26 37.88h4.16v4.18h-4.16zM4.50 42.06h8.32v4.18h-8.32zM75.22 42.06h4.16v4.18h-4.16zM129.30 42.06h4.16v4.18h-4.16zM150.10 42.06h4.16v4.18h-4.16zM175.06 42.06h4.16v4.18h-4.16zM191.70 42.06h4.16v4.18h-4.16zM216.66 42.06h8.32v4.18h-8.32zM237.46 42.06h4.16v4.18h-4.16zM254.10 42.06h4.16v4.18h-4.16zM320.66 42.06h4.16v4.18h-4.16zM328.98 42.06h4.16v4.18h-4.16zM358.10 42.06h4.16v4.18h-4.16zM21.14 46.23h4.16v4.18h-4.16zM29.46 46.23h8.32v4.18h-8.32zM54.42 46.23h4.16v4.18h-4.16zM91.86 46.23h4.16v4.18h-4.16zM112.66 46.23h4.16v4.18h-4.16zM179.22 46.23h4.16v4.18h-4.16zM208.34 46.23h4.16v4.18h-4.16zM229.14 46.23h4.16v4.18h-4.16zM237.46 46.23h8.32v4.18h-8.32zM283.22 46.23h8.32v4.18h-8.32zM320.66 46.23h4.16v4.18h-4.16zM358.10 46.23h4.16v4.18h-4.16zM308.18 50.41h4.16v4.18h-4.16zM333.14 50.41h4.16v4.18h-4.16zM341.46 50.41h4.16v4.18h-4.16zM349.78 50.41h4.16v4.18h-4.16zM37.78 54.58h4.16v4.18h-4.16zM91.86 54.58h4.16v4.18h-4.16zM104.34 54.58h4.16v4.18h-4.16zM150.10 54.58h4.16v4.18h-4.16zM262.42 54.58h4.16v4.18h-4.16zM283.22 54.58h4.16v4.18h-4.16zM316.50 54.58h4.16v4.18h-4.16zM324.82 54.58h8.32v4.18h-8.32zM341.46 54.58h4.16v4.18h-4.16zM112.66 58.76h4.16v4.18h-4.16zM316.50 58.76h4.16v4.18h-4.16zM328.98 58.76h8.32v4.18h-8.32zM345.62 58.76h4.16v4.18h-4.16zM66.90 62.94h4.16v4.18h-4.16zM179.22 62.94h4.16v4.18h-4.16zM237.46 62.94h4.16v4.18h-4.16zM299.86 62.94h4.16v4.18h-4.16zM316.50 62.94h4.16v4.18h-4.16zM324.82 62.94h4.16v4.18h-4.16zM333.14 62.94h4.16v4.18h-4.16zM358.10 62.94h4.16v4.18h-4.16zM366.42 67.11h4.16v4.18h-4.16zM179.22 71.29h4.16v4.18h-4.16zM324.82 71.29h4.16v4.18h-4.16zM345.62 71.29h4.16v4.18h-4.16zM362.26 71.29h4.16v4.18h-4.16zM58.58 75.46h8.32v4.18h-8.32zM187.54 75.46h4.16v4.18h-4.16zM208.34 75.46h4.16v4.18h-4.16zM237.46 75.46h4.16v4.18h-4.16zM299.86 75.46h4.16v4.18h-4.16zM312.34 75.46h4.16v4.18h-4.16zM362.26 75.46h4.16v4.18h-4.16zM66.90 79.64h4.16v4.18h-4.16zM324.82 79.64h4.16v4.18h-4.16zM341.46 79.64h4.16v4.18h-4.16zM362.26 79.64h4.16v4.18h-4.16zM29.46 83.82h4.16v4.18h-4.16zM37.78 83.82h4.16v4.18h-4.16zM129.30 83.82h4.16v4.18h-4.16zM208.34 83.82h4.16v4.18h-4.16zM266.58 83.82h4.16v4.18h-4.16zM291.54 83.82h4.16v4.18h-4.16zM308.18 83.82h4.16v4.18h-4.16zM362.26 83.82h4.16v4.18h-4.16zM12.82 87.99h4.16v4.18h-4.16zM75.22 87.99h4.16v4.18h-4.16zM129.30 87.99h4.16v4.18h-4.16zM291.54 87.99h4.16v4.18h-4.16zM316.50 87.99h4.16v4.18h-4.16zM328.98 87.99h4.16v4.18h-4.16zM79.38 92.17h4.16v4.18h-4.16zM179.22 92.17h4.16v4.18h-4.16zM328.98 92.17h4.16v4.18h-4.16zM358.10 92.17h4.16v4.18h-4.16zM29.46 96.34h4.16v4.18h-4.16zM158.42 96.34h4.16v4.18h-4.16zM204.18 96.34h4.16v4.18h-4.16zM216.66 96.34h4.16v4.18h-4.16zM333.14 96.34h8.32v4.18h-8.32zM345.62 96.34h4.16v4.18h-4.16zM358.10 96.34h8.32v4.18h-8.32zM50.26 100.52h4.16v4.18h-4.16zM237.46 100.52h4.16v4.18h-4.16zM320.66 100.52h4.16v4.18h-4.16zM328.98 100.52h4.16v4.18h-4.16zM341.46 100.52h4.16v4.18h-4.16zM71.06 104.70h4.16v4.18h-4.16zM150.10 104.70h4.16v4.18h-4.16zM270.74 104.70h4.16v4.18h-4.16zM279.06 104.70h8.32v4.18h-8.32zM316.50 104.70h4.16v4.18h-4.16zM328.98 104.70h4.16v4.18h-4.16zM337.30 104.70h4.16v4.18h-4.16zM33.62 108.87h4.16v4.18h-4.16zM54.42 108.87h4.16v4.18h-4.16zM71.06 108.87h4.16v4.18h-4.16zM125.14 108.87h4.16v4.18h-4.16zM154.26 108.87h4.16v4.18h-4.16zM170.90 108.87h4.16v4.18h-4.16zM187.54 108.87h4.16v4.18h-4.16zM195.86 108.87h4.16v4.18h-4.16zM287.38 108.87h4.16v4.18h-4.16zM21.14 113.05h4.16v4.18h-4.16zM91.86 113.05h4.16v4.18h-4.16zM129.30 113.05h4.16v4.18h-4.16zM191.70 113.05h4.16v4.18h-4.16zM229.14 113.05h4.16v4.18h-4.16zM312.34 113.05h4.16v4.18h-4.16zM320.66 113.05h4.16v4.18h-4.16zM328.98 113.05h4.16v4.18h-4.16zM345.62 113.05h4.16v4.18h-4.16zM54.42 117.22h4.16v4.18h-4.16zM279.06 117.22h4.16v4.18h-4.16zM299.86 117.22h8.32v4.18h-8.32zM328.98 117.22h4.16v4.18h-4.16zM358.10 117.22h4.16v4.18h-4.16zM4.50 121.40h4.16v4.18h-4.16zM50.26 121.40h4.16v4.18h-4.16zM66.90 121.40h4.16v4.18h-4.16zM237.46 121.40h4.16v4.18h-4.16zM266.58 121.40h4.16v4.18h-4.16zM337.30 121.40h4.16v4.18h-4.16zM349.78 121.40h4.16v4.18h-4.16zM358.10 121.40h4.16v4.18h-4.16zM21.14 125.58h4.16v4.18h-4.16zM50.26 125.58h4.16v4.18h-4.16zM71.06 125.58h4.16v4.18h-4.16zM191.70 125.58h4.16v4.18h-4.16zM299.86 125.58h4.16v4.18h-4.16zM345.62 125.58h8.32v4.18h-8.32zM362.26 125.58h4.16v4.18h-4.16zM37.78 129.75h4.16v4.18h-4.16zM50.26 129.75h4.16v4.18h-4.16zM291.54 129.75h4.16v4.18h-4.16zM316.50 129.75h4.16v4.18h-4.16zM333.14 129.75h4.16v4.18h-4.16zM353.94 129.75h4.16v4.18h-4.16zM362.26 129.75h4.16v4.18h-4.16zM137.62 133.93h4.16v4.18h-4.16zM179.22 133.93h4.16v4.18h-4.16zM316.50 133.93h4.16v4.18h-4.16zM328.98 133.93h8.32v4.18h-8.32zM345.62 133.93h4.16v4.18h-4.16zM366.42 133.93h4.16v4.18h-4.16zM4.50 138.10h4.16v4.18h-4.16zM12.82 138.10h8.32v4.18h-8.32zM41.94 138.10h4.16v4.18h-4.16zM104.34 138.10h4.16v4.18h-4.16zM137.62 138.10h4.16v4.18h-4.16zM212.50 138.10h4.16v4.18h-4.16zM316.50 138.10h4.16v4.18h-4.16zM324.82 138.10h4.16v4.18h-4.16zM337.30 138.10h8.32v4.18h-8.32zM349.78 138.10h8.32v4.18h-8.32zM366.42 138.10h4.16v4.18h-4.16zM66.90 142.28h4.16v4.18h-4.16zM220.82 142.28h4.16v4.18h-4.16zM241.62 142.28h4.16v4.18h-4.16zM308.18 142.28h4.16v4.18h-4.16zM320.66 142.28h4.16v4.18h-4.16zM328.98 142.28h4.16v4.18h-4.16zM145.94 146.46h4.16v4.18h-4.16zM212.50 146.46h4.16v4.18h-4.16zM237.46 146.46h4.16v4.18h-4.16zM362.26 146.46h4.16v4.18h-4.16zM29.46 150.63h4.16v4.18h-4.16zM75.22 150.63h4.16v4.18h-4.16zM212.50 150.63h4.16v4.18h-4.16zM341.46 150.63h4.16v4.18h-4.16zM316.50 157.50h4.16v4.19h-4.16zM50.26 161.69h4.16v4.19h-4.16zM254.10 161.69h4.16v4.19h-4.16zM279.06 161.69h8.32v4.19h-8.32zM299.86 161.69h8.32v4.19h-8.32zM312.34 161.69h4.16v4.19h-4.16zM324.82 161.69h4.16v4.19h-4.16zM333.14 161.69h4.16v4.19h-4.16zM12.82 165.88h4.16v4.19h-4.16zM79.38 165.88h4.16v4.19h-4.16zM150.10 165.88h4.16v4.19h-4.16zM179.22 165.88h4.16v4.19h-4.16zM283.22 165.88h4.16v4.19h-4.16zM308.18 165.88h4.16v4.19h-4.16zM345.62 165.88h4.16v4.19h-4.16zM358.10 165.88h4.16v4.19h-4.16zM308.18 170.07h4.16v4.19h-4.16zM358.10 170.07h4.16v4.19h-4.16zM25.30 174.26h4.16v4.19h-4.16zM66.90 174.26h4.16v4.19h-4.16zM129.30 174.26h4.16v4.19h-4.16zM150.10 174.26h4.16v4.19h-4.16zM191.70 174.26h4.16v4.19h-4.16zM312.34 174.26h4.16v4.19h-4.16zM320.66 174.26h4.16v4.19h-4.16zM341.46 174.26h4.16v4.19h-4.16zM8.66 178.45h4.16v4.19h-4.16zM191.70 178.45h4.16v4.19h-4.16zM233.30 178.45h4.16v4.19h-4.16zM254.10 178.45h4.16v4.19h-4.16zM333.14 178.45h4.16v4.19h-4.16zM345.62 178.45h4.16v4.19h-4.16zM362.26 178.45h4.16v4.19h-4.16zM37.78 182.64h4.16v4.19h-4.16zM79.38 186.83h4.16v4.19h-4.16zM112.66 186.83h4.16v4.19h-4.16zM283.22 186.83h4.16v4.19h-4.16zM341.46 186.83h4.16v4.19h-4.16zM362.26 186.83h4.16v4.19h-4.16zM54.42 191.02h4.16v4.19h-4.16zM75.22 191.02h4.16v4.19h-4.16zM96.02 191.02h4.16v4.19h-4.16zM141.78 191.02h4.16v4.19h-4.16zM233.30 191.02h4.16v4.19h-4.16zM179.22 195.21h4.16v4.19h-4.16zM316.50 195.21h4.16v4.19h-4.16zM145.94 199.40h4.16v4.19h-4.16zM328.98 199.40h4.16v4.19h-4.16zM345.62 199.40h4.16v4.19h-4.16zM358.10 199.40h4.16v4.19h-4.16zM79.38 203.59h4.16v4.19h-4.16zM100.18 203.59h4.16v4.19h-4.16zM316.50 203.59h4.16v4.19h-4.16zM333.14 203.59h4.16v4.19h-4.16zM349.78 203.59h4.16v4.19h-4.16zM358.10 203.59h4.16v4.19h-4.16zM37.78 207.78h4.16v4.19h-4.16zM308.18 207.78h4.16v4.19h-4.16zM316.50 207.78h4.16v4.19h-4.16zM333.14 207.78h4.16v4.19h-4.16zM341.46 207.78h4.16v4.19h-4.16zM21.14 211.97h12.48v4.19h-12.48zM50.26 211.97h4.16v4.19h-4.16zM91.86 211.97h4.16v4.19h-4.16zM129.30 211.97h4.16v4.19h-4.16zM141.78 211.97h4.16v4.19h-4.16zM158.42 211.97h4.16v4.19h-4.16zM175.06 211.97h4.16v4.19h-4.16zM237.46 211.97h4.16v4.19h-4.16zM249.94 211.97h4.16v4.19h-4.16zM279.06 211.97h4.16v4.19h-4.16zM304.02 211.97h4.16v4.19h-4.16zM328.98 211.97h4.16v4.19h-4.16zM37.78 216.16h4.16v4.19h-4.16zM328.98 216.16h4.16v4.19h-4.16zM337.30 216.16h4.16v4.19h-4.16zM299.86 220.35h4.16v4.19h-4.16zM345.62 220.35h4.16v4.19h-4.16zM362.26 220.35h4.16v4.19h-4.16zM12.82 224.54h4.16v4.19h-4.16zM29.46 224.54h4.16v4.19h-4.16zM96.02 224.54h8.32v4.19h-8.32zM141.78 224.54h4.16v4.19h-4.16zM150.10 224.54h4.16v4.19h-4.16zM216.66 224.54h4.16v4.19h-4.16zM241.62 224.54h8.32v4.19h-8.32zM283.22 224.54h4.16v4.19h-4.16zM304.02 224.54h4.16v4.19h-4.16zM312.34 224.54h4.16v4.19h-4.16zM362.26 224.54h4.16v4.19h-4.16zM21.14 228.73h4.16v4.19h-4.16zM33.62 228.73h4.16v4.19h-4.16zM87.70 228.73h4.16v4.19h-4.16zM162.58 228.73h4.16v4.19h-4.16zM187.54 228.73h8.32v4.19h-8.32zM287.38 228.73h4.16v4.19h-4.16zM12.82 232.92h4.16v4.19h-4.16zM29.46 232.92h4.16v4.19h-4.16zM100.18 232.92h4.16v4.19h-4.16zM145.94 232.92h4.16v4.19h-4.16zM175.06 232.92h4.16v4.19h-4.16zM208.34 232.92h4.16v4.19h-4.16zM254.10 232.92h4.16v4.19h-4.16zM279.06 232.92h4.16v4.19h-4.16zM291.54 232.92h4.16v4.19h-4.16zM312.34 232.92h4.16v4.19h-4.16zM320.66 232.92h4.16v4.19h-4.16zM328.98 232.92h4.16v4.19h-4.16zM358.10 232.92h4.16v4.19h-4.16zM50.26 237.11h4.16v4.19h-4.16zM362.26 237.11h4.16v4.19h-4.16zM216.66 241.30h4.16v4.19h-4.16zM233.30 241.30h4.16v4.19h-4.16zM341.46 241.30h4.16v4.19h-4.16zM358.10 241.30h4.16v4.19h-4.16zM108.50 245.49h4.16v4.19h-4.16zM220.82 245.49h4.16v4.19h-4.16zM287.38 245.49h4.16v4.19h-4.16zM324.82 245.49h4.16v4.19h-4.16zM341.46 245.49h4.16v4.19h-4.16zM353.94 245.49h12.48v4.19h-12.48zM158.42 249.68h4.16v4.19h-4.16zM175.06 249.68h16.64v4.19h-16.64zM195.86 249.68h4.16v4.19h-4.16zM220.82 249.68h4.16v4.19h-4.16zM283.22 249.68h4.16v4.19h-4.16zM291.54 249.68h4.16v4.19h-4.16zM328.98 249.68h4.16v4.19h-4.16zM341.46 249.68h4.16v4.19h-4.16zM358.10 249.68h4.16v4.19h-4.16zM75.22 256.80h4.16v4.10h-4.16zM299.86 256.80h4.16v4.10h-4.16zM316.50 256.80h4.16v4.10h-4.16zM324.82 260.90h4.16v4.10h-4.16zM341.46 260.90h4.16v4.10h-4.16zM8.66 265.00h4.16v4.10h-4.16zM87.70 265.00h4.16v4.10h-4.16zM162.58 265.00h4.16v4.10h-4.16zM220.82 265.00h4.16v4.10h-4.16zM316.50 265.00h4.16v4.10h-4.16zM341.46 265.00h4.16v4.10h-4.16zM162.58 269.10h4.16v4.10h-4.16zM220.82 269.10h4.16v4.10h-4.16zM324.82 269.10h4.16v4.10h-4.16zM62.74 273.20h4.16v4.10h-4.16zM324.82 273.20h4.16v4.10h-4.16zM366.42 273.20h4.16v4.10h-4.16zM270.74 277.30h4.16v4.10h-4.16zM37.78 281.40h4.16v4.10h-4.16zM337.30 281.40h4.16v4.10h-4.16zM29.46 285.50h4.16v4.10h-4.16zM50.26 285.50h4.16v4.10h-4.16zM62.74 285.50h4.16v4.10h-4.16zM353.94 285.50h4.16v4.10h-4.16zM75.22 289.60h4.16v4.10h-4.16zM254.10 293.70h4.16v4.10h-4.16zM308.18 293.70h4.16v4.10h-4.16zM324.82 293.70h4.16v4.10h-4.16zM345.62 293.70h4.16v4.10h-4.16zM366.42 293.70h4.16v4.10h-4.16zM29.46 297.80h4.16v4.10h-4.16zM62.74 297.80h8.32v4.10h-8.32zM91.86 297.80h4.16v4.10h-4.16zM216.66 297.80h4.16v4.10h-4.16zM233.30 297.80h4.16v4.10h-4.16zM328.98 297.80h4.16v4.10h-4.16zM12.82 301.90h4.16v4.10h-4.16zM37.78 301.90h4.16v4.10h-4.16zM154.26 301.90h4.16v4.10h-4.16zM324.82 301.90h4.16v4.10h-4.16zM349.78 301.90h4.16v4.10h-4.16zM358.10 301.90h4.16v4.10h-4.16zM270.74 306.00h4.16v4.10h-4.16zM179.22 310.10h4.16v4.10h-4.16zM316.50 310.10h4.16v4.10h-4.16zM337.30 310.10h4.16v4.10h-4.16zM345.62 310.10h8.32v4.10h-8.32zM358.10 310.10h8.32v4.10h-8.32zM91.86 314.20h4.16v4.10h-4.16zM100.18 314.20h4.16v4.10h-4.16zM270.74 314.20h4.16v4.10h-4.16zM333.14 314.20h4.16v4.10h-4.16zM358.10 314.20h4.16v4.10h-4.16zM129.30 318.30h4.16v4.10h-4.16zM328.98 318.30h4.16v4.10h-4.16zM4.50 322.40h4.16v4.10h-4.16zM25.30 322.40h4.16v4.10h-4.16zM112.66 322.40h4.16v4.10h-4.16zM141.78 322.40h4.16v4.10h-4.16zM220.82 322.40h4.16v4.10h-4.16zM245.78 322.40h4.16v4.10h-4.16zM254.10 322.40h4.16v4.10h-4.16zM312.34 322.40h4.16v4.10h-4.16zM328.98 322.40h8.32v4.10h-8.32zM21.14 326.50h4.16v4.10h-4.16zM29.46 326.50h4.16v4.10h-4.16zM62.74 326.50h4.16v4.10h-4.16zM208.34 326.50h4.16v4.10h-4.16zM316.50 326.50h4.16v4.10h-4.16zM349.78 326.50h4.16v4.10h-4.16zM358.10 326.50h4.16v4.10h-4.16zM58.58 330.60h4.16v4.10h-4.16zM108.50 330.60h4.16v4.10h-4.16zM150.10 330.60h4.16v4.10h-4.16zM229.14 330.60h4.16v4.10h-4.16zM241.62 330.60h4.16v4.10h-4.16zM312.34 330.60h4.16v4.10h-4.16zM358.10 330.60h4.16v4.10h-4.16zM29.46 334.70h4.16v4.10h-4.16zM58.58 334.70h4.16v4.10h-4.16zM66.90 334.70h4.16v4.10h-4.16zM100.18 334.70h4.16v4.10h-4.16zM125.14 334.70h4.16v4.10h-4.16zM208.34 334.70h4.16v4.10h-4.16zM237.46 334.70h4.16v4.10h-4.16zM274.90 334.70h8.32v4.10h-8.32zM291.54 334.70h4.16v4.10h-4.16zM312.34 334.70h4.16v4.10h-4.16zM333.14 334.70h4.16v4.10h-4.16zM66.90 338.80h4.16v4.10h-4.16zM320.66 338.80h8.32v4.10h-8.32zM337.30 338.80h4.16v4.10h-4.16zM345.62 338.80h12.48v4.10h-12.48z"/>
<path fill="#ffcdcd" d="M366.42 17.00h4.16v4.18h-4.16zM349.78 21.18h4.16v4.18h-4.16zM25.30 29.53h4.16v4.18h-4.16zM333.14 37.88h8.32v4.18h-8.32zM358.10 37.88h4.16v4.18h-4.16zM366.42 37.88h4.16v4.18h-4.16zM158.42 42.06h4.16v4.18h-4.16zM25.30 46.23h4.16v4.18h-4.16zM141.78 46.23h4.16v4.18h-4.16zM362.26 46.23h4.16v4.18h-4.16zM328.98 50.41h4.16v4.18h-4.16zM62.74 54.58h4.16v4.18h-4.16zM75.22 54.58h4.16v4.18h-4.16zM37.78 58.76h4.16v4.18h-4.16zM62.74 58.76h4.16v4.18h-4.16zM362.26 62.94h4.16v4.18h-4.16zM170.90 75.46h4.16v4.18h-4.16zM349.78 75.46h4.16v4.18h-4.16zM229.14 83.82h4.16v4.18h-4.16zM241.62 83.82h4.16v4.18h-4.16zM29.46 108.87h4.16v4.18h-4.16zM41.94 108.87h4.16v4.18h-4.16zM108.50 108.87h4.16v4.18h-4.16zM191.70 108.87h4.16v4.18h-4.16zM229.14 108.87h4.16v4.18h-4.16zM249.94 108.87h4.16v4.18h-4.16zM274.90 108.87h8.32v4.18h-8.32zM179.22 113.05h4.16v4.18h-4.16zM158.42 121.40h4.16v4.18h-4.16zM270.74 121.40h4.16v4.18h-4.16zM291.54 121.40h4.16v4.18h-4.16zM25.30 125.58h4.16v4.18h-4.16zM8.66 138.10h4.16v4.18h-4.16zM129.30 138.10h4.16v4.18h-4.16zM29.46 142.28h4.16v4.18h-4.16zM62.74 146.46h4.16v4.18h-4.16zM283.22 150.63h4.16v4.18h-4.16zM129.30 161.69h4.16v4.19h-4.16zM87.70 165.88h4.16v4.19h-4.16zM29.46 174.26h4.16v4.19h-4.16zM75.22 174.26h4.16v4.19h-4.16zM212.50 199.40h4.16v4.19h-4.16zM162.58 207.78h4.16v4.19h-4.16zM33.62 211.97h4.16v4.19h-4.16zM125.14 211.97h4.16v4.19h-4.16zM216.66 216.16h4.16v4.19h-4.16zM129.30 224.54h4.16v4.19h-4.16zM129.30 228.73h4.16v4.19h-4.16zM62.74 237.11h4.16v4.19h-4.16zM366.42 237.11h4.16v4.19h-4.16zM62.74 241.30h4.16v4.19h-4.16zM8.66 249.68h4.16v4.19h-4.16zM141.78 249.68h4.16v4.19h-4.16zM324.82 265.00h4.16v4.10h-4.16zM79.38 285.50h4.16v4.10h-4.16zM100.18 289.60h4.16v4.10h-4.16zM37.78 293.70h4.16v4.10h-4.16zM75.22 297.80h4.16v4.10h-4.16zM158.42 301.90h8.32v4.10h-8.32zM220.82 310.10h4.16v4.10h-4.16zM79.38 318.30h4.16v4.10h-4.16zM62.74 322.40h4.16v4.10h-4.16zM79.38 322.40h4.16v4.10h-4.16zM79.38 334.70h4.16v4.10h-4.16zM179.22 334.70h4.16v4.10h-4.16zM129.30 338.80h4.16v4.10h-4.16z"/>
<path fill="#ff9696" d="M37.78 25.35h4.16v4.18h-4.16zM62.74 25.35h4.16v4.18h-4.16zM75.22 25.35h8.32v4.18h-8.32zM112.66 25.35h4.16v4.18h-4.16zM220.82 25.35h4.16v4.18h-4.16zM304.02 25.35h8.32v4.18h-8.32zM316.50 25.35h4.16v4.18h-4.16zM337.30 25.35h4.16v4.18h-4.16zM353.94 25.35h8.32v4.18h-8.32zM308.18 29.53h4.16v4.18h-4.16zM337.30 29.53h4.16v4.18h-4.16zM349.78 29.53h4.16v4.18h-4.16zM358.10 29.53h4.16v4.18h-4.16zM62.74 33.70h4.16v4.18h-4.16zM162.58 33.70h4.16v4.18h-4.16zM316.50 33.70h4.16v4.18h-4.16zM324.82 33.70h4.16v4.18h-4.16zM337.30 33.70h4.16v4.18h-4.16zM345.62 33.70h4.16v4.18h-4.16zM353.94 33.70h4.16v4.18h-4.16zM366.42 33.70h4.16v4.18h-4.16zM75.22 37.88h4.16v4.18h-4.16zM175.06 37.88h4.16v4.18h-4.16zM216.66 37.88h4.16v4.18h-4.16zM237.46 37.88h4.16v4.18h-4.16zM345.62 37.88h4.16v4.18h-4.16zM50.26 42.06h4.16v4.18h-4.16zM137.62 42.06h8.32v4.18h-8.32zM179.22 42.06h4.16v4.18h-4.16zM270.74 42.06h4.16v4.18h-4.16zM279.06 42.06h8.32v4.18h-8.32zM316.50 42.06h4.16v4.18h-4.16zM324.82 42.06h4.16v4.18h-4.16zM333.14 42.06h8.32v4.18h-8.32zM345.62 42.06h4.16v4.18h-4.16zM362.26 42.06h4.16v4.18h-4.16zM8.66 46.23h8.32v4.18h-8.32zM62.74 46.23h4.16v4.18h-4.16zM75.22 46.23h8.32v4.18h-8.32zM104.34 46.23h4.16v4.18h-4.16zM191.70 46.23h4.16v4.18h-4.16zM220.82 46.23h4.16v4.18h-4.16zM270.74 46.23h4.16v4.18h-4.16zM291.54 46.23h4.16v4.18h-4.16zM304.02 46.23h8.32v4.18h-8.32zM316.50 46.23h4.16v4.18h-4.16zM328.98 46.23h24.96v4.18h-24.96zM316.50 50.41h4.16v4.18h-4.16zM353.94 50.41h16.64v4.18h-16.64zM12.82 54.58h4.16v4.18h-4.16zM137.62 54.58h4.16v4.18h-4.16zM162.58 54.58h4.16v4.18h-4.16zM179.22 54.58h4.16v4.18h-4.16zM241.62 54.58h4.16v4.18h-4.16zM254.10 54.58h4.16v4.18h-4.16zM270.74 54.58h4.16v4.18h-4.16zM291.54 54.58h4.16v4.18h-4.16zM320.66 54.58h4.16v4.18h-4.16zM220.82 58.76h4.16v4.18h-4.16zM353.94 58.76h4.16v4.18h-4.16zM96.02 62.94h4.16v4.18h-4.16zM12.82 71.29h4.16v4.18h-4.16zM233.30 71.29h4.16v4.18h-4.16zM279.06 71.29h4.16v4.18h-4.16zM337.30 71.29h4.16v4.18h-4.16zM21.14 75.46h4.16v4.18h-4.16zM75.22 75.46h4.16v4.18h-4.16zM137.62 75.46h4.16v4.18h-4.16zM158.42 75.46h4.16v4.18h-4.16zM191.70 75.46h4.16v4.18h-4.16zM254.10 75.46h4.16v4.18h-4.16zM270.74 75.46h4.16v4.18h-4.16zM291.54 75.46h4.16v4.18h-4.16zM308.18 75.46h4.16v4.18h-4.16zM324.82 75.46h4.16v4.18h-4.16zM337.30 75.46h12.48v4.18h-12.48zM358.10 75.46h4.16v4.18h-4.16zM96.02 79.64h4.16v4.18h-4.16zM162.58 83.82h4.16v4.18h-4.16zM191.70 83.82h4.16v4.18h-4.16zM353.94 83.82h4.16v4.18h-4.16zM366.42 83.82h4.16v4.18h-4.16zM79.38 87.99h4.16v4.18h-4.16zM150.10 87.99h4.16v4.18h-4.16zM220.82 92.17h4.16v4.18h-4.16zM299.86 92.17h12.48v4.18h-12.48zM324.82 92.17h4.16v4.18h-4.16zM333.14 92.17h8.32v4.18h-8.32zM345.62 92.17h8.32v4.18h-8.32zM362.26 92.17h8.32v4.18h-8.32zM341.46 96.34h4.16v4.18h-4.16zM366.42 96.34h4.16v4.18h-4.16zM37.78 100.52h4.16v4.18h-4.16zM79.38 100.52h4.16v4.18h-4.16zM141.78 100.52h4.16v4.18h-4.16zM162.58 100.52h4.16v4.18h-4.16zM316.50 100.52h4.16v4.18h-4.16zM324.82 100.52h4.16v4.18h-4.16zM345.62 100.52h4.16v4.18h-4.16zM8.66 104.70h8.32v4.18h-8.32zM162.58 104.70h4.16v4.18h-4.16zM287.38 104.70h4.16v4.18h-4.16zM333.14 104.70h4.16v4.18h-4.16zM341.46 104.70h12.48v4.18h-12.48zM362.26 104.70h8.32v4.18h-8.32zM4.50 108.87h4.16v4.18h-4.16zM12.82 108.87h4.16v4.18h-4.16zM21.14 108.87h8.32v4.18h-8.32zM50.26 108.87h4.16v4.18h-4.16zM62.74 108.87h8.32v4.18h-8.32zM100.18 108.87h8.32v4.18h-8.32zM141.78 108.87h8.32v4.18h-8.32zM179.22 108.87h4.16v4.18h-4.16zM204.18 108.87h24.96v4.18h-24.96zM233.30 108.87h4.16v4.18h-4.16zM241.62 108.87h8.32v4.18h-8.32zM254.10 108.87h4.16v4.18h-4.16zM266.58 108.87h4.16v4.18h-4.16zM320.66 108.87h4.16v4.18h-4.16zM25.30 113.05h8.32v4.18h-8.32zM37.78 113.05h4.16v4.18h-4.16zM62.74 113.05h8.32v4.18h-8.32zM75.22 113.05h4.16v4.18h-4.16zM112.66 113.05h4.16v4.18h-4.16zM141.78 113.05h4.16v4.18h-4.16zM158.42 113.05h8.32v4.18h-8.32zM175.06 113.05h4.16v4.18h-4.16zM216.66 113.05h4.16v4.18h-4.16zM266.58 113.05h4.16v4.18h-4.16zM299.86 113.05h12.48v4.18h-12.48zM333.14 113.05h4.16v4.18h-4.16zM341.46 113.05h4.16v4.18h-4.16zM349.78 113.05h16.64v4.18h-16.64zM37.78 117.22h4.16v4.18h-4.16zM79.38 117.22h4.16v4.18h-4.16zM104.34 117.22h4.16v4.18h-4.16zM195.86 117.22h4.16v4.18h-4.16zM229.14 117.22h4.16v4.18h-4.16zM316.50 117.22h4.16v4.18h-4.16zM333.14 117.22h12.48v4.18h-12.48zM362.26 117.22h4.16v4.18h-4.16zM37.78 121.40h4.16v4.18h-4.16zM283.22 121.40h4.16v4.18h-4.16zM324.82 121.40h4.16v4.18h-4.16zM333.14 121.40h4.16v4.18h-4.16zM362.26 121.40h4.16v4.18h-4.16zM37.78 125.58h4.16v4.18h-4.16zM137.62 125.58h4.16v4.18h-4.16zM324.82 125.58h4.16v4.18h-4.16zM333.14 125.58h8.32v4.18h-8.32zM312.34 129.75h4.16v4.18h-4.16zM320.66 129.75h4.16v4.18h-4.16zM328.98 129.75h4.16v4.18h-4.16zM341.46 129.75h8.32v4.18h-8.32zM358.10 129.75h4.16v4.18h-4.16zM62.74 133.93h4.16v4.18h-4.16zM337.30 133.93h4.16v4.18h-4.16zM349.78 133.93h8.32v4.18h-8.32zM362.26 133.93h4.16v4.18h-4.16zM116.82 138.10h4.16v4.18h-4.16zM270.74 138.10h4.16v4.18h-4.16zM345.62 138.10h4.16v4.18h-4.16zM362.26 138.10h4.16v4.18h-4.16zM79.38 142.28h4.16v4.18h-4.16zM158.42 142.28h4.16v4.18h-4.16zM283.22 142.28h4.16v4.18h-4.16zM312.34 142.28h8.32v4.18h-8.32zM333.14 142.28h8.32v4.18h-8.32zM349.78 142.28h4.16v4.18h-4.16zM358.10 142.28h12.48v4.18h-12.48zM54.42 146.46h4.16v4.18h-4.16zM229.14 146.46h4.16v4.18h-4.16zM304.02 146.46h4.16v4.18h-4.16zM316.50 146.46h4.16v4.18h-4.16zM324.82 146.46h29.12v4.18h-29.12zM62.74 150.63h4.16v4.18h-4.16zM216.66 150.63h4.16v4.18h-4.16zM299.86 150.63h4.16v4.18h-4.16zM308.18 150.63h4.16v4.18h-4.16zM316.50 150.63h4.16v4.18h-4.16zM345.62 150.63h8.32v4.18h-8.32zM37.78 157.50h4.16v4.19h-4.16zM162.58 157.50h4.16v4.19h-4.16zM283.22 157.50h4.16v4.19h-4.16zM299.86 157.50h12.48v4.19h-12.48zM337.30 157.50h4.16v4.19h-4.16zM25.30 161.69h4.16v4.19h-4.16zM75.22 161.69h8.32v4.19h-8.32zM100.18 161.69h4.16v4.19h-4.16zM175.06 161.69h8.32v4.19h-8.32zM245.78 161.69h4.16v4.19h-4.16zM295.70 161.69h4.16v4.19h-4.16zM316.50 161.69h4.16v4.19h-4.16zM328.98 161.69h4.16v4.19h-4.16zM337.30 161.69h4.16v4.19h-4.16zM345.62 161.69h8.32v4.19h-8.32zM358.10 161.69h4.16v4.19h-4.16zM8.66 165.88h4.16v4.19h-4.16zM62.74 165.88h4.16v4.19h-4.16zM224.98 165.88h4.16v4.19h-4.16zM249.94 165.88h4.16v4.19h-4.16zM316.50 165.88h4.16v4.19h-4.16zM324.82 165.88h4.16v4.19h-4.16zM337.30 165.88h4.16v4.19h-4.16zM349.78 165.88h4.16v4.19h-4.16zM362.26 165.88h4.16v4.19h-4.16zM8.66 174.26h8.32v4.19h-8.32zM162.58 174.26h4.16v4.19h-4.16zM12.82 178.45h4.16v4.19h-4.16zM33.62 178.45h4.16v4.19h-4.16zM62.74 178.45h4.16v4.19h-4.16zM162.58 178.45h4.16v4.19h-4.16zM299.86 178.45h4.16v4.19h-4.16zM308.18 178.45h4.16v4.19h-4.16zM324.82 178.45h4.16v4.19h-4.16zM337.30 178.45h4.16v4.19h-4.16zM349.78 178.45h4.16v4.19h-4.16zM358.10 178.45h4.16v4.19h-4.16zM366.42 178.45h4.16v4.19h-4.16zM308.18 182.64h4.16v4.19h-4.16zM324.82 182.64h4.16v4.19h-4.16zM349.78 182.64h4.16v4.19h-4.16zM358.10 182.64h4.16v4.19h-4.16zM366.42 182.64h4.16v4.19h-4.16zM33.62 186.83h4.16v4.19h-4.16zM299.86 186.83h4.16v4.19h-4.16zM308.18 186.83h4.16v4.19h-4.16zM353.94 186.83h4.16v4.19h-4.16zM366.42 186.83h4.16v4.19h-4.16zM87.70 191.02h4.16v4.19h-4.16zM191.70 191.02h4.16v4.19h-4.16zM249.94 191.02h4.16v4.19h-4.16zM279.06 191.02h4.16v4.19h-4.16zM220.82 195.21h4.16v4.19h-4.16zM299.86 195.21h12.48v4.19h-12.48zM324.82 195.21h4.16v4.19h-4.16zM337.30 195.21h12.48v4.19h-12.48zM358.10 195.21h4.16v4.19h-4.16zM183.38 199.40h4.16v4.19h-4.16zM204.18 199.40h4.16v4.19h-4.16zM291.54 199.40h4.16v4.19h-4.16zM337.30 203.59h12.48v4.19h-12.48zM366.42 203.59h4.16v4.19h-4.16zM353.94 207.78h4.16v4.19h-4.16zM12.82 211.97h4.16v4.19h-4.16zM62.74 211.97h4.16v4.19h-4.16zM79.38 211.97h4.16v4.19h-4.16zM162.58 211.97h4.16v4.19h-4.16zM224.98 211.97h4.16v4.19h-4.16zM270.74 211.97h4.16v4.19h-4.16zM283.22 211.97h4.16v4.19h-4.16zM295.70 211.97h8.32v4.19h-8.32zM316.50 211.97h4.16v4.19h-4.16zM324.82 211.97h4.16v4.19h-4.16zM345.62 211.97h4.16v4.19h-4.16zM353.94 211.97h8.32v4.19h-8.32zM366.42 211.97h4.16v4.19h-4.16zM353.94 216.16h4.16v4.19h-4.16zM324.82 220.35h4.16v4.19h-4.16zM349.78 220.35h4.16v4.19h-4.16zM33.62 224.54h4.16v4.19h-4.16zM66.90 224.54h4.16v4.19h-4.16zM220.82 224.54h4.16v4.19h-4.16zM249.94 224.54h4.16v4.19h-4.16zM258.26 224.54h4.16v4.19h-4.16zM270.74 224.54h4.16v4.19h-4.16zM299.86 224.54h4.16v4.19h-4.16zM308.18 224.54h4.16v4.19h-4.16zM316.50 224.54h4.16v4.19h-4.16zM328.98 224.54h8.32v4.19h-8.32zM345.62 224.54h8.32v4.19h-8.32zM358.10 224.54h4.16v4.19h-4.16zM79.38 228.73h4.16v4.19h-4.16zM141.78 228.73h4.16v4.19h-4.16zM299.86 228.73h4.16v4.19h-4.16zM341.46 228.73h4.16v4.19h-4.16zM362.26 228.73h4.16v4.19h-4.16zM33.62 232.92h4.16v4.19h-4.16zM179.22 232.92h4.16v4.19h-4.16zM220.82 232.92h4.16v4.19h-4.16zM249.94 232.92h4.16v4.19h-4.16zM270.74 232.92h4.16v4.19h-4.16zM283.22 232.92h4.16v4.19h-4.16zM295.70 232.92h4.16v4.19h-4.16zM304.02 232.92h4.16v4.19h-4.16zM316.50 232.92h4.16v4.19h-4.16zM333.14 232.92h8.32v4.19h-8.32zM345.62 232.92h4.16v4.19h-4.16zM353.94 232.92h4.16v4.19h-4.16zM362.26 232.92h8.32v4.19h-8.32zM8.66 237.11h8.32v4.19h-8.32zM25.30 237.11h12.48v4.19h-12.48zM100.18 237.11h4.16v4.19h-4.16zM129.30 237.11h4.16v4.19h-4.16zM50.26 241.30h4.16v4.19h-4.16zM229.14 241.30h4.16v4.19h-4.16zM304.02 241.30h4.16v4.19h-4.16zM328.98 241.30h12.48v4.19h-12.48zM345.62 241.30h4.16v4.19h-4.16zM362.26 241.30h4.16v4.19h-4.16zM79.38 245.49h4.16v4.19h-4.16zM195.86 245.49h4.16v4.19h-4.16zM366.42 245.49h4.16v4.19h-4.16zM79.38 249.68h4.16v4.19h-4.16zM316.50 249.68h4.16v4.19h-4.16zM337.30 249.68h4.16v4.19h-4.16zM345.62 249.68h4.16v4.19h-4.16zM362.26 249.68h8.32v4.19h-8.32zM150.10 256.80h4.16v4.10h-4.16zM220.82 256.80h4.16v4.10h-4.16zM337.30 256.80h20.80v4.10h-20.80zM12.82 265.00h4.16v4.10h-4.16zM366.42 265.00h4.16v4.10h-4.16zM308.18 281.40h4.16v4.10h-4.16zM324.82 281.40h4.16v4.10h-4.16zM349.78 281.40h4.16v4.10h-4.16zM366.42 281.40h4.16v4.10h-4.16zM21.14 285.50h4.16v4.10h-4.16zM37.78 285.50h4.16v4.10h-4.16zM299.86 285.50h4.16v4.10h-4.16zM324.82 285.50h12.48v4.10h-12.48zM345.62 285.50h8.32v4.10h-8.32zM358.10 285.50h4.16v4.10h-4.16zM366.42 285.50h4.16v4.10h-4.16zM21.14 289.60h4.16v4.10h-4.16zM316.50 289.60h4.16v4.10h-4.16zM324.82 289.60h4.16v4.10h-4.16zM349.78 289.60h16.64v4.10h-16.64zM353.94 293.70h4.16v4.10h-4.16zM37.78 297.80h4.16v4.10h-4.16zM129.30 297.80h4.16v4.10h-4.16zM162.58 297.80h4.16v4.10h-4.16zM179.22 297.80h4.16v4.10h-4.16zM308.18 297.80h4.16v4.10h-4.16zM324.82 297.80h4.16v4.10h-4.16zM341.46 297.80h4.16v4.10h-4.16zM366.42 297.80h4.16v4.10h-4.16zM75.22 301.90h4.16v4.10h-4.16zM150.10 301.90h4.16v4.10h-4.16zM179.22 301.90h4.16v4.10h-4.16zM283.22 301.90h4.16v4.10h-4.16zM299.86 301.90h4.16v4.10h-4.16zM308.18 301.90h4.16v4.10h-4.16zM341.46 301.90h4.16v4.10h-4.16zM366.42 301.90h4.16v4.10h-4.16zM324.82 306.00h4.16v4.10h-4.16zM349.78 306.00h8.32v4.10h-8.32zM366.42 306.00h4.16v4.10h-4.16zM299.86 310.10h8.32v4.10h-8.32zM324.82 310.10h4.16v4.10h-4.16zM341.46 310.10h4.16v4.10h-4.16zM353.94 310.10h4.16v4.10h-4.16zM366.42 310.10h4.16v4.10h-4.16zM62.74 314.20h4.16v4.10h-4.16zM79.38 314.20h4.16v4.10h-4.16zM299.86 314.20h4.16v4.10h-4.16zM316.50 314.20h4.16v4.10h-4.16zM324.82 314.20h8.32v4.10h-8.32zM337.30 314.20h8.32v4.10h-8.32zM349.78 314.20h8.32v4.10h-8.32zM37.78 318.30h4.16v4.10h-4.16zM162.58 318.30h4.16v4.10h-4.16zM299.86 318.30h8.32v4.10h-8.32zM316.50 318.30h4.16v4.10h-4.16zM333.14 318.30h8.32v4.10h-8.32zM345.62 318.30h4.16v4.10h-4.16zM358.10 318.30h4.16v4.10h-4.16zM162.58 322.40h4.16v4.10h-4.16zM270.74 322.40h4.16v4.10h-4.16zM291.54 322.40h4.16v4.10h-4.16zM304.02 322.40h8.32v4.10h-8.32zM316.50 322.40h8.32v4.10h-8.32zM337.30 322.40h4.16v4.10h-4.16zM345.62 322.40h8.32v4.10h-8.32zM358.10 322.40h4.16v4.10h-4.16zM162.58 326.50h4.16v4.10h-4.16zM299.86 326.50h8.32v4.10h-8.32zM324.82 326.50h4.16v4.10h-4.16zM337.30 326.50h12.48v4.10h-12.48zM353.94 326.50h4.16v4.10h-4.16zM366.42 326.50h4.16v4.10h-4.16zM8.66 330.60h8.32v4.10h-8.32zM62.74 330.60h4.16v4.10h-4.16zM75.22 330.60h8.32v4.10h-8.32zM100.18 330.60h4.16v4.10h-4.16zM141.78 330.60h4.16v4.10h-4.16zM191.70 330.60h4.16v4.10h-4.16zM270.74 330.60h4.16v4.10h-4.16zM291.54 330.60h4.16v4.10h-4.16zM299.86 330.60h12.48v4.10h-12.48zM316.50 330.60h4.16v4.10h-4.16zM328.98 330.60h12.48v4.10h-12.48zM345.62 330.60h4.16v4.10h-4.16zM353.94 330.60h4.16v4.10h-4.16zM366.42 330.60h4.16v4.10h-4.16zM33.62 334.70h4.16v4.10h-4.16zM141.78 334.70h4.16v4.10h-4.16zM245.78 334.70h4.16v4.10h-4.16zM270.74 334.70h4.16v4.10h-4.16zM299.86 334.70h4.16v4.10h-4.16zM308.18 334.70h4.16v4.10h-4.16zM316.50 334.70h4.16v4.10h-4.16zM328.98 334.70h4.16v4.10h-4.16zM345.62 334.70h4.16v4.10h-4.16zM353.94 334.70h8.32v4.10h-8.32zM341.46 338.80h4.16v4.10h-4.16zM362.26 338.80h8.32v4.10h-8.32z"/>
<path fill="#ff5555" d="M308.18 17.00h4.16v4.18h-4.16zM162.58 25.35h4.16v4.18h-4.16zM324.82 25.35h4.16v4.18h-4.16zM366.42 25.35h4.16v4.18h-4.16zM353.94 29.53h4.16v4.18h-4.16zM362.26 29.53h8.32v4.18h-8.32zM316.50 37.88h4.16v4.18h-4.16zM328.98 37.88h4.16v4.18h-4.16zM162.58 46.23h4.16v4.18h-4.16zM324.82 46.23h4.16v4.18h-4.16zM66.90 50.41h4.16v4.18h-4.16zM58.58 58.76h4.16v4.18h-4.16zM324.82 58.76h4.16v4.18h-4.16zM341.46 58.76h4.16v4.18h-4.16zM328.98 62.94h4.16v4.18h-4.16zM274.90 71.29h4.16v4.18h-4.16zM341.46 71.29h4.16v4.18h-4.16zM353.94 71.29h4.16v4.18h-4.16zM154.26 75.46h4.16v4.18h-4.16zM162.58 75.46h4.16v4.18h-4.16zM279.06 75.46h8.32v4.18h-8.32zM12.82 79.64h4.16v4.18h-4.16zM37.78 79.64h4.16v4.18h-4.16zM75.22 83.82h4.16v4.18h-4.16zM150.10 83.82h4.16v4.18h-4.16zM316.50 83.82h4.16v4.18h-4.16zM353.94 87.99h4.16v4.18h-4.16zM353.94 92.17h4.16v4.18h-4.16zM349.78 100.52h12.48v4.18h-12.48zM353.94 104.70h4.16v4.18h-4.16zM75.22 108.87h8.32v4.18h-8.32zM91.86 108.87h4.16v4.18h-4.16zM112.66 108.87h4.16v4.18h-4.16zM137.62 108.87h4.16v4.18h-4.16zM158.42 108.87h8.32v4.18h-8.32zM175.06 108.87h4.16v4.18h-4.16zM183.38 108.87h4.16v4.18h-4.16zM237.46 108.87h4.16v4.18h-4.16zM270.74 108.87h4.16v4.18h-4.16zM283.22 108.87h4.16v4.18h-4.16zM291.54 108.87h4.16v4.18h-4.16zM299.86 108.87h16.64v4.18h-16.64zM337.30 108.87h4.16v4.18h-4.16zM345.62 108.87h4.16v4.18h-4.16zM353.94 108.87h4.16v4.18h-4.16zM362.26 108.87h4.16v4.18h-4.16zM270.74 113.05h4.16v4.18h-4.16zM274.90 117.22h4.16v4.18h-4.16zM324.82 117.22h4.16v4.18h-4.16zM349.78 117.22h4.16v4.18h-4.16zM341.46 121.40h4.16v4.18h-4.16zM62.74 125.58h4.16v4.18h-4.16zM141.78 125.58h4.16v4.18h-4.16zM162.58 125.58h4.16v4.18h-4.16zM366.42 125.58h4.16v4.18h-4.16zM304.02 129.75h4.16v4.18h-4.16zM349.78 129.75h4.16v4.18h-4.16zM366.42 129.75h4.16v4.18h-4.16zM229.14 133.93h4.16v4.18h-4.16zM324.82 133.93h4.16v4.18h-4.16zM183.38 146.46h4.16v4.18h-4.16zM353.94 150.63h4.16v4.18h-4.16zM141.78 157.50h4.16v4.19h-4.16zM224.98 157.50h4.16v4.19h-4.16zM324.82 157.50h4.16v4.19h-4.16zM366.42 157.50h4.16v4.19h-4.16zM37.78 161.69h4.16v4.19h-4.16zM341.46 161.69h4.16v4.19h-4.16zM162.58 165.88h4.16v4.19h-4.16zM299.86 165.88h4.16v4.19h-4.16zM366.42 165.88h4.16v4.19h-4.16zM87.70 174.26h4.16v4.19h-4.16zM353.94 182.64h4.16v4.19h-4.16zM37.78 186.83h4.16v4.19h-4.16zM349.78 186.83h4.16v4.19h-4.16zM358.10 186.83h4.16v4.19h-4.16zM324.82 203.59h4.16v4.19h-4.16zM353.94 203.59h4.16v4.19h-4.16zM366.42 207.78h4.16v4.19h-4.16zM308.18 211.97h4.16v4.19h-4.16zM337.30 211.97h4.16v4.19h-4.16zM349.78 211.97h4.16v4.19h-4.16zM37.78 224.54h4.16v4.19h-4.16zM79.38 224.54h4.16v4.19h-4.16zM162.58 224.54h4.16v4.19h-4.16zM324.82 224.54h4.16v4.19h-4.16zM337.30 224.54h4.16v4.19h-4.16zM324.82 228.73h4.16v4.19h-4.16zM366.42 228.73h4.16v4.19h-4.16zM162.58 232.92h4.16v4.19h-4.16zM299.86 232.92h4.16v4.19h-4.16zM308.18 232.92h4.16v4.19h-4.16zM324.82 232.92h4.16v4.19h-4.16zM341.46 232.92h4.16v4.19h-4.16zM162.58 237.11h4.16v4.19h-4.16zM183.38 241.30h4.16v4.19h-4.16zM353.94 241.30h4.16v4.19h-4.16zM12.82 245.49h4.16v4.19h-4.16zM324.82 249.68h4.16v4.19h-4.16zM353.94 249.68h4.16v4.19h-4.16zM304.02 281.40h4.16v4.10h-4.16zM341.46 281.40h4.16v4.10h-4.16zM358.10 281.40h4.16v4.10h-4.16zM237.46 285.50h4.16v4.10h-4.16zM79.38 289.60h4.16v4.10h-4.16zM279.06 293.70h4.16v4.10h-4.16zM71.06 301.90h4.16v4.10h-4.16zM112.66 301.90h4.16v4.10h-4.16zM212.50 301.90h8.32v4.10h-8.32zM337.30 301.90h4.16v4.10h-4.16zM366.42 314.20h4.16v4.10h-4.16zM324.82 318.30h4.16v4.10h-4.16zM341.46 318.30h4.16v4.10h-4.16zM349.78 318.30h4.16v4.10h-4.16zM299.86 322.40h4.16v4.10h-4.16zM324.82 322.40h4.16v4.10h-4.16zM341.46 322.40h4.16v4.10h-4.16zM366.42 322.40h4.16v4.10h-4.16zM141.78 326.50h4.16v4.10h-4.16zM220.82 326.50h4.16v4.10h-4.16zM162.58 330.60h4.16v4.10h-4.16zM220.82 330.60h4.16v4.10h-4.16zM324.82 330.60h4.16v4.10h-4.16zM341.46 330.60h4.16v4.10h-4.16zM349.78 330.60h4.16v4.10h-4.16zM162.58 334.70h4.16v4.10h-4.16zM220.82 334.70h4.16v4.10h-4.16zM304.02 334.70h4.16v4.10h-4.16zM324.82 334.70h4.16v4.10h-4.16zM337.30 334.70h8.32v4.10h-8.32zM349.78 334.70h4.16v4.10h-4.16zM366.42 334.70h4.16v4.10h-4.16z"/>
<path fill="#fa0c0c" d="M353.94 17.00h4.16v4.18h-4.16zM37.78 21.18h4.16v4.18h-4.16zM270.74 25.35h4.16v4.18h-4.16zM341.46 25.35h4.16v4.18h-4.16zM349.78 25.35h4.16v4.18h-4.16zM179.22 29.53h4.16v4.18h-4.16zM299.86 29.53h4.16v4.18h-4.16zM341.46 29.53h8.32v4.18h-8.32zM37.78 33.70h4.16v4.18h-4.16zM162.58 37.88h4.16v4.18h-4.16zM162.58 42.06h4.16v4.18h-4.16zM353.94 42.06h4.16v4.18h-4.16zM366.42 42.06h4.16v4.18h-4.16zM37.78 46.23h4.16v4.18h-4.16zM353.94 46.23h4.16v4.18h-4.16zM366.42 46.23h4.16v4.18h-4.16zM337.30 50.41h4.16v4.18h-4.16zM345.62 50.41h4.16v4.18h-4.16zM353.94 54.58h4.16v4.18h-4.16zM362.26 54.58h8.32v4.18h-8.32zM162.58 58.76h4.16v4.18h-4.16zM183.38 58.76h4.16v4.18h-4.16zM362.26 58.76h8.32v4.18h-8.32zM337.30 62.94h4.16v4.18h-4.16zM353.94 62.94h4.16v4.18h-4.16zM37.78 67.11h4.16v4.18h-4.16zM366.42 71.29h4.16v4.18h-4.16zM12.82 75.46h4.16v4.18h-4.16zM37.78 75.46h4.16v4.18h-4.16zM353.94 75.46h4.16v4.18h-4.16zM353.94 79.64h4.16v4.18h-4.16zM270.74 83.82h4.16v4.18h-4.16zM341.46 87.99h4.16v4.18h-4.16zM366.42 87.99h4.16v4.18h-4.16zM37.78 92.17h4.16v4.18h-4.16zM270.74 96.34h4.16v4.18h-4.16zM353.94 96.34h4.16v4.18h-4.16zM366.42 100.52h4.16v4.18h-4.16zM37.78 104.70h4.16v4.18h-4.16zM37.78 108.87h4.16v4.18h-4.16zM129.30 108.87h4.16v4.18h-4.16zM316.50 108.87h4.16v4.18h-4.16zM328.98 108.87h8.32v4.18h-8.32zM341.46 108.87h4.16v4.18h-4.16zM349.78 108.87h4.16v4.18h-4.16zM358.10 108.87h4.16v4.18h-4.16zM366.42 108.87h4.16v4.18h-4.16zM316.50 113.05h4.16v4.18h-4.16zM324.82 113.05h4.16v4.18h-4.16zM366.42 113.05h4.16v4.18h-4.16zM353.94 117.22h4.16v4.18h-4.16zM366.42 117.22h4.16v4.18h-4.16zM353.94 121.40h4.16v4.18h-4.16zM366.42 121.40h4.16v4.18h-4.16zM341.46 125.58h4.16v4.18h-4.16zM353.94 125.58h4.16v4.18h-4.16zM183.38 129.75h4.16v4.18h-4.16zM299.86 129.75h4.16v4.18h-4.16zM37.78 133.93h4.16v4.18h-4.16zM341.46 133.93h4.16v4.18h-4.16zM287.38 138.10h4.16v4.18h-4.16zM58.58 142.28h4.16v4.18h-4.16zM353.94 142.28h4.16v4.18h-4.16zM353.94 146.46h4.16v4.18h-4.16zM366.42 146.46h4.16v4.18h-4.16zM362.26 150.63h8.32v4.18h-8.32zM341.46 157.50h4.16v4.19h-4.16zM353.94 157.50h4.16v4.19h-4.16zM91.86 161.69h4.16v4.19h-4.16zM362.26 161.69h4.16v4.19h-4.16zM37.78 165.88h4.16v4.19h-4.16zM341.46 165.88h4.16v4.19h-4.16zM353.94 165.88h4.16v4.19h-4.16zM324.82 170.07h4.16v4.19h-4.16zM37.78 174.26h4.16v4.19h-4.16zM62.74 174.26h4.16v4.19h-4.16zM316.50 174.26h4.16v4.19h-4.16zM37.78 178.45h4.16v4.19h-4.16zM341.46 178.45h4.16v4.19h-4.16zM353.94 178.45h4.16v4.19h-4.16zM299.86 182.64h4.16v4.19h-4.16zM341.46 182.64h4.16v4.19h-4.16zM304.02 186.83h4.16v4.19h-4.16zM8.66 191.02h8.32v4.19h-8.32zM37.78 195.21h4.16v4.19h-4.16zM233.30 199.40h4.16v4.19h-4.16zM304.02 199.40h4.16v4.19h-4.16zM37.78 203.59h4.16v4.19h-4.16zM141.78 207.78h4.16v4.19h-4.16zM337.30 207.78h4.16v4.19h-4.16zM345.62 207.78h4.16v4.19h-4.16zM37.78 211.97h4.16v4.19h-4.16zM341.46 211.97h4.16v4.19h-4.16zM341.46 216.16h4.16v4.19h-4.16zM366.42 216.16h4.16v4.19h-4.16zM37.78 220.35h4.16v4.19h-4.16zM366.42 220.35h4.16v4.19h-4.16zM295.70 224.54h4.16v4.19h-4.16zM341.46 224.54h4.16v4.19h-4.16zM353.94 224.54h4.16v4.19h-4.16zM366.42 224.54h4.16v4.19h-4.16zM37.78 228.73h4.16v4.19h-4.16zM353.94 228.73h4.16v4.19h-4.16zM37.78 232.92h4.16v4.19h-4.16zM349.78 232.92h4.16v4.19h-4.16zM79.38 237.11h4.16v4.19h-4.16zM341.46 237.11h4.16v4.19h-4.16zM353.94 237.11h4.16v4.19h-4.16zM366.42 241.30h4.16v4.19h-4.16zM37.78 245.49h4.16v4.19h-4.16zM37.78 249.68h4.16v4.19h-4.16zM224.98 249.68h4.16v4.19h-4.16zM37.78 256.80h4.16v4.10h-4.16zM324.82 256.80h4.16v4.10h-4.16zM37.78 260.90h4.16v4.10h-4.16zM37.78 265.00h4.16v4.10h-4.16zM353.94 265.00h4.16v4.10h-4.16zM37.78 269.10h4.16v4.10h-4.16zM353.94 273.20h4.16v4.10h-4.16zM37.78 277.30h4.16v4.10h-4.16zM299.86 281.40h4.16v4.10h-4.16zM316.50 285.50h4.16v4.10h-4.16zM341.46 285.50h4.16v4.10h-4.16zM29.46 289.60h4.16v4.10h-4.16zM366.42 289.60h4.16v4.10h-4.16zM341.46 293.70h4.16v4.10h-4.16zM353.94 297.80h4.16v4.10h-4.16zM270.74 301.90h4.16v4.10h-4.16zM291.54 301.90h4.16v4.10h-4.16zM353.94 301.90h4.16v4.10h-4.16zM37.78 306.00h4.16v4.10h-4.16zM37.78 310.10h4.16v4.10h-4.16zM37.78 314.20h4.16v4.10h-4.16zM353.94 318.30h4.16v4.10h-4.16zM366.42 318.30h4.16v4.10h-4.16zM37.78 322.40h4.16v4.10h-4.16zM353.94 322.40h4.16v4.10h-4.16zM37.78 326.50h4.16v4.10h-4.16zM37.78 330.60h4.16v4.10h-4.16zM37.78 334.70h4.16v4.10h-4.16zM37.78 338.80h4.16v4.10h-4.16z"/>
<path stroke="#fff" stroke-opacity="0.7" stroke-width="0.95" fill="none" d="M4.50 17.00H370.58M4.50 21.18H370.58M4.50 25.35H370.58M4.50 29.53H370.58M4.50 33.70H370.58M4.50 37.88H370.58M4.50 42.06H370.58M4.50 46.23H370.58M4.50 50.41H370.58M4.50 54.58H370.58M4.50 58.76H370.58M4.50 62.94H370.58M4.50 67.11H370.58M4.50 71.29H370.58M4.50 75.46H370.58M4.50 79.64H370.58M4.50 83.82H370.58M4.50 87.99H370.58M4.50 92.17H370.58M4.50 96.34H370.58M4.50 100.52H370.58M4.50 104.70H370.58M4.50 108.87H370.58M4.50 113.05H370.58M4.50 117.22H370.58M4.50 121.40H370.58M4.50 125.58H370.58M4.50 129.75H370.58M4.50 133.93H370.58M4.50 138.10H370.58M4.50 142.28H370.58M4.50 146.46H370.58M4.50 150.63H370.58M4.50 154.81H370.58M4.50 17.00V154.81M8.66 17.00V154.81M12.82 17.00V154.81M16.98 17.00V154.81M21.14 17.00V154.81M25.30 17.00V154.81M29.46 17.00V154.81M33.62 17.00V154.81M37.78 17.00V154.81M41.94 17.00V154.81M46.10 17.00V154.81M50.26 17.00V154.81M54.42 17.00V154.81M58.58 17.00V154.81M62.74 17.00V154.81M66.90 17.00V154.81M71.06 17.00V154.81M75.22 17.00V154.81M79.38 17.00V154.81M83.54 17.00V154.81M87.70 17.00V154.81M91.86 17.00V154.81M96.02 17.00V154.81M100.18 17.00V154.81M104.34 17.00V154.81M108.50 17.00V154.81M112.66 17.00V154.81M116.82 17.00V154.81M120.98 17.00V154.81M125.14 17.00V154.81M129.30 17.00V154.81M133.46 17.00V154.81M137.62 17.00V154.81M141.78 17.00V154.81M145.94 17.00V154.81M150.10 17.00V154.81M154.26 17.00V154.81M158.42 17.00V154.81M162.58 17.00V154.81M166.74 17.00V154.81M170.90 17.00V154.81M175.06 17.00V154.81M179.22 17.00V154.81M183.38 17.00V154.81M187.54 17.00V154.81M191.70 17.00V154.81M195.86 17.00V154.81M200.02 17.00V154.81M204.18 17.00V154.81M208.34 17.00V154.81M212.50 17.00V154.81M216.66 17.00V154.81M220.82 17.00V154.81M224.98 17.00V154.81M229.14 17.00V154.81M233.30 17.00V154.81M237.46 17.00V154.81M241.62 17.00V154.81M245.78 17.00V154.81M249.94 17.00V154.81M254.10 17.00V154.81M258.26 17.00V154.81M262.42 17.00V154.81M266.58 17.00V154.81M270.74 17.00V154.81M274.90 17.00V154.81M279.06 17.00V154.81M283.22 17.00V154.81M287.38 17.00V154.81M291.54 17.00V154.81M295.70 17.00V154.81M299.86 17.00V154.81M304.02 17.00V154.81M308.18 17.00V154.81M312.34 17.00V154.81M316.50 17.00V154.81M320.66 17.00V154.81M324.82 17.00V154.81M328.98 17.00V154.81M333.14 17.00V154.81M337.30 17.00V154.81M341.46 17.00V154.81M345.62 17.00V154.81M349.78 17.00V154.81M353.94 17.00V154.81M358.10 17.00V154.81M362.26 17.00V154.81M366.42 17.00V154.81M370.58 17.00V154.81M4.50 157.50H370.58M4.50 161.69H370.58M4.50 165.88H370.58M4.50 170.07H370.58M4.50 174.26H370.58M4.50 178.45H370.58M4.50 182.64H370.58M4.50 186.83H370.58M4.50 191.02H370.58M4.50 195.21H370.58M4.50 199.40H370.58M4.50 203.59H370.58M4.50 207.78H370.58M4.50 211.97H370.58M4.50 216.16H370.58M4.50 220.35H370.58M4.50 224.54H370.58M4.50 228.73H370.58M4.50 232.92H370.58M4.50 237.11H370.58M4.50 241.30H370.58M4.50 245.49H370.58M4.50 249.68H370.58M4.50 253.87H370.58M4.50 157.50V253.87M8.66 157.50V253.87M12.82 157.50V253.87M16.98 157.50V253.87M21.14 157.50V253.87M25.30 157.50V253.87M29.46 157.50V253.87M33.62 157.50V253.87M37.78 157.50V253.87M41.94 157.50V253.87M46.10 157.50V253.87M50.26 157.50V253.87M54.42 157.50V253.87M58.58 157.50V253.87M62.74 157.50V253.87M66.90 157.50V253.87M71.06 157.50V253.87M75.22 157.50V253.87M79.38 157.50V253.87M83.54 157.50V253.87M87.70 157.50V253.87M91.86 157.50V253.87M96.02 157.50V253.87M100.18 157.50V253.87M104.34 157.50V253.87M108.50 157.50V253.87M112.66 157.50V253.87M116.82 157.50V253.87M120.98 157.50V253.87M125.14 157.50V253.87M129.30 157.50V253.87M133.46 157.50V253.87M137.62 157.50V253.87M141.78 157.50V253.87M145.94 157.50V253.87M150.10 157.50V253.87M154.26 157.50V253.87M158.42 157.50V253.87M162.58 157.50V253.87M166.74 157.50V253.87M170.90 157.50V253.87M175.06 157.50V253.87M179.22 157.50V253.87M183.38 157.50V253.87M187.54 157.50V253.87M191.70 157.50V253.87M195.86 157.50V253.87M200.02 157.50V253.87M204.18 157.50V253.87M208.34 157.50V253.87M212.50 157.50V253.87M216.66 157.50V253.87M220.82 157.50V253.87M224.98 157.50V253.87M229.14 157.50V253.87M233.30 157.50V253.87M237.46 157.50V253.87M241.62 157.50V253.87M245.78 157.50V253.87M249.94 157.50V253.87M254.10 157.50V253.87M258.26 157.50V253.87M262.42 157.50V253.87M266.58 157.50V253.87M270.74 157.50V253.87M274.90 157.50V253.87M279.06 157.50V253.87M283.22 157.50V253.87M287.38 157.50V253.87M291.54 157.50V253.87M295.70 157.50V253.87M299.86 157.50V253.87M304.02 157.50V253.87M308.18 157.50V253.87M312.34 157.50V253.87M316.50 157.50V253.87M320.66 157.50V253.87M324.82 157.50V253.87M328.98 157.50V253.87M333.14 157.50V253.87M337.30 157.50V253.87M341.46 157.50V253.87M345.62 157.50V253.87M349.78 157.50V253.87M353.94 157.50V253.87M358.10 157.50V253.87M362.26 157.50V253.87M366.42 157.50V253.87M370.58 157.50V253.87M4.50 256.80H370.58M4.50 260.90H370.58M4.50 265.00H370.58M4.50 269.10H370.58M4.50 273.20H370.58M4.50 277.30H370.58M4.50 281.40H370.58M4.50 285.50H370.58M4.50 289.60H370.58M4.50 293.70H370.58M4.50 297.80H370.58M4.50 301.90H370.58M4.50 306.00H370.58M4.50 310.10H370.58M4.50 314.20H370.58M4.50 318.30H370.58M4.50 322.40H370.58M4.50 326.50H370.58M4.50 330.60H370.58M4.50 334.70H370.58M4.50 338.80H370.58M4.50 342.90H370.58M4.50 256.80V342.90M8.66 256.80V342.90M12.82 256.80V342.90M16.98 256.80V342.90M21.14 256.80V342.90M25.30 256.80V342.90M29.46 256.80V342.90M33.62 256.80V342.90M37.78 256.80V342.90M41.94 256.80V342.90M46.10 256.80V342.90M50.26 256.80V342.90M54.42 256.80V342.90M58.58 256.80V342.90M62.74 256.80V342.90M66.90 256.80V342.90M71.06 256.80V342.90M75.22 256.80V342.90M79.38 256.80V342.90M83.54 256.80V342.90M87.70 256.80V342.90M91.86 256.80V342.90M96.02 256.80V342.90M100.18 256.80V342.90M104.34 256.80V342.90M108.50 256.80V342.90M112.66 256.80V342.90M116.82 256.80V342.90M120.98 256.80V342.90M125.14 256.80V342.90M129.30 256.80V342.90M133.46 256.80V342.90M137.62 256.80V342.90M141.78 256.80V342.90M145.94 256.80V342.90M150.10 256.80V342.90M154.26 256.80V342.90M158.42 256.80V342.90M162.58 256.80V342.90M166.74 256.80V342.90M170.90 256.80V342.90M175.06 256.80V342.90M179.22 256.80V342.90M183.38 256.80V342.90M187.54 256.80V342.90M191.70 256.80V342.90M195.86 256.80V342.90M200.02 256.80V342.90M204.18 256.80V342.90M208.34 256.80V342.90M212.50 256.80V342.90M216.66 256.80V342.90M220.82 256.80V342.90M224.98 256.80V342.90M229.14 256.80V342.90M233.30 256.80V342.90M237.46 256.80V342.90M241.62 256.80V342.90M245.78 256.80V342.90M249.94 256.80V342.90M254.10 256.80V342.90M258.26 256.80V342.90M262.42 256.80V342.90M266.58 256.80V342.90M270.74 256.80V342.90M274.90 256.80V342.90M279.06 256.80V342.90M283.22 256.80V342.90M287.38 256.80V342.90M291.54 256.80V342.90M295.70 256.80V342.90M299.86 256.80V342.90M304.02 256.80V342.90M308.18 256.80V342.90M312.34 256.80V342.90M316.50 256.80V342.90M320.66 256.80V342.90M324.82 256.80V342.90M328.98 256.80V342.90M333.14 256.80V342.90M337.30 256.80V342.90M341.46 256.80V342.90M345.62 256.80V342.90M349.78 256.80V342.90M353.94 256.80V342.90M358.10 256.80V342.90M362.26 256.80V342.90M366.42 256.80V342.90M370.58 256.80V342.90"/>
<g font-size="4.1" fill="#3a3a3a" transform="translate(371.9,0) scale(0.9,1) translate(-371.9,0)">
<text x="371.9" y="20.54">CD44</text>
<text x="371.9" y="24.71">FLNA</text>
<text x="371.9" y="28.89">ICAM1</text>
<text x="371.9" y="33.07">IFNAR2</text>
<text x="371.9" y="37.24">PTPN6</text>
<text x="371.9" y="41.42">GBP2</text>
<text x="371.9" y="45.59">IFIT3</text>
<text x="371.9" y="49.77">IRF1</text>
<text x="371.9" y="53.95">IRF7</text>
<text x="371.9" y="58.12">MX1</text>
<text x="371.9" y="62.30">MX2</text>
<text x="371.9" y="66.47">PML</text>
<text x="371.9" y="70.65">TRIM25</text>
<text x="371.9" y="74.83">IFITM1</text>
<text x="371.9" y="79.00">TRIM22</text>
<text x="371.9" y="83.18">IRF9</text>
<text x="371.9" y="87.35">UBE2E1</text>
<text x="371.9" y="91.53">SOCS1</text>
<text x="371.9" y="95.71">SOCS3</text>
<text x="371.9" y="99.88">XAF1</text>
<text x="371.9" y="104.06">GBP5</text>
<text x="371.9" y="108.23">B2M</text>
<text x="371.9" y="112.41">HLA_B</text>
<text x="371.9" y="116.59">HLA_C</text>
<text x="371.9" y="120.76">HLA_E</text>
<text x="371.9" y="124.94">HLA_F</text>
<text x="371.9" y="129.11">IP30</text>
<text x="371.9" y="133.29">EIF4A1</text>
<text x="371.9" y="137.47">EIF4A2</text>
<text x="371.9" y="141.64">EIF4G2</text>
<text x="371.9" y="145.82">EIF4G3</text>
<text x="371.9" y="149.99">STAT1</text>
<text x="371.9" y="154.17">STAT2</text>
<text x="371.9" y="161.04">ITGAX</text>
<text x="371.9" y="165.23">LCN2</text>
<text x="371.9" y="169.42">MMP9</text>
<text x="371.9" y="173.61">TIMP1</text>
<text x="371.9" y="177.80">FN1</text>
<text x="371.9" y="181.99">TGFB1</text>
<text x="371.9" y="186.18">TNFRSF1B</text>
<text x="371.9" y="190.38">VEGFA</text>
<text x="371.9" y="194.56">CREB1</text>
<text x="371.9" y="198.75">SOCS3</text>
<text x="371.9" y="202.94">AKT1</text>
<text x="371.9" y="207.13">JAK3</text>
<text x="371.9" y="211.32">MCL1</text>
<text x="371.9" y="215.51">PIM1</text>
<text x="371.9" y="219.70">SOCS1</text>
<text x="371.9" y="223.90">BCL6</text>
<text x="371.9" y="228.09">CEBPD</text>
<text x="371.9" y="232.28">HIF1A</text>
<text x="371.9" y="236.47">JUNB</text>
<text x="371.9" y="240.66">POU2F1</text>
<text x="371.9" y="244.84">STAT1</text>
<text x="371.9" y="249.03">STAT3</text>
<text x="371.9" y="253.22">BATF</text>
<text x="371.9" y="260.30">ICAM1</text>
<text x="371.9" y="264.40">CXCL2</text>
<text x="371.9" y="268.50">CXCL3</text>
<text x="371.9" y="272.60">PTGS2</text>
<text x="371.9" y="276.70">CCL2</text>
<text x="371.9" y="280.80">CCL20</text>
<text x="371.9" y="284.90">TNFRSF1B</text>
<text x="371.9" y="289.00">LIMS1</text>
<text x="371.9" y="293.10">TRAF3IP2</text>
<text x="371.9" y="297.20">MAPK13</text>
<text x="371.9" y="301.30">MAP3K3</text>
<text x="371.9" y="305.40">TNFAIP3</text>
<text x="371.9" y="309.50">CFLAR</text>
<text x="371.9" y="313.60">SOCS3</text>
<text x="371.9" y="317.70">NFKBIA</text>
<text x="371.9" y="321.80">BCL3</text>
<text x="371.9" y="325.90">CEBPB</text>
<text x="371.9" y="330.00">FOS</text>
<text x="371.9" y="334.10">IRF1</text>
<text x="371.9" y="338.20">JUNB</text>
<text x="371.9" y="342.30">RELA</text>
</g>
<rect x="393.1" y="17.00" width="3.2" height="12.53" fill="#a6cee3"/>
<rect x="393.1" y="29.53" width="3.2" height="8.35" fill="#1f78b4"/>
<rect x="393.1" y="37.88" width="3.2" height="45.94" fill="#b2df8a"/>
<rect x="393.1" y="83.82" width="3.2" height="20.88" fill="#33a02c"/>
<rect x="393.1" y="104.70" width="3.2" height="25.06" fill="#fb9a99"/>
<rect x="393.1" y="129.75" width="3.2" height="16.70" fill="#e31a1c"/>
<rect x="393.1" y="146.46" width="3.2" height="8.35" fill="#fdbf6f"/>
<rect x="393.1" y="157.50" width="3.2" height="16.76" fill="#a6cee3"/>
<rect x="393.1" y="174.26" width="3.2" height="16.76" fill="#1f78b4"/>
<rect x="393.1" y="191.02" width="3.2" height="29.33" fill="#33a02c"/>
<rect x="393.1" y="220.35" width="3.2" height="33.52" fill="#fdbf6f"/>
<rect x="393.1" y="256.80" width="3.2" height="4.10" fill="#a6cee3"/>
<rect x="393.1" y="260.90" width="3.2" height="24.60" fill="#1f78b4"/>
<rect x="393.1" y="285.50" width="3.2" height="28.70" fill="#33a02c"/>
<rect x="393.1" y="314.20" width="3.2" height="28.70" fill="#fdbf6f"/>
<rect x="403.4" y="17" width="4.7" height="137.8" fill="#c4a6e4"/>
<rect x="403.4" y="157.5" width="4.7" height="96.4" fill="#22af83"/>
<rect x="403.4" y="256.8" width="4.7" height="86.1" fill="#dca294"/>
<g font-size="6.2">
<text transform="translate(416.4,32) rotate(90)" fill="#c1a3e2" stroke="#c1a3e2" stroke-width="0.25" textLength="107" lengthAdjust="spacingAndGlyphs">INTERFERON SIGNALLING PATHWAY</text>
<text transform="translate(416.2,164) rotate(90)" fill="#22af83" stroke="#22af83" stroke-width="0.1" font-weight="bold" textLength="72.5" lengthAdjust="spacingAndGlyphs">TNF SIGNALLING PATHWAY</text>
<text transform="translate(416.2,254.2) rotate(90)" fill="#dba091" stroke="#dba091" stroke-width="0.25" textLength="89.4" lengthAdjust="spacingAndGlyphs">IL-4/-13 SIGNALLING PATHWAY</text>
</g>
<text x="564.6" y="27" font-size="13.5" fill="#222">a</text>
<g font-size="6.9" fill="#2a2a2a" stroke="#2a2a2a" stroke-width="0.08">
<rect x="444.8" y="211.8" width="5.5" height="5" fill="#a6cee3"/><text x="454.3" y="216.8" textLength="141.5" lengthAdjust="spacingAndGlyphs">Cellular adhesion / interaction and extracellular matrix</text>
<rect x="444.8" y="226.0" width="5.5" height="5" fill="#1f78b4"/><text x="454.3" y="231.0" textLength="103.5" lengthAdjust="spacingAndGlyphs">Cytokines / chemokines and their ligand</text>
<rect x="444.8" y="241.8" width="5.5" height="5" fill="#b2df8a"/><text x="454.3" y="246.8" textLength="72.5" lengthAdjust="spacingAndGlyphs">Interferon stimulated genes</text>
<rect x="444.8" y="256.7" width="5.5" height="5" fill="#33a02c"/><text x="454.3" y="261.7" textLength="57.5" lengthAdjust="spacingAndGlyphs">Intracellular signalling</text>
<rect x="444.8" y="272.5" width="5.5" height="5" fill="#fb9a99"/><text x="454.3" y="277.5" textLength="94.5" lengthAdjust="spacingAndGlyphs">Major complex of histocompatibility</text>
<rect x="444.8" y="288.1" width="5.5" height="5" fill="#e31a1c"/><text x="454.3" y="293.1" textLength="78.2" lengthAdjust="spacingAndGlyphs">RNA cytoplasmic translational</text>
<rect x="444.8" y="303.0" width="5.5" height="5" fill="#fdbf6f"/><text x="454.3" y="308.0" textLength="51.3" lengthAdjust="spacingAndGlyphs">Transcription factor</text>
</g>
<defs><linearGradient id="g" x1="0" x2="1" y1="0" y2="0"><stop offset="0" stop-color="#0000ff"/><stop offset="0.5" stop-color="#ffffff"/><stop offset="1" stop-color="#ff0000"/></linearGradient></defs>
<rect x="442.9" y="328.3" width="95.8" height="4.9" fill="url(#g)"/>
<rect x="284.6" y="317.6" width="1.3" height="1.2" fill="#b040d0" opacity="0.8"/>
<rect x="500.2" y="316.9" width="1.3" height="3.5" fill="#4de3f2"/>
<g font-size="5.3" fill="#444">
<text x="433.6" y="338.4" textLength="18.6" lengthAdjust="spacingAndGlyphs">row min</text>
<text x="528.9" y="338.6" textLength="19.7" lengthAdjust="spacingAndGlyphs" fill="#666">row max</text>
</g>
</svg>
</body></html>
